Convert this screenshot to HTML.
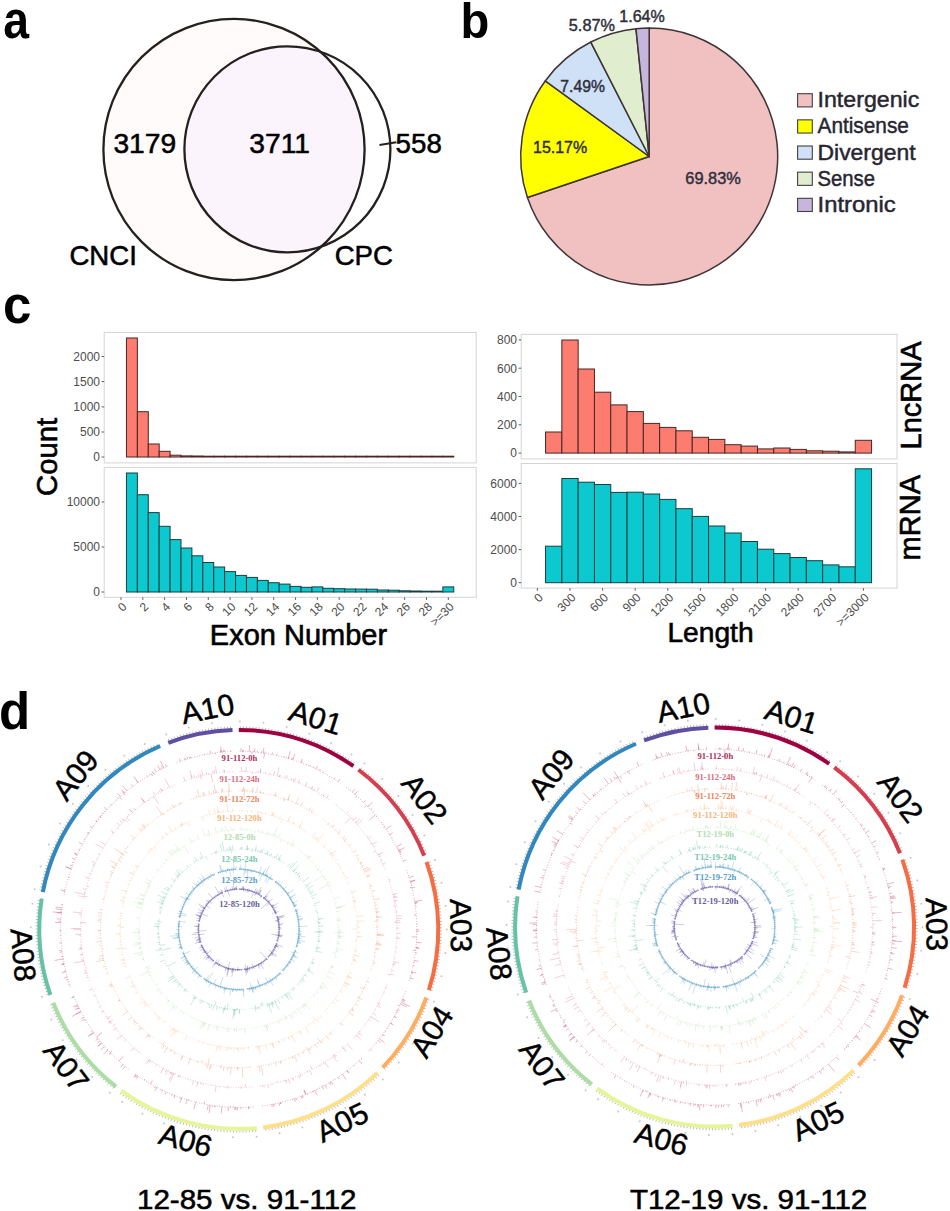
<!DOCTYPE html>
<html><head><meta charset="utf-8"><title>Figure</title>
<style>html,body{margin:0;padding:0;background:#fff;}body{width:950px;height:1211px;overflow:hidden;font-family:"Liberation Sans",sans-serif;}svg{display:block;}</style>
</head><body>
<svg width="950" height="1211" viewBox="0 0 950 1211"><text x="3.3" y="37.8" font-size="51" fill="#000" text-anchor="start" font-weight="bold" font-family='"Liberation Sans", sans-serif' textLength="25.8" lengthAdjust="spacingAndGlyphs" >a</text>
<text x="460.6" y="37.5" font-size="49.8" fill="#000" text-anchor="start" font-weight="bold" font-family='"Liberation Sans", sans-serif' textLength="28.8" lengthAdjust="spacingAndGlyphs" >b</text>
<text x="3" y="322.8" font-size="51" fill="#000" text-anchor="start" font-weight="bold" font-family='"Liberation Sans", sans-serif' >c</text>
<text x="-1" y="729.3" font-size="51" fill="#000" text-anchor="start" font-weight="bold" font-family='"Liberation Sans", sans-serif' >d</text>
<defs><clipPath id="bigc"><circle cx="234.0" cy="149.5" r="130.6"/></clipPath></defs>
<circle cx="234.0" cy="149.5" r="130.6" fill="#fffbfa"/>
<circle cx="287.4" cy="149.3" r="103.0" fill="#fcf4fd" clip-path="url(#bigc)"/>
<circle cx="234.0" cy="149.5" r="130.6" fill="none" stroke="#24201e" stroke-width="2.3"/>
<circle cx="287.4" cy="149.3" r="103.0" fill="none" stroke="#24201e" stroke-width="2.3"/>
<line x1="379.5" y1="145" x2="396.3" y2="142.3" stroke="#24201e" stroke-width="1.9"/>
<text x="113.4" y="152.8" font-size="28.2" fill="#000" text-anchor="start" font-weight="normal" font-family='"Liberation Sans", sans-serif' stroke="#000" stroke-width="0.55">3179</text>
<text x="249.3" y="152.8" font-size="28.2" fill="#000" text-anchor="start" font-weight="normal" font-family='"Liberation Sans", sans-serif' stroke="#000" stroke-width="0.55">3711</text>
<text x="395.6" y="152.8" font-size="28.2" fill="#000" text-anchor="start" font-weight="normal" font-family='"Liberation Sans", sans-serif' textLength="46.2" lengthAdjust="spacingAndGlyphs" stroke="#000" stroke-width="0.55">558</text>
<text x="69.4" y="264.6" font-size="27.6" fill="#000" text-anchor="start" font-weight="normal" font-family='"Liberation Sans", sans-serif' stroke="#000" stroke-width="0.55">CNCI</text>
<text x="334.7" y="264.7" font-size="27.6" fill="#000" text-anchor="start" font-weight="normal" font-family='"Liberation Sans", sans-serif' stroke="#000" stroke-width="0.55">CPC</text>
<path d="M649.2 156.5 L649.2 28 A128.5 128.5 0 1 1 527.42 197.51 Z" fill="#f1c1c1" stroke="#3e3434" stroke-width="1.5" stroke-linejoin="round"/>
<path d="M649.2 156.5 L527.42 197.51 A128.5 128.5 0 0 1 545.24 80.97 Z" fill="#ffff00" stroke="#3e3434" stroke-width="1.5" stroke-linejoin="round"/>
<path d="M649.2 156.5 L545.24 80.97 A128.5 128.5 0 0 1 590.79 42.04 Z" fill="#cfe1f6" stroke="#3e3434" stroke-width="1.5" stroke-linejoin="round"/>
<path d="M649.2 156.5 L590.79 42.04 A128.5 128.5 0 0 1 635.98 28.68 Z" fill="#e1edcf" stroke="#3e3434" stroke-width="1.5" stroke-linejoin="round"/>
<path d="M649.2 156.5 L635.98 28.68 A128.5 128.5 0 0 1 649.2 28 Z" fill="#c6b6dd" stroke="#3e3434" stroke-width="1.5" stroke-linejoin="round"/>
<text x="619.3" y="22.1" font-size="16.5" fill="#2e2e3c" text-anchor="start" font-weight="normal" font-family='"Liberation Sans", sans-serif' textLength="45.5" lengthAdjust="spacingAndGlyphs" stroke="#2e2e3c" stroke-width="0.45">1.64%</text>
<text x="568.8" y="30.5" font-size="16.5" fill="#2e2e3c" text-anchor="start" font-weight="normal" font-family='"Liberation Sans", sans-serif' textLength="46.2" lengthAdjust="spacingAndGlyphs" stroke="#2e2e3c" stroke-width="0.45">5.87%</text>
<text x="560.3" y="91.6" font-size="16.5" fill="#2e2e3c" text-anchor="start" font-weight="normal" font-family='"Liberation Sans", sans-serif' textLength="44.6" lengthAdjust="spacingAndGlyphs" stroke="#2e2e3c" stroke-width="0.45">7.49%</text>
<text x="533" y="152.9" font-size="16.5" fill="#2e2e3c" text-anchor="start" font-weight="normal" font-family='"Liberation Sans", sans-serif' textLength="54.2" lengthAdjust="spacingAndGlyphs" stroke="#2e2e3c" stroke-width="0.45">15.17%</text>
<text x="685.3" y="184.4" font-size="16.5" fill="#2e2e3c" text-anchor="start" font-weight="normal" font-family='"Liberation Sans", sans-serif' textLength="55.5" lengthAdjust="spacingAndGlyphs" stroke="#2e2e3c" stroke-width="0.45">69.83%</text>
<rect x="797.6" y="93.7" width="14.7" height="13.2" fill="#f1c1c1" stroke="#404040" stroke-width="1.1"/>
<rect x="797.6" y="119.85" width="14.7" height="13.2" fill="#ffff00" stroke="#404040" stroke-width="1.1"/>
<rect x="797.6" y="146" width="14.7" height="13.2" fill="#cfe1f6" stroke="#404040" stroke-width="1.1"/>
<rect x="797.6" y="172.15" width="14.7" height="13.2" fill="#e1edcf" stroke="#404040" stroke-width="1.1"/>
<rect x="797.6" y="198.3" width="14.7" height="13.2" fill="#c6b6dd" stroke="#404040" stroke-width="1.1"/>
<text x="817.5" y="107.3" font-size="21.6" fill="#262630" text-anchor="start" font-weight="normal" font-family='"Liberation Sans", sans-serif' textLength="101.8" lengthAdjust="spacingAndGlyphs" stroke="#262630" stroke-width="0.45">Intergenic</text>
<text x="817.5" y="133.45" font-size="21.6" fill="#262630" text-anchor="start" font-weight="normal" font-family='"Liberation Sans", sans-serif' textLength="91.4" lengthAdjust="spacingAndGlyphs" stroke="#262630" stroke-width="0.45">Antisense</text>
<text x="817.5" y="159.6" font-size="21.6" fill="#262630" text-anchor="start" font-weight="normal" font-family='"Liberation Sans", sans-serif' textLength="98.1" lengthAdjust="spacingAndGlyphs" stroke="#262630" stroke-width="0.45">Divergent</text>
<text x="817.5" y="185.75" font-size="21.6" fill="#262630" text-anchor="start" font-weight="normal" font-family='"Liberation Sans", sans-serif' textLength="57.5" lengthAdjust="spacingAndGlyphs" stroke="#262630" stroke-width="0.45">Sense</text>
<text x="817.5" y="211.9" font-size="21.6" fill="#262630" text-anchor="start" font-weight="normal" font-family='"Liberation Sans", sans-serif' textLength="78.2" lengthAdjust="spacingAndGlyphs" stroke="#262630" stroke-width="0.45">Intronic</text>
<rect x="104.2" y="332.4" width="372" height="130.5" fill="#fff" stroke="#d4d4d4" stroke-width="1"/>
<rect x="104.2" y="467.4" width="372" height="129.9" fill="#fff" stroke="#d4d4d4" stroke-width="1"/>
<rect x="126.45" y="338" width="10.91" height="119" fill="#fc7c70" stroke="#4a2623" stroke-width="1"/>
<rect x="137.36" y="411.7" width="10.91" height="45.3" fill="#fc7c70" stroke="#4a2623" stroke-width="1"/>
<rect x="148.28" y="444" width="10.91" height="13" fill="#fc7c70" stroke="#4a2623" stroke-width="1"/>
<rect x="159.18" y="451.3" width="10.91" height="5.7" fill="#fc7c70" stroke="#4a2623" stroke-width="1"/>
<rect x="170.09" y="455.2" width="10.91" height="1.8" fill="#fc7c70" stroke="#4a2623" stroke-width="1"/>
<rect x="181" y="455.9" width="10.91" height="1.1" fill="#fc7c70" stroke="#4a2623" stroke-width="1"/>
<rect x="191.91" y="456" width="10.91" height="1" fill="#fc7c70" stroke="#4a2623" stroke-width="1"/>
<rect x="202.82" y="456.2" width="10.91" height="0.8" fill="#fc7c70" stroke="#4a2623" stroke-width="1"/>
<rect x="213.73" y="456.2" width="10.91" height="0.8" fill="#fc7c70" stroke="#4a2623" stroke-width="1"/>
<rect x="224.64" y="456.2" width="10.91" height="0.8" fill="#fc7c70" stroke="#4a2623" stroke-width="1"/>
<rect x="235.55" y="456.2" width="10.91" height="0.8" fill="#fc7c70" stroke="#4a2623" stroke-width="1"/>
<rect x="246.47" y="456.2" width="10.91" height="0.8" fill="#fc7c70" stroke="#4a2623" stroke-width="1"/>
<rect x="257.38" y="456.2" width="10.91" height="0.8" fill="#fc7c70" stroke="#4a2623" stroke-width="1"/>
<rect x="268.29" y="456.2" width="10.91" height="0.8" fill="#fc7c70" stroke="#4a2623" stroke-width="1"/>
<rect x="279.19" y="456.2" width="10.91" height="0.8" fill="#fc7c70" stroke="#4a2623" stroke-width="1"/>
<rect x="290.11" y="456.2" width="10.91" height="0.8" fill="#fc7c70" stroke="#4a2623" stroke-width="1"/>
<rect x="301.02" y="456.2" width="10.91" height="0.8" fill="#fc7c70" stroke="#4a2623" stroke-width="1"/>
<rect x="311.93" y="456.2" width="10.91" height="0.8" fill="#fc7c70" stroke="#4a2623" stroke-width="1"/>
<rect x="322.83" y="456.2" width="10.91" height="0.8" fill="#fc7c70" stroke="#4a2623" stroke-width="1"/>
<rect x="333.75" y="456.2" width="10.91" height="0.8" fill="#fc7c70" stroke="#4a2623" stroke-width="1"/>
<rect x="344.66" y="456.2" width="10.91" height="0.8" fill="#fc7c70" stroke="#4a2623" stroke-width="1"/>
<rect x="355.56" y="456.2" width="10.91" height="0.8" fill="#fc7c70" stroke="#4a2623" stroke-width="1"/>
<rect x="366.48" y="456.2" width="10.91" height="0.8" fill="#fc7c70" stroke="#4a2623" stroke-width="1"/>
<rect x="377.39" y="456.2" width="10.91" height="0.8" fill="#fc7c70" stroke="#4a2623" stroke-width="1"/>
<rect x="388.3" y="456.2" width="10.91" height="0.8" fill="#fc7c70" stroke="#4a2623" stroke-width="1"/>
<rect x="399.21" y="456.2" width="10.91" height="0.8" fill="#fc7c70" stroke="#4a2623" stroke-width="1"/>
<rect x="410.12" y="456.2" width="10.91" height="0.8" fill="#fc7c70" stroke="#4a2623" stroke-width="1"/>
<rect x="421.03" y="456.2" width="10.91" height="0.8" fill="#fc7c70" stroke="#4a2623" stroke-width="1"/>
<rect x="431.94" y="456.2" width="10.91" height="0.8" fill="#fc7c70" stroke="#4a2623" stroke-width="1"/>
<rect x="442.85" y="456.2" width="10.91" height="0.8" fill="#fc7c70" stroke="#4a2623" stroke-width="1"/>
<line x1="101.6" y1="457" x2="104.2" y2="457" stroke="#4d4d4d" stroke-width="0.9"/>
<text x="100" y="461.3" font-size="12" fill="#4d4d4d" text-anchor="end" font-weight="normal" font-family='"Liberation Sans", sans-serif' >0</text>
<line x1="101.6" y1="432" x2="104.2" y2="432" stroke="#4d4d4d" stroke-width="0.9"/>
<text x="100" y="436.3" font-size="12" fill="#4d4d4d" text-anchor="end" font-weight="normal" font-family='"Liberation Sans", sans-serif' >500</text>
<line x1="101.6" y1="406.9" x2="104.2" y2="406.9" stroke="#4d4d4d" stroke-width="0.9"/>
<text x="100" y="411.2" font-size="12" fill="#4d4d4d" text-anchor="end" font-weight="normal" font-family='"Liberation Sans", sans-serif' >1000</text>
<line x1="101.6" y1="381.6" x2="104.2" y2="381.6" stroke="#4d4d4d" stroke-width="0.9"/>
<text x="100" y="385.9" font-size="12" fill="#4d4d4d" text-anchor="end" font-weight="normal" font-family='"Liberation Sans", sans-serif' >1500</text>
<line x1="101.6" y1="356.5" x2="104.2" y2="356.5" stroke="#4d4d4d" stroke-width="0.9"/>
<text x="100" y="360.8" font-size="12" fill="#4d4d4d" text-anchor="end" font-weight="normal" font-family='"Liberation Sans", sans-serif' >2000</text>
<rect x="126.45" y="473" width="10.91" height="119" fill="#0bc9cf" stroke="#173f40" stroke-width="1"/>
<rect x="137.36" y="494.7" width="10.91" height="97.3" fill="#0bc9cf" stroke="#173f40" stroke-width="1"/>
<rect x="148.28" y="512.6" width="10.91" height="79.4" fill="#0bc9cf" stroke="#173f40" stroke-width="1"/>
<rect x="159.18" y="526.3" width="10.91" height="65.7" fill="#0bc9cf" stroke="#173f40" stroke-width="1"/>
<rect x="170.09" y="539.6" width="10.91" height="52.4" fill="#0bc9cf" stroke="#173f40" stroke-width="1"/>
<rect x="181" y="548" width="10.91" height="44" fill="#0bc9cf" stroke="#173f40" stroke-width="1"/>
<rect x="191.91" y="555.8" width="10.91" height="36.2" fill="#0bc9cf" stroke="#173f40" stroke-width="1"/>
<rect x="202.82" y="562.5" width="10.91" height="29.5" fill="#0bc9cf" stroke="#173f40" stroke-width="1"/>
<rect x="213.73" y="567" width="10.91" height="25" fill="#0bc9cf" stroke="#173f40" stroke-width="1"/>
<rect x="224.64" y="571.6" width="10.91" height="20.4" fill="#0bc9cf" stroke="#173f40" stroke-width="1"/>
<rect x="235.55" y="575.4" width="10.91" height="16.6" fill="#0bc9cf" stroke="#173f40" stroke-width="1"/>
<rect x="246.47" y="577.4" width="10.91" height="14.6" fill="#0bc9cf" stroke="#173f40" stroke-width="1"/>
<rect x="257.38" y="580.4" width="10.91" height="11.6" fill="#0bc9cf" stroke="#173f40" stroke-width="1"/>
<rect x="268.29" y="582.7" width="10.91" height="9.3" fill="#0bc9cf" stroke="#173f40" stroke-width="1"/>
<rect x="279.19" y="584.1" width="10.91" height="7.9" fill="#0bc9cf" stroke="#173f40" stroke-width="1"/>
<rect x="290.11" y="586.4" width="10.91" height="5.6" fill="#0bc9cf" stroke="#173f40" stroke-width="1"/>
<rect x="301.02" y="587.3" width="10.91" height="4.7" fill="#0bc9cf" stroke="#173f40" stroke-width="1"/>
<rect x="311.93" y="586.9" width="10.91" height="5.1" fill="#0bc9cf" stroke="#173f40" stroke-width="1"/>
<rect x="322.83" y="588.3" width="10.91" height="3.7" fill="#0bc9cf" stroke="#173f40" stroke-width="1"/>
<rect x="333.75" y="588.7" width="10.91" height="3.3" fill="#0bc9cf" stroke="#173f40" stroke-width="1"/>
<rect x="344.66" y="589" width="10.91" height="3" fill="#0bc9cf" stroke="#173f40" stroke-width="1"/>
<rect x="355.56" y="589.1" width="10.91" height="2.9" fill="#0bc9cf" stroke="#173f40" stroke-width="1"/>
<rect x="366.48" y="589.2" width="10.91" height="2.8" fill="#0bc9cf" stroke="#173f40" stroke-width="1"/>
<rect x="377.39" y="590" width="10.91" height="2" fill="#0bc9cf" stroke="#173f40" stroke-width="1"/>
<rect x="388.3" y="590.2" width="10.91" height="1.8" fill="#0bc9cf" stroke="#173f40" stroke-width="1"/>
<rect x="399.21" y="590.8" width="10.91" height="1.2" fill="#0bc9cf" stroke="#173f40" stroke-width="1"/>
<rect x="410.12" y="591" width="10.91" height="1" fill="#0bc9cf" stroke="#173f40" stroke-width="1"/>
<rect x="421.03" y="591.2" width="10.91" height="0.8" fill="#0bc9cf" stroke="#173f40" stroke-width="1"/>
<rect x="431.94" y="591.2" width="10.91" height="0.8" fill="#0bc9cf" stroke="#173f40" stroke-width="1"/>
<rect x="442.85" y="586.9" width="10.91" height="5.1" fill="#0bc9cf" stroke="#173f40" stroke-width="1"/>
<line x1="101.6" y1="592" x2="104.2" y2="592" stroke="#4d4d4d" stroke-width="0.9"/>
<text x="100" y="596.3" font-size="12" fill="#4d4d4d" text-anchor="end" font-weight="normal" font-family='"Liberation Sans", sans-serif' >0</text>
<line x1="101.6" y1="547" x2="104.2" y2="547" stroke="#4d4d4d" stroke-width="0.9"/>
<text x="100" y="551.3" font-size="12" fill="#4d4d4d" text-anchor="end" font-weight="normal" font-family='"Liberation Sans", sans-serif' >5000</text>
<line x1="101.6" y1="502" x2="104.2" y2="502" stroke="#4d4d4d" stroke-width="0.9"/>
<text x="100" y="506.3" font-size="12" fill="#4d4d4d" text-anchor="end" font-weight="normal" font-family='"Liberation Sans", sans-serif' >10000</text>
<line x1="121" y1="597.3" x2="121" y2="599.9" stroke="#4d4d4d" stroke-width="0.9"/>
<text transform="translate(127.4 607.5) rotate(-45)" font-size="12" fill="#4d4d4d" text-anchor="end" font-family='"Liberation Sans", sans-serif'>0</text>
<line x1="142.82" y1="597.3" x2="142.82" y2="599.9" stroke="#4d4d4d" stroke-width="0.9"/>
<text transform="translate(149.22 607.5) rotate(-45)" font-size="12" fill="#4d4d4d" text-anchor="end" font-family='"Liberation Sans", sans-serif'>2</text>
<line x1="164.64" y1="597.3" x2="164.64" y2="599.9" stroke="#4d4d4d" stroke-width="0.9"/>
<text transform="translate(171.04 607.5) rotate(-45)" font-size="12" fill="#4d4d4d" text-anchor="end" font-family='"Liberation Sans", sans-serif'>4</text>
<line x1="186.46" y1="597.3" x2="186.46" y2="599.9" stroke="#4d4d4d" stroke-width="0.9"/>
<text transform="translate(192.86 607.5) rotate(-45)" font-size="12" fill="#4d4d4d" text-anchor="end" font-family='"Liberation Sans", sans-serif'>6</text>
<line x1="208.28" y1="597.3" x2="208.28" y2="599.9" stroke="#4d4d4d" stroke-width="0.9"/>
<text transform="translate(214.68 607.5) rotate(-45)" font-size="12" fill="#4d4d4d" text-anchor="end" font-family='"Liberation Sans", sans-serif'>8</text>
<line x1="230.1" y1="597.3" x2="230.1" y2="599.9" stroke="#4d4d4d" stroke-width="0.9"/>
<text transform="translate(236.5 607.5) rotate(-45)" font-size="12" fill="#4d4d4d" text-anchor="end" font-family='"Liberation Sans", sans-serif'>10</text>
<line x1="251.92" y1="597.3" x2="251.92" y2="599.9" stroke="#4d4d4d" stroke-width="0.9"/>
<text transform="translate(258.32 607.5) rotate(-45)" font-size="12" fill="#4d4d4d" text-anchor="end" font-family='"Liberation Sans", sans-serif'>12</text>
<line x1="273.74" y1="597.3" x2="273.74" y2="599.9" stroke="#4d4d4d" stroke-width="0.9"/>
<text transform="translate(280.14 607.5) rotate(-45)" font-size="12" fill="#4d4d4d" text-anchor="end" font-family='"Liberation Sans", sans-serif'>14</text>
<line x1="295.56" y1="597.3" x2="295.56" y2="599.9" stroke="#4d4d4d" stroke-width="0.9"/>
<text transform="translate(301.96 607.5) rotate(-45)" font-size="12" fill="#4d4d4d" text-anchor="end" font-family='"Liberation Sans", sans-serif'>16</text>
<line x1="317.38" y1="597.3" x2="317.38" y2="599.9" stroke="#4d4d4d" stroke-width="0.9"/>
<text transform="translate(323.78 607.5) rotate(-45)" font-size="12" fill="#4d4d4d" text-anchor="end" font-family='"Liberation Sans", sans-serif'>18</text>
<line x1="339.2" y1="597.3" x2="339.2" y2="599.9" stroke="#4d4d4d" stroke-width="0.9"/>
<text transform="translate(345.6 607.5) rotate(-45)" font-size="12" fill="#4d4d4d" text-anchor="end" font-family='"Liberation Sans", sans-serif'>20</text>
<line x1="361.02" y1="597.3" x2="361.02" y2="599.9" stroke="#4d4d4d" stroke-width="0.9"/>
<text transform="translate(367.42 607.5) rotate(-45)" font-size="12" fill="#4d4d4d" text-anchor="end" font-family='"Liberation Sans", sans-serif'>22</text>
<line x1="382.84" y1="597.3" x2="382.84" y2="599.9" stroke="#4d4d4d" stroke-width="0.9"/>
<text transform="translate(389.24 607.5) rotate(-45)" font-size="12" fill="#4d4d4d" text-anchor="end" font-family='"Liberation Sans", sans-serif'>24</text>
<line x1="404.66" y1="597.3" x2="404.66" y2="599.9" stroke="#4d4d4d" stroke-width="0.9"/>
<text transform="translate(411.06 607.5) rotate(-45)" font-size="12" fill="#4d4d4d" text-anchor="end" font-family='"Liberation Sans", sans-serif'>26</text>
<line x1="426.48" y1="597.3" x2="426.48" y2="599.9" stroke="#4d4d4d" stroke-width="0.9"/>
<text transform="translate(432.88 607.5) rotate(-45)" font-size="12" fill="#4d4d4d" text-anchor="end" font-family='"Liberation Sans", sans-serif'>28</text>
<line x1="448.3" y1="597.3" x2="448.3" y2="599.9" stroke="#4d4d4d" stroke-width="0.9"/>
<text transform="translate(454.7 607.5) rotate(-45)" font-size="12" fill="#4d4d4d" text-anchor="end" font-family='"Liberation Sans", sans-serif'>&gt;=30</text>
<rect x="521.2" y="334.3" width="375.8" height="124.6" fill="#fff" stroke="#d4d4d4" stroke-width="1"/>
<rect x="521.2" y="463.5" width="375.8" height="124.6" fill="#fff" stroke="#d4d4d4" stroke-width="1"/>
<rect x="545.55" y="432" width="16.3" height="21.1" fill="#fc7c70" stroke="#4a2623" stroke-width="1"/>
<rect x="561.85" y="340" width="16.3" height="113.1" fill="#fc7c70" stroke="#4a2623" stroke-width="1"/>
<rect x="578.15" y="369" width="16.3" height="84.1" fill="#fc7c70" stroke="#4a2623" stroke-width="1"/>
<rect x="594.45" y="392.2" width="16.3" height="60.9" fill="#fc7c70" stroke="#4a2623" stroke-width="1"/>
<rect x="610.75" y="404.9" width="16.3" height="48.2" fill="#fc7c70" stroke="#4a2623" stroke-width="1"/>
<rect x="627.05" y="411.6" width="16.3" height="41.5" fill="#fc7c70" stroke="#4a2623" stroke-width="1"/>
<rect x="643.35" y="423.4" width="16.3" height="29.7" fill="#fc7c70" stroke="#4a2623" stroke-width="1"/>
<rect x="659.65" y="427.4" width="16.3" height="25.7" fill="#fc7c70" stroke="#4a2623" stroke-width="1"/>
<rect x="675.95" y="430.8" width="16.3" height="22.3" fill="#fc7c70" stroke="#4a2623" stroke-width="1"/>
<rect x="692.25" y="437.3" width="16.3" height="15.8" fill="#fc7c70" stroke="#4a2623" stroke-width="1"/>
<rect x="708.56" y="439.4" width="16.3" height="13.7" fill="#fc7c70" stroke="#4a2623" stroke-width="1"/>
<rect x="724.86" y="444.7" width="16.3" height="8.4" fill="#fc7c70" stroke="#4a2623" stroke-width="1"/>
<rect x="741.16" y="446.1" width="16.3" height="7" fill="#fc7c70" stroke="#4a2623" stroke-width="1"/>
<rect x="757.46" y="448.9" width="16.3" height="4.2" fill="#fc7c70" stroke="#4a2623" stroke-width="1"/>
<rect x="773.76" y="448" width="16.3" height="5.1" fill="#fc7c70" stroke="#4a2623" stroke-width="1"/>
<rect x="790.06" y="449.4" width="16.3" height="3.7" fill="#fc7c70" stroke="#4a2623" stroke-width="1"/>
<rect x="806.36" y="450.8" width="16.3" height="2.3" fill="#fc7c70" stroke="#4a2623" stroke-width="1"/>
<rect x="822.66" y="451.2" width="16.3" height="1.9" fill="#fc7c70" stroke="#4a2623" stroke-width="1"/>
<rect x="838.96" y="451.9" width="16.3" height="1.2" fill="#fc7c70" stroke="#4a2623" stroke-width="1"/>
<rect x="855.26" y="440.3" width="16.3" height="12.8" fill="#fc7c70" stroke="#4a2623" stroke-width="1"/>
<line x1="518.6" y1="453.1" x2="521.2" y2="453.1" stroke="#4d4d4d" stroke-width="0.9"/>
<text x="517" y="457.4" font-size="12" fill="#4d4d4d" text-anchor="end" font-weight="normal" font-family='"Liberation Sans", sans-serif' >0</text>
<line x1="518.6" y1="424.8" x2="521.2" y2="424.8" stroke="#4d4d4d" stroke-width="0.9"/>
<text x="517" y="429.1" font-size="12" fill="#4d4d4d" text-anchor="end" font-weight="normal" font-family='"Liberation Sans", sans-serif' >200</text>
<line x1="518.6" y1="396.5" x2="521.2" y2="396.5" stroke="#4d4d4d" stroke-width="0.9"/>
<text x="517" y="400.8" font-size="12" fill="#4d4d4d" text-anchor="end" font-weight="normal" font-family='"Liberation Sans", sans-serif' >400</text>
<line x1="518.6" y1="368.2" x2="521.2" y2="368.2" stroke="#4d4d4d" stroke-width="0.9"/>
<text x="517" y="372.5" font-size="12" fill="#4d4d4d" text-anchor="end" font-weight="normal" font-family='"Liberation Sans", sans-serif' >600</text>
<line x1="518.6" y1="339.9" x2="521.2" y2="339.9" stroke="#4d4d4d" stroke-width="0.9"/>
<text x="517" y="344.2" font-size="12" fill="#4d4d4d" text-anchor="end" font-weight="normal" font-family='"Liberation Sans", sans-serif' >800</text>
<rect x="545.55" y="546.2" width="16.3" height="36.5" fill="#0bc9cf" stroke="#173f40" stroke-width="1"/>
<rect x="561.85" y="478.5" width="16.3" height="104.2" fill="#0bc9cf" stroke="#173f40" stroke-width="1"/>
<rect x="578.15" y="482.2" width="16.3" height="100.5" fill="#0bc9cf" stroke="#173f40" stroke-width="1"/>
<rect x="594.45" y="484.5" width="16.3" height="98.2" fill="#0bc9cf" stroke="#173f40" stroke-width="1"/>
<rect x="610.75" y="492.4" width="16.3" height="90.3" fill="#0bc9cf" stroke="#173f40" stroke-width="1"/>
<rect x="627.05" y="492.2" width="16.3" height="90.5" fill="#0bc9cf" stroke="#173f40" stroke-width="1"/>
<rect x="643.35" y="494" width="16.3" height="88.7" fill="#0bc9cf" stroke="#173f40" stroke-width="1"/>
<rect x="659.65" y="499.4" width="16.3" height="83.3" fill="#0bc9cf" stroke="#173f40" stroke-width="1"/>
<rect x="675.95" y="508.7" width="16.3" height="74" fill="#0bc9cf" stroke="#173f40" stroke-width="1"/>
<rect x="692.25" y="516.4" width="16.3" height="66.3" fill="#0bc9cf" stroke="#173f40" stroke-width="1"/>
<rect x="708.56" y="526" width="16.3" height="56.7" fill="#0bc9cf" stroke="#173f40" stroke-width="1"/>
<rect x="724.86" y="533" width="16.3" height="49.7" fill="#0bc9cf" stroke="#173f40" stroke-width="1"/>
<rect x="741.16" y="541.5" width="16.3" height="41.2" fill="#0bc9cf" stroke="#173f40" stroke-width="1"/>
<rect x="757.46" y="549.2" width="16.3" height="33.5" fill="#0bc9cf" stroke="#173f40" stroke-width="1"/>
<rect x="773.76" y="553.6" width="16.3" height="29.1" fill="#0bc9cf" stroke="#173f40" stroke-width="1"/>
<rect x="790.06" y="557.5" width="16.3" height="25.2" fill="#0bc9cf" stroke="#173f40" stroke-width="1"/>
<rect x="806.36" y="560.7" width="16.3" height="22" fill="#0bc9cf" stroke="#173f40" stroke-width="1"/>
<rect x="822.66" y="564.9" width="16.3" height="17.8" fill="#0bc9cf" stroke="#173f40" stroke-width="1"/>
<rect x="838.96" y="566.8" width="16.3" height="15.9" fill="#0bc9cf" stroke="#173f40" stroke-width="1"/>
<rect x="855.26" y="468.8" width="16.3" height="113.9" fill="#0bc9cf" stroke="#173f40" stroke-width="1"/>
<line x1="518.6" y1="582.7" x2="521.2" y2="582.7" stroke="#4d4d4d" stroke-width="0.9"/>
<text x="517" y="587" font-size="12" fill="#4d4d4d" text-anchor="end" font-weight="normal" font-family='"Liberation Sans", sans-serif' >0</text>
<line x1="518.6" y1="549.6" x2="521.2" y2="549.6" stroke="#4d4d4d" stroke-width="0.9"/>
<text x="517" y="553.9" font-size="12" fill="#4d4d4d" text-anchor="end" font-weight="normal" font-family='"Liberation Sans", sans-serif' >2000</text>
<line x1="518.6" y1="516.5" x2="521.2" y2="516.5" stroke="#4d4d4d" stroke-width="0.9"/>
<text x="517" y="520.8" font-size="12" fill="#4d4d4d" text-anchor="end" font-weight="normal" font-family='"Liberation Sans", sans-serif' >4000</text>
<line x1="518.6" y1="483.4" x2="521.2" y2="483.4" stroke="#4d4d4d" stroke-width="0.9"/>
<text x="517" y="487.7" font-size="12" fill="#4d4d4d" text-anchor="end" font-weight="normal" font-family='"Liberation Sans", sans-serif' >6000</text>
<line x1="537.4" y1="588.1" x2="537.4" y2="590.7" stroke="#4d4d4d" stroke-width="0.9"/>
<text transform="translate(543.8 598.3) rotate(-45)" font-size="12" fill="#4d4d4d" text-anchor="end" font-family='"Liberation Sans", sans-serif'>0</text>
<line x1="570" y1="588.1" x2="570" y2="590.7" stroke="#4d4d4d" stroke-width="0.9"/>
<text transform="translate(576.4 598.3) rotate(-45)" font-size="12" fill="#4d4d4d" text-anchor="end" font-family='"Liberation Sans", sans-serif'>300</text>
<line x1="602.6" y1="588.1" x2="602.6" y2="590.7" stroke="#4d4d4d" stroke-width="0.9"/>
<text transform="translate(609 598.3) rotate(-45)" font-size="12" fill="#4d4d4d" text-anchor="end" font-family='"Liberation Sans", sans-serif'>600</text>
<line x1="635.2" y1="588.1" x2="635.2" y2="590.7" stroke="#4d4d4d" stroke-width="0.9"/>
<text transform="translate(641.6 598.3) rotate(-45)" font-size="12" fill="#4d4d4d" text-anchor="end" font-family='"Liberation Sans", sans-serif'>900</text>
<line x1="667.8" y1="588.1" x2="667.8" y2="590.7" stroke="#4d4d4d" stroke-width="0.9"/>
<text transform="translate(674.2 598.3) rotate(-45)" font-size="12" fill="#4d4d4d" text-anchor="end" font-family='"Liberation Sans", sans-serif'>1200</text>
<line x1="700.4" y1="588.1" x2="700.4" y2="590.7" stroke="#4d4d4d" stroke-width="0.9"/>
<text transform="translate(706.8 598.3) rotate(-45)" font-size="12" fill="#4d4d4d" text-anchor="end" font-family='"Liberation Sans", sans-serif'>1500</text>
<line x1="733.01" y1="588.1" x2="733.01" y2="590.7" stroke="#4d4d4d" stroke-width="0.9"/>
<text transform="translate(739.41 598.3) rotate(-45)" font-size="12" fill="#4d4d4d" text-anchor="end" font-family='"Liberation Sans", sans-serif'>1800</text>
<line x1="765.61" y1="588.1" x2="765.61" y2="590.7" stroke="#4d4d4d" stroke-width="0.9"/>
<text transform="translate(772.01 598.3) rotate(-45)" font-size="12" fill="#4d4d4d" text-anchor="end" font-family='"Liberation Sans", sans-serif'>2100</text>
<line x1="798.21" y1="588.1" x2="798.21" y2="590.7" stroke="#4d4d4d" stroke-width="0.9"/>
<text transform="translate(804.61 598.3) rotate(-45)" font-size="12" fill="#4d4d4d" text-anchor="end" font-family='"Liberation Sans", sans-serif'>2400</text>
<line x1="830.81" y1="588.1" x2="830.81" y2="590.7" stroke="#4d4d4d" stroke-width="0.9"/>
<text transform="translate(837.21 598.3) rotate(-45)" font-size="12" fill="#4d4d4d" text-anchor="end" font-family='"Liberation Sans", sans-serif'>2700</text>
<line x1="863.41" y1="588.1" x2="863.41" y2="590.7" stroke="#4d4d4d" stroke-width="0.9"/>
<text transform="translate(869.81 598.3) rotate(-45)" font-size="12" fill="#4d4d4d" text-anchor="end" font-family='"Liberation Sans", sans-serif'>&gt;=3000</text>
<text transform="translate(56.6 456.9) rotate(-90)" font-size="29.3" text-anchor="middle" stroke="#000" stroke-width="0.6" font-family='"Liberation Sans", sans-serif'>Count</text>
<text x="209.8" y="644.7" font-size="28.7" fill="#000" text-anchor="start" font-weight="normal" font-family='"Liberation Sans", sans-serif' textLength="177.3" lengthAdjust="spacingAndGlyphs" stroke="#000" stroke-width="0.6">Exon Number</text>
<text x="667.4" y="641.6" font-size="28.2" fill="#000" text-anchor="start" font-weight="normal" font-family='"Liberation Sans", sans-serif' stroke="#000" stroke-width="0.6">Length</text>
<text transform="translate(920.8 395.5) rotate(-90)" font-size="29" text-anchor="middle" stroke="#000" stroke-width="0.6" font-family='"Liberation Sans", sans-serif'>LncRNA</text>
<text transform="translate(920.2 517.7) rotate(-90)" font-size="29" text-anchor="middle" stroke="#000" stroke-width="0.6" font-family='"Liberation Sans", sans-serif'>mRNA</text>
<g><path d="M240.2 728.3L240.22 726.3M243.36 728.35L243.41 726.35M246.52 728.45L246.6 726.45M249.68 728.59L249.78 726.6M252.83 728.79L252.97 726.79M255.98 729.03L256.15 727.04M259.12 729.33L259.32 727.34M262.26 729.67L262.5 727.69M265.4 730.07L265.66 728.08M268.52 730.51L268.82 728.53M271.64 731L271.97 729.03M274.76 731.54L275.11 729.57M277.86 732.13L278.25 730.17M280.95 732.77L281.37 730.81M284.04 733.45L284.49 731.51M287.11 734.19L287.59 732.25M290.17 734.97L290.68 733.04M293.22 735.8L293.76 733.88M296.25 736.68L296.82 734.76M299.27 737.61L299.87 735.7M302.28 738.58L302.91 736.68M305.27 739.6L305.93 737.71M308.24 740.67L308.93 738.79M311.2 741.78L311.92 739.92M314.13 742.94L314.88 741.09M317.05 744.15L317.83 742.31M319.95 745.4L320.76 743.57M322.83 746.7L323.67 744.88M325.69 748.04L326.56 746.24M328.53 749.43L329.42 747.64M331.35 750.86L332.27 749.08M334.14 752.34L335.09 750.58M336.91 753.86L337.88 752.11M339.65 755.42L340.66 753.69M342.37 757.02L343.4 755.31M345.07 758.67L346.13 756.97M347.74 760.36L348.82 758.68M350.38 762.09L351.49 760.43M352.99 763.87L354.13 762.22M360.52 769.32L361.74 767.73M363.02 771.26L364.26 769.68M365.49 773.23L366.75 771.67M367.93 775.24L369.21 773.7M370.34 777.28L371.64 775.77M372.71 779.37L374.04 777.88M375.05 781.49L376.4 780.02M377.36 783.65L378.73 782.2M379.63 785.84L381.03 784.41M381.87 788.07L383.29 786.67M384.07 790.34L385.51 788.95M386.23 792.64L387.7 791.28M388.36 794.97L389.85 793.63M390.46 797.33L391.97 796.02M392.51 799.73L394.04 798.44M394.53 802.16L396.08 800.9M396.51 804.62L398.08 803.38M398.45 807.12L400.04 805.9M400.35 809.64L401.96 808.45M402.21 812.19L403.84 811.03M404.03 814.77L405.68 813.63M405.81 817.38L407.47 816.27M407.55 820.02L409.23 818.93M409.25 822.68L410.94 821.62M410.9 825.37L412.62 824.34M412.52 828.09L414.24 827.08M414.09 830.83L415.83 829.85M415.61 833.6L417.37 832.64M417.1 836.39L418.87 835.46M418.54 839.2L420.32 838.3M419.93 842.03L421.73 841.16M421.28 844.89L423.1 844.05M422.59 847.77L424.41 846.95M423.84 850.66L425.69 849.88M425.06 853.58L426.91 852.82M428.53 862.73L430.42 862.07M429.55 865.72L431.45 865.09M430.53 868.73L432.44 868.12M431.46 871.75L433.37 871.17M432.34 874.78L434.27 874.24M433.17 877.83L435.11 877.31M433.96 880.89L435.9 880.4M434.7 883.96L436.65 883.51M435.39 887.04L437.34 886.62M436.03 890.13L437.99 889.74M436.62 893.24L438.59 892.88M437.17 896.35L439.14 896.02M437.66 899.47L439.64 899.17M438.11 902.59L440.09 902.33M438.5 905.73L440.49 905.49M438.85 908.87L440.84 908.66M439.15 912.01L441.14 911.84M439.4 915.16L441.39 915.02M439.59 918.31L441.59 918.2M439.74 921.47L441.74 921.39M439.84 924.63L441.84 924.58M439.89 927.79L441.89 927.77M439.89 930.94L441.89 930.96M439.85 934.1L441.84 934.15M439.75 937.26L441.74 937.34M439.6 940.42L441.6 940.52M439.4 943.57L441.4 943.71M439.15 946.72L441.15 946.89M438.86 949.86L440.85 950.07M438.51 953L440.5 953.24M438.11 956.14L440.1 956.4M437.67 959.26L439.65 959.56M437.18 962.38L439.15 962.71M436.63 965.5L438.6 965.85M436.04 968.6L438 968.99M435.4 971.69L437.36 972.11M434.71 974.77L436.66 975.23M433.98 977.85L435.92 978.33M433.19 980.91L435.13 981.42M432.36 983.95L434.28 984.5M431.48 986.99L433.39 987.56M430.55 990.01L432.46 990.61M427.35 999.33L429.22 1000.03M426.23 1002.29L428.09 1003.01M425.06 1005.22L426.91 1005.98M423.84 1008.14L425.69 1008.92M422.59 1011.03L424.41 1011.85M421.28 1013.91L423.1 1014.75M419.93 1016.77L421.73 1017.64M418.54 1019.6L420.32 1020.5M417.1 1022.41L418.87 1023.34M415.61 1025.2L417.37 1026.16M414.09 1027.97L415.83 1028.95M412.52 1030.71L414.24 1031.72M410.9 1033.43L412.62 1034.46M409.25 1036.12L410.94 1037.18M407.55 1038.78L409.23 1039.87M405.81 1041.42L407.47 1042.53M404.03 1044.03L405.68 1045.17M402.21 1046.61L403.84 1047.77M400.35 1049.16L401.96 1050.35M398.45 1051.68L400.04 1052.9M396.51 1054.18L398.08 1055.42M394.53 1056.64L396.08 1057.9M392.51 1059.07L394.04 1060.36M390.46 1061.47L391.97 1062.78M388.36 1063.83L389.85 1065.17M386.23 1066.16L387.7 1067.52M384.07 1068.46L385.51 1069.85M377.74 1074.79L379.12 1076.23M375.44 1076.95L376.79 1078.42M373.1 1079.08L374.44 1080.57M370.73 1081.17L372.05 1082.68M368.33 1083.23L369.62 1084.76M365.9 1085.24L367.17 1086.79M363.44 1087.22L364.68 1088.79M360.94 1089.16L362.16 1090.75M358.42 1091.06L359.61 1092.66M355.86 1092.91L357.03 1094.54M353.28 1094.73L354.42 1096.38M350.67 1096.51L351.78 1098.17M348.03 1098.25L349.12 1099.93M345.37 1099.94L346.43 1101.64M342.67 1101.6L343.71 1103.31M339.96 1103.21L340.96 1104.93M337.21 1104.77L338.19 1106.52M334.45 1106.3L335.4 1108.06M331.66 1107.78L332.58 1109.55M328.84 1109.21L329.74 1111M326.01 1110.61L326.88 1112.41M323.15 1111.95L323.99 1113.77M320.27 1113.26L321.08 1115.08M317.38 1114.51L318.16 1116.35M314.46 1115.72L315.21 1117.58M311.52 1116.89L312.25 1118.75M308.57 1118.01L309.26 1119.89M305.6 1119.08L306.26 1120.97M302.61 1120.11L303.24 1122M299.61 1121.09L300.21 1122.99M296.59 1122.02L297.16 1123.93M293.56 1122.9L294.1 1124.83M290.51 1123.74L291.02 1125.67M287.45 1124.53L287.93 1126.47M284.38 1125.27L284.83 1127.21M281.3 1125.96L281.72 1127.91M278.2 1126.6L278.6 1128.56M275.1 1127.2L275.46 1129.16M271.99 1127.74L272.32 1129.71M268.87 1128.24L269.17 1130.22M265.74 1128.69L266.01 1130.67M255.63 1129.79L255.79 1131.79M252.48 1130.03L252.61 1132.03M249.32 1130.22L249.43 1132.22M246.17 1130.36L246.24 1132.36M243.01 1130.46L243.05 1132.46M239.85 1130.5L239.86 1132.5M236.69 1130.49L236.67 1132.49M233.54 1130.43L233.48 1132.43M230.38 1130.32L230.3 1132.32M227.22 1130.17L227.11 1132.16M224.07 1129.96L223.93 1131.95M220.92 1129.7L220.75 1131.7M217.78 1129.4L217.57 1131.39M214.64 1129.04L214.4 1131.03M211.51 1128.64L211.24 1130.62M208.38 1128.19L208.08 1130.16M205.26 1127.68L204.93 1129.66M202.15 1127.13L201.79 1129.1M199.05 1126.53L198.66 1128.49M195.96 1125.88L195.53 1127.84M192.88 1125.19L192.42 1127.13M189.81 1124.44L189.32 1126.38M186.75 1123.65L186.23 1125.58M183.71 1122.81L183.16 1124.73M180.68 1121.92L180.1 1123.83M177.66 1120.98L177.05 1122.89M174.66 1120L174.02 1121.89M171.67 1118.97L171 1120.85M168.7 1117.89L168.01 1119.76M165.75 1116.76L165.02 1118.63M162.82 1115.59L162.06 1117.44M159.9 1114.38L159.12 1116.22M157.01 1113.11L156.19 1114.94M154.13 1111.81L153.29 1113.62M151.28 1110.45L150.4 1112.25M148.44 1109.06L147.54 1110.84M145.63 1107.62L144.7 1109.39M142.84 1106.13L141.89 1107.89M140.08 1104.6L139.1 1106.34M137.34 1103.03L136.33 1104.76M134.62 1101.41L133.59 1103.12M131.94 1099.76L130.87 1101.45M129.27 1098.06L128.18 1099.73M126.64 1096.32L125.52 1097.98M124.03 1094.53L122.89 1096.18M121.45 1092.71L120.28 1094.33M113.89 1087L112.64 1088.57M111.43 1085.02L110.16 1086.57M109 1083L107.71 1084.53M106.6 1080.94L105.29 1082.45M104.24 1078.85L102.9 1080.33M101.91 1076.71L100.55 1078.18M99.61 1074.55L98.23 1075.99M97.35 1072.34L95.94 1073.76M95.12 1070.1L93.69 1071.5M92.93 1067.83L91.48 1069.2M90.77 1065.52L89.3 1066.87M88.65 1063.18L87.16 1064.51M86.57 1060.8L85.05 1062.11M84.52 1058.4L82.99 1059.68M82.52 1055.96L80.96 1057.21M80.55 1053.49L78.97 1054.72M78.62 1050.98L77.02 1052.19M76.73 1048.45L75.12 1049.64M74.88 1045.89L73.25 1047.05M73.07 1043.3L71.42 1044.44M71.3 1040.69L69.63 1041.79M69.57 1038.04L67.89 1039.12M67.89 1035.37L66.19 1036.42M66.24 1032.67L64.53 1033.7M64.64 1029.95L62.91 1030.95M63.08 1027.2L61.34 1028.17M61.57 1024.43L59.81 1025.38M60.1 1021.63L58.32 1022.55M58.67 1018.82L56.88 1019.71M57.29 1015.98L55.48 1016.84M55.95 1013.11L54.13 1013.95M54.66 1010.23L52.83 1011.04M53.41 1007.33L51.57 1008.1M52.21 1004.41L50.36 1005.15M48.43 994.21L46.54 994.85M47.43 991.21L45.53 991.82M46.49 988.2L44.57 988.78M45.59 985.17L43.67 985.72M44.74 982.13L42.81 982.65M43.93 979.07L41.99 979.57M43.17 976L41.23 976.47M42.47 972.93L40.51 973.36M41.81 969.84L39.85 970.24M41.2 966.74L39.23 967.11M40.63 963.63L38.66 963.97M40.12 960.51L38.15 960.82M39.66 957.39L37.68 957.67M39.24 954.26L37.26 954.5M38.88 951.12L36.89 951.33M38.56 947.98L36.57 948.16M38.29 944.83L36.3 944.98M38.08 941.68L36.08 941.8M37.91 938.52L35.91 938.61M37.79 935.37L35.79 935.43M37.72 932.21L35.72 932.24M37.7 929.05L35.7 929.05M37.73 925.89L35.73 925.86M37.81 922.73L35.81 922.67M37.94 919.58L35.94 919.48M38.12 916.42L36.12 916.29M38.35 913.27L36.35 913.11M38.63 910.13L36.64 909.93M38.95 906.98L36.97 906.76M39.33 903.85L37.35 903.59M39.76 900.72L37.78 900.43M41.53 890.34L39.57 889.95M42.17 887.25L40.21 886.83M42.85 884.16L40.91 883.71M43.59 881.09L41.65 880.61M44.37 878.03L42.44 877.52M45.2 874.98L43.28 874.44M46.08 871.95L44.16 871.38M47.01 868.93L45.1 868.33M47.98 865.92L46.08 865.29M49 862.93L47.11 862.27M50.07 859.96L48.19 859.27M51.18 857L49.32 856.28M52.34 854.07L50.49 853.32M53.55 851.15L51.71 850.37M54.8 848.25L52.97 847.44M56.1 845.37L54.28 844.53M57.44 842.51L55.64 841.64M58.83 839.67L57.04 838.78M60.26 836.85L58.48 835.93M61.74 834.06L59.98 833.11M63.26 831.29L61.51 830.32M64.82 828.55L63.09 827.54M66.42 825.83L64.71 824.8M68.07 823.13L66.37 822.07M69.76 820.46L68.08 819.38M71.49 817.82L69.83 816.71M73.27 815.21L71.62 814.07M75.08 812.62L73.45 811.46M76.94 810.06L75.33 808.88M78.83 807.54L77.24 806.32M80.76 805.04L79.19 803.8M82.74 802.57L81.18 801.31M84.75 800.14L83.22 798.85M86.8 797.73L85.29 796.42M88.88 795.36L87.39 794.03M91.01 793.02L89.54 791.67M93.17 790.72L91.72 789.34M95.37 788.45L93.94 787.05M97.6 786.21L96.19 784.79M99.86 784.01L98.48 782.57M102.16 781.85L100.81 780.38M104.5 779.72L103.16 778.23M106.87 777.63L105.55 776.12M109.27 775.57L107.98 774.04M111.7 773.56L110.43 772.01M114.16 771.58L112.92 770.01M116.66 769.64L115.44 768.05M119.18 767.74L117.99 766.14M121.74 765.89L120.57 764.26M124.32 764.07L123.18 762.42M126.93 762.29L125.82 760.63M129.57 760.55L128.48 758.87M132.23 758.86L131.17 757.16M134.93 757.2L133.89 755.49M137.64 755.59L136.64 753.87M140.39 754.03L139.41 752.28M143.15 752.5L142.2 750.74M145.94 751.02L145.02 749.25M148.76 749.59L147.86 747.8M151.59 748.19L150.72 746.39M154.45 746.85L153.61 745.03M157.33 745.54L156.52 743.72M169.03 740.79L168.34 738.91M172 739.72L171.34 737.83M174.99 738.69L174.36 736.8M177.99 737.71L177.39 735.81M181.01 736.78L180.44 734.87M184.04 735.9L183.5 733.97M187.09 735.06L186.58 733.13M190.15 734.27L189.67 732.33M193.22 733.53L192.77 731.59M196.3 732.84L195.88 730.89M199.4 732.2L199 730.24M202.5 731.6L202.14 729.64M205.61 731.06L205.28 729.09M208.73 730.56L208.43 728.58M211.86 730.11L211.59 728.13M214.99 729.71L214.75 727.73M218.13 729.37L217.92 727.38M221.27 729.07L221.1 727.07M224.42 728.81L224.28 726.82M227.57 728.61L227.46 726.62M230.73 728.46L230.65 726.46" stroke="#888" stroke-width="0.6" fill="none"/><path d="M239.89 721.4h0M263.43 722.86h0M286.65 726.98h0M309.26 733.7h0M330.96 742.93h0M351.48 754.56h0M364.41 763.61h0M382.37 778.9h0M398.49 796.12h0M412.55 815.05h0M424.38 835.46h0M434.92 860.11h0M441.5 882.75h0M445.48 906h0M446.8 929.55h0M445.45 953.09h0M441.44 976.33h0M433.94 1001.39h0M424.54 1023.02h0M412.75 1043.44h0M398.72 1062.4h0M382.77 1079.53h0M364.85 1094.86h0M345.3 1108.06h0M324.39 1118.97h0M302.38 1127.44h0M279.56 1133.37h0M256.57 1136.64h0M232.99 1137.32h0M209.49 1135.32h0M186.37 1130.68h0M163.92 1123.45h0M142.43 1113.73h0M122.19 1101.64h0M109.89 1092.63h0M92.24 1076.99h0M76.47 1059.45h0M62.79 1040.24h0M51.38 1019.6h0M42.01 996.77h0M35.65 974.06h0M31.9 950.78h0M30.81 927.22h0M32.39 903.69h0M34.69 889.36h0M40.54 866.51h0M48.93 844.47h0M59.77 823.52h0M72.9 803.93h0M88.17 785.96h0M105.38 769.83h0M124.3 755.75h0M144.69 743.91h0M166.3 734.45h0M188.83 727.49h0M212.01 723.13h0" stroke="#999" stroke-width="2.0" stroke-linecap="round" opacity="0.55" fill="none"/><path d="M238.8 729.9 A199.5 199.5 0 0 1 353.37 766.08" fill="none" stroke="#9e0142" stroke-width="4.0"/><path d="M358.44 769.76 A199.5 199.5 0 0 1 424.16 855.64" fill="none" stroke="#d53e4f" stroke-width="4.0"/><path d="M426.55 861.95 A199.5 199.5 0 0 1 428.86 990.05" fill="none" stroke="#f46d43" stroke-width="4.0"/><path d="M426.33 997.47 A199.5 199.5 0 0 1 382.67 1067.61" fill="none" stroke="#fdae61" stroke-width="4.0"/><path d="M377.63 1072.67 A199.5 199.5 0 0 1 263.11 1127.41" fill="none" stroke="#fee08b" stroke-width="4.0"/><path d="M256.88 1128.08 A199.5 199.5 0 0 1 121.26 1090.59" fill="none" stroke="#e6f598" stroke-width="4.0"/><path d="M115.98 1086.61 A199.5 199.5 0 0 1 53.31 1002.84" fill="none" stroke="#abdda4" stroke-width="4.0"/><path d="M50.4 995.01 A199.5 199.5 0 0 1 41.7 898.54" fill="none" stroke="#66c2a5" stroke-width="4.0"/><path d="M42.83 892.02 A199.5 199.5 0 0 1 160.21 746.03" fill="none" stroke="#3288bd" stroke-width="4.0"/><path d="M168.28 742.78 A199.5 199.5 0 0 1 232.53 730" fill="none" stroke="#5e4fa2" stroke-width="4.0"/><path d="M239.73 751.4 A178 178 0 0 1 340.26 783.15M346.29 787.52 A178 178 0 0 1 403.84 862.72M406.63 870.1 A178 178 0 0 1 408.65 982.63M405.8 991.01 A178 178 0 0 1 367.81 1052.04M362 1057.87 A178 178 0 0 1 261.42 1105.96M254 1106.75 A178 178 0 0 1 134.68 1073.77M128.48 1069.09 A178 178 0 0 1 73.65 995.79M70.4 987.06 A178 178 0 0 1 62.8 902.78M64.13 895.13 A178 178 0 0 1 167.82 766.16M176.75 762.56 A178 178 0 0 1 232.28 751.52" fill="none" stroke="#c0306a" stroke-width="1.0" stroke-dasharray="0.8 1.8" opacity="0.48"/><path d="M254.5 752.1L254.9 748.3M291.9 759.5L292.4 758.0M250.3 751.8L250.3 751.1M318.1 770.0L318.4 769.5M264.5 753.3L263.7 758.7M243.0 751.5L243.1 749.5M263.2 753.1L263.9 747.7M292.0 759.5L292.3 758.5M288.3 758.4L290.4 751.2M306.5 764.8L306.9 763.9M253.1 752.0L253.2 750.7M334.1 779.1L335.0 777.8M272.2 754.6L272.6 752.5M292.9 759.8L294.8 754.0M283.7 757.2L283.9 756.3M309.7 766.1L310.2 764.8M319.6 770.8L320.5 769.2M243.5 751.5L243.5 750.8M301.7 762.9L302.2 761.5M338.2 781.7L339.9 779.2M264.8 753.3L265.1 751.5M288.3 758.4L288.6 757.3M241.0 751.4L241.0 748.2M316.0 769.0L317.5 766.0M284.9 757.5L285.1 756.8M261.4 752.8L261.7 751.1M276.7 755.5L277.1 753.6M288.2 758.4L288.3 757.8M300.8 762.6L302.2 758.9M323.2 772.7L323.7 771.7M249.2 751.7L249.5 745.1M251.9 751.9L251.8 754.1M257.2 752.4L257.4 750.5M313.3 767.7L313.9 766.2M242.9 751.4L242.9 750.0M354.8 794.4L357.7 791.0M386.0 829.3L391.4 825.6M391.8 838.4L392.5 837.9M382.7 824.6L383.5 824.0M381.1 822.5L381.9 821.9M384.4 827.0L383.4 827.7M367.8 806.7L372.5 802.3M398.1 850.0L399.2 849.4M375.2 815.0L369.4 819.9M396.4 846.7L401.9 843.8M398.5 850.7L404.6 847.7M372.9 812.3L373.8 811.4M376.2 816.3L377.0 815.6M367.6 806.6L368.9 805.3M399.8 853.5L400.4 853.2M403.1 861.0L406.1 859.8M389.6 834.8L392.7 832.8M399.1 852.0L401.4 850.9M363.6 802.4L365.5 800.4M400.2 854.4L401.2 854.0M397.3 848.5L398.6 847.9M398.5 850.7L400.4 849.7M356.7 796.0L355.4 797.5M352.2 792.2L354.8 789.1M370.5 809.7L372.2 808.2M384.1 826.6L385.0 826.0M399.4 852.7L401.2 851.8M366.4 805.3L364.1 807.5M389.4 834.5L390.0 834.0M349.8 790.2L350.4 789.4M355.3 794.8L355.9 794.1M410.3 881.8L414.9 880.5M411.6 972.1L412.8 972.4M410.2 881.5L415.5 880.0M414.9 903.1L417.0 902.8M409.1 877.5L413.6 876.1M410.6 882.7L411.5 882.5M416.8 931.1L419.4 931.1M416.8 930.9L415.6 930.9M414.6 901.5L422.1 900.3M416.3 942.4L421.7 942.8M415.3 906.7L416.6 906.5M415.0 904.0L416.3 903.8M416.6 937.1L411.6 936.8M416.8 932.0L417.5 932.0M414.8 902.6L418.0 902.1M411.8 887.4L410.0 887.8M410.5 976.5L411.3 976.8M413.7 962.4L414.9 962.7M411.3 973.2L412.5 973.5M411.6 972.3L412.2 972.4M414.1 960.5L418.6 961.3M415.9 947.6L416.8 947.7M415.5 950.5L413.1 950.2M410.0 978.1L413.3 979.0M413.1 965.7L414.6 966.1M414.2 898.9L414.8 898.8M416.7 934.2L417.4 934.2M411.0 884.2L412.0 884.0M416.2 915.0L414.0 915.2M416.8 929.5L418.6 929.5M415.9 947.3L418.7 947.6M416.7 923.8L417.7 923.8M411.7 971.9L416.4 973.0M408.6 875.9L409.3 875.6M411.9 888.0L414.9 887.3M415.8 948.0L419.6 948.4M415.2 952.9L417.4 953.2M370.2 1049.5L371.7 1050.9M399.5 1005.8L397.7 1005.0M382.7 1034.2L384.9 1035.8M401.1 1002.4L410.0 1006.4M384.9 1031.1L385.8 1031.7M401.9 1000.8L404.7 1002.0M381.9 1035.3L383.2 1036.2M394.2 1016.3L397.1 1017.9M396.1 1012.7L396.8 1013.1M402.4 999.5L404.4 1000.3M397.1 1010.8L396.1 1010.3M400.4 1004.1L406.8 1007.0M376.0 1042.8L376.8 1043.4M397.8 1009.4L399.7 1010.3M378.0 1040.4L380.6 1042.5M390.3 1022.9L393.6 1025.0M394.1 1016.3L395.2 1016.9M402.5 999.4L405.2 1000.5M379.3 1038.7L384.6 1042.8M387.1 1027.8L388.2 1028.5M388.8 1025.2L389.3 1025.5M396.8 1011.4L398.1 1012.1M390.2 1023.0L392.2 1024.2M361.2 1058.6L362.0 1059.4M280.8 1102.4L281.3 1104.1M280.3 1102.5L280.6 1104.0M334.6 1079.4L335.1 1080.2M329.5 1082.6L329.8 1083.1M325.0 1085.1L326.9 1088.6M273.3 1104.0L273.9 1106.9M301.1 1096.1L301.9 1098.4M302.3 1095.7L303.1 1097.9M279.0 1102.8L279.7 1105.8M330.4 1082.0L331.0 1083.0M311.1 1092.1L311.4 1092.9M318.9 1088.4L319.2 1089.0M323.3 1086.1L322.7 1084.9M314.8 1090.3L317.2 1095.4M296.0 1098.0L296.7 1100.0M274.6 1103.8L274.9 1104.9M313.2 1091.1L313.8 1092.4M347.2 1070.6L348.7 1072.5M338.0 1077.2L339.2 1079.0M346.9 1070.8L348.8 1073.4M342.4 1074.2L346.0 1079.3M359.0 1060.6L362.1 1064.0M322.4 1086.5L323.8 1089.2M302.6 1095.6L302.9 1096.4M271.7 1104.3L272.2 1107.1M312.9 1091.3L313.2 1092.0M329.3 1082.7L330.8 1085.2M292.8 1099.0L293.2 1100.2M316.3 1089.6L316.0 1088.9M305.6 1094.4L303.9 1090.4M294.4 1098.5L295.4 1101.8M331.1 1081.6L333.0 1084.8M353.6 1065.4L354.5 1066.6M347.2 1070.6L347.8 1071.4M307.4 1093.7L307.8 1094.6M306.0 1094.2L304.2 1089.9M156.8 1087.4L155.0 1090.9M181.8 1098.0L180.2 1102.6M161.1 1089.6L161.5 1088.8M235.2 1107.4L235.2 1109.8M237.1 1107.4L237.1 1109.0M249.0 1107.1L248.9 1106.4M219.2 1106.3L219.3 1105.5M175.0 1095.6L174.0 1098.3M172.1 1094.4L171.5 1095.8M174.6 1095.4L174.2 1096.4M180.6 1097.6L180.1 1098.9M188.7 1100.2L188.5 1100.9M228.4 1107.1L228.2 1111.3M166.2 1091.9L165.1 1094.6M221.9 1106.6L221.3 1113.5M150.5 1084.0L152.4 1080.6M155.1 1086.5L154.3 1087.9M248.4 1107.1L248.5 1109.0M204.1 1104.0L204.7 1101.4M188.4 1100.1L188.6 1099.4M249.1 1107.1L249.2 1108.5M237.1 1107.4L237.1 1110.7M215.4 1105.9L215.2 1107.4M212.2 1105.4L212.0 1106.7M181.3 1097.9L181.1 1098.6M136.4 1075.0L134.8 1077.3M187.1 1099.7L185.8 1104.0M233.7 1107.3L233.8 1105.9M210.3 1105.1L209.0 1113.3M214.2 1105.7L214.0 1106.9M162.3 1090.1L161.5 1091.7M144.1 1080.1L144.8 1079.0M137.3 1075.6L136.3 1077.0M138.3 1076.3L136.3 1079.2M156.3 1087.2L156.0 1087.9M135.9 1074.7L134.1 1077.3M208.3 1104.8L207.3 1110.1M195.7 1102.1L193.9 1109.1M234.8 1107.4L234.8 1109.9M230.3 1107.2L230.4 1105.7M241.0 1107.4L241.0 1109.3M110.3 1052.6L112.0 1051.0M122.9 1064.5L120.4 1067.4M79.0 1007.9L78.5 1008.2M85.6 1020.1L84.6 1020.7M78.9 1007.6L74.9 1009.5M93.9 1032.7L89.4 1036.0M81.0 1011.8L72.1 1016.4M83.9 1017.2L81.2 1018.7M101.7 1042.9L98.4 1045.6M125.1 1066.4L122.7 1069.3M108.0 1050.1L103.5 1054.2M78.0 1005.8L75.4 1007.1M92.4 1030.7L90.8 1031.8M80.8 1011.4L75.7 1014.1M107.5 1049.5L106.6 1050.4M93.6 1032.3L87.9 1036.4M74.1 996.8L71.4 997.9M101.8 1043.0L97.7 1046.4M77.6 1004.8L73.0 1007.0M98.2 1038.6L95.6 1040.6M97.3 1037.4L96.3 1038.2M104.6 1046.4L100.7 1049.8M79.2 1008.2L77.3 1009.1M110.6 1052.9L109.3 1054.1M100.0 1040.8L97.5 1042.8M96.7 1036.7L102.0 1032.6M119.0 1061.0L123.3 1056.3M110.9 1053.2L109.6 1054.4M85.0 1019.0L81.8 1020.9M74.0 996.7L72.2 997.5M62.1 907.9L55.6 907.1M62.3 952.1L59.8 952.4M64.2 963.8L62.5 964.1M61.0 921.3L58.5 921.2M60.8 931.2L59.6 931.2M67.3 977.1L63.6 978.2M61.7 911.3L60.7 911.2M61.6 912.8L52.8 911.9M61.6 912.2L59.7 912.0M63.3 959.0L54.7 960.4M61.9 909.6L55.5 908.9M62.0 950.4L59.0 950.7M64.2 964.2L61.6 964.7M65.7 970.7L63.7 971.1M61.3 942.6L59.1 942.8M64.1 963.7L61.6 964.2M62.9 956.4L61.2 956.7M65.9 971.8L61.8 972.8M68.7 981.8L67.5 982.2M61.1 919.1L56.7 918.9M63.4 959.6L62.6 959.7M68.0 979.4L66.1 979.9M60.8 929.8L59.8 929.8M61.6 913.1L57.0 912.6M60.9 935.7L60.2 935.7M62.5 904.6L61.2 904.5M69.6 984.6L68.4 985.0M60.9 922.7L55.1 922.4M68.6 877.4L69.8 877.8M65.4 889.3L64.5 889.1M116.1 800.5L115.3 799.7M101.7 815.8L100.8 815.0M138.0 782.7L136.6 780.8M147.6 776.6L146.8 775.3M103.1 814.2L101.6 812.9M151.7 774.2L152.8 776.2M101.0 816.7L100.3 816.1M105.1 811.9L104.3 811.1M97.3 821.5L96.1 820.6M118.1 798.6L116.8 797.2M127.0 790.9L122.7 785.6M71.4 868.9L66.9 867.3M75.2 859.3L71.8 857.8M150.3 775.0L149.8 774.2M93.9 826.1L93.2 825.6M119.6 797.2L121.9 799.6M159.9 769.9L157.7 765.5M106.9 809.8L103.8 807.0M111.2 805.3L110.1 804.2M112.1 804.4L112.6 804.9M124.4 793.0L121.8 789.9M100.9 816.8L99.9 815.9M153.3 773.3L152.1 771.2M77.2 854.8L74.1 853.4M86.2 837.8L85.4 837.3M82.4 844.3L78.8 842.3M166.6 766.7L165.3 763.9M87.8 835.1L86.8 834.5M123.8 793.5L125.3 795.3M120.4 796.5L117.5 793.2M98.7 819.5L97.7 818.7M65.0 890.9L60.7 889.9M72.5 865.9L70.0 864.9M162.6 768.5L161.5 766.4M97.0 821.7L95.6 820.7M73.7 862.8L72.2 862.2M156.0 771.8L154.3 768.6M68.8 876.5L68.2 876.3M132.8 786.4L131.3 784.5M71.4 868.9L65.1 866.7M64.9 891.4L63.5 891.1M153.9 773.0L154.8 774.7M138.0 782.7L133.8 776.5M84.9 840.0L83.9 839.5M161.1 769.3L160.7 768.4M92.7 827.8L89.9 825.9M123.9 793.4L122.3 791.4M77.4 854.4L74.5 853.0M88.8 833.5L87.1 832.5M163.8 768.0L160.5 760.8M79.6 849.7L78.3 849.0M124.9 792.6L124.1 791.7M100.2 817.7L99.1 816.7M89.0 833.2L88.2 832.7M185.3 759.6L184.7 757.7M210.8 753.6L210.3 750.8M190.8 758.0L190.5 756.7M185.2 759.7L184.9 758.9M220.7 752.3L220.5 750.4M224.5 752.0L224.4 749.9M187.7 758.9L187.0 756.7M180.3 761.3L179.4 758.5M209.1 753.9L209.2 754.7M190.1 758.2L189.7 756.8M230.9 751.6L230.9 750.2M215.6 752.9L215.7 754.2M222.1 752.2L222.0 751.2M221.1 752.3L220.9 750.2M190.8 758.0L190.6 757.3M221.2 752.3L220.7 746.4M223.6 752.1L223.4 749.8M204.5 754.7L204.3 753.9" fill="none" stroke="#c0306a" stroke-width="0.7" opacity="0.51"/><path d="M239.63 771.4 A158 158 0 0 1 328.86 799.58M334.22 803.46 A158 158 0 0 1 385.3 870.21M387.77 876.76 A158 158 0 0 1 389.57 976.65M387.03 984.09 A158 158 0 0 1 353.31 1038.26M348.16 1043.44 A158 158 0 0 1 258.88 1086.12M252.3 1086.82 A158 158 0 0 1 146.38 1057.55M140.87 1053.39 A158 158 0 0 1 92.2 988.33M89.32 980.58 A158 158 0 0 1 82.58 905.77M83.76 898.98 A158 158 0 0 1 175.8 784.5M183.73 781.31 A158 158 0 0 1 233.01 771.51" fill="none" stroke="#dd5a80" stroke-width="1.0" stroke-dasharray="0.8 1.8" opacity="0.4"/><path d="M313.9 790.4L314.6 789.2M305.3 786.1L307.2 781.9M309.3 788.0L309.9 786.7M265.2 773.6L265.6 771.3M286.6 778.8L287.8 775.1M279.3 776.7L279.6 775.6M252.3 772.0L252.2 774.0M260.2 772.9L260.7 769.4M321.2 794.6L320.8 795.2M279.4 776.7L279.8 775.2M258.0 772.6L258.2 770.8M273.7 775.3L274.6 771.2M246.2 771.6L246.4 767.0M256.7 772.4L256.8 771.6M244.2 771.5L244.3 769.7M277.0 776.1L279.2 767.3M299.3 783.4L299.8 782.1M323.3 795.9L324.3 794.2M279.8 776.8L280.3 774.8M294.3 781.5L295.7 777.9M311.3 789.0L312.7 786.2M311.6 789.2L312.5 787.3M241.5 771.4L241.6 766.9M290.9 780.2L291.7 778.0M298.2 783.0L299.7 779.5M313.2 790.0L313.5 789.5M260.2 772.9L260.8 768.4M269.8 774.5L270.1 772.7M316.6 791.9L319.3 787.1M314.0 790.4L314.5 789.4M292.9 781.0L293.7 778.9M323.4 796.0L324.0 795.0M306.1 786.5L306.6 785.5M284.6 778.2L285.5 775.4M326.5 798.0L328.5 795.1M382.6 864.0L386.2 862.4M357.0 824.6L362.4 819.8M381.2 861.0L381.8 860.7M380.7 860.0L382.1 859.3M342.1 809.9L342.7 809.2M351.4 818.6L352.1 817.9M355.4 822.8L360.0 818.5M382.9 864.5L382.3 864.7M350.6 817.8L345.0 823.5M378.6 855.8L379.2 855.5M352.7 819.9L354.0 818.7M371.7 843.9L372.5 843.4M353.2 820.4L357.0 816.8M336.2 805.0L336.6 804.5M372.2 844.7L377.1 841.6M355.9 823.3L356.4 822.8M378.1 854.8L383.2 852.1M366.8 836.8L368.2 835.7M368.0 838.5L371.2 836.3M379.2 856.9L381.4 855.7M378.2 854.9L380.1 853.9M369.4 840.5L370.0 840.1M349.4 816.5L350.5 815.4M373.6 847.0L375.5 845.8M371.2 843.1L370.0 843.8M375.9 851.0L373.4 852.4M355.6 823.0L357.1 821.5M348.0 815.2L348.5 814.6M371.3 843.4L372.0 842.9M369.6 840.7L370.4 840.1M346.4 813.7L348.5 811.5M396.0 913.1L397.1 913.0M396.7 922.7L400.7 922.5M391.5 970.1L393.6 970.6M394.2 900.9L395.6 900.7M390.0 975.1L387.3 974.3M395.8 947.1L397.0 947.2M389.0 880.3L390.3 879.8M396.8 927.9L398.0 927.9M395.0 905.8L393.1 906.1M395.3 907.6L396.0 907.5M393.1 963.5L395.9 964.1M394.6 903.0L396.0 902.8M396.8 928.1L398.6 928.1M390.4 974.1L394.2 975.2M393.4 961.8L399.2 963.0M388.6 879.1L389.2 878.9M395.1 906.1L397.0 905.8M393.6 897.7L397.8 896.8M396.6 921.8L395.3 921.9M393.0 895.2L395.3 894.7M392.9 894.3L397.4 893.3M392.9 964.3L393.7 964.5M389.3 881.4L390.4 881.0M396.6 920.8L399.8 920.6M393.4 896.9L396.3 896.3M394.2 957.7L395.2 957.9M396.4 918.8L401.5 918.5M395.8 911.5L397.4 911.3M396.6 938.2L400.5 938.4M394.2 901.0L397.8 900.4M396.6 937.1L397.4 937.1M392.7 965.0L394.6 965.4M395.2 952.1L396.5 952.3M396.2 916.1L401.4 915.7M396.8 933.3L400.8 933.4M396.6 922.3L394.4 922.4M396.6 937.8L397.6 937.9M359.7 1031.1L360.7 1031.9M358.5 1032.5L362.2 1035.7M385.3 988.7L386.1 989.0M364.9 1024.7L365.6 1025.2M372.7 1013.3L376.1 1015.5M368.5 1019.6L370.5 1021.0M355.9 1035.5L356.4 1035.9M355.2 1036.2L355.9 1036.9M378.4 1003.4L377.1 1002.7M356.2 1035.2L360.7 1039.2M377.1 1005.8L380.9 1007.9M378.8 1002.6L380.5 1003.4M357.8 1033.4L359.2 1034.6M370.2 1017.2L371.6 1018.1M375.1 1009.3L375.8 1009.6M383.7 992.4L384.6 992.8M385.7 987.5L387.0 988.0M359.3 1031.6L359.9 1032.1M377.9 1004.3L379.7 1005.3M354.3 1037.2L354.8 1037.6M386.0 986.7L386.7 987.0M383.6 992.5L384.3 992.8M370.6 1016.5L379.0 1022.0M300.3 1074.9L299.7 1073.3M343.1 1048.0L341.5 1046.2M334.1 1055.4L334.9 1056.4M328.3 1059.6L329.0 1060.6M324.8 1062.0L328.6 1067.9M331.1 1057.6L331.9 1058.7M300.0 1075.0L300.9 1077.1M319.9 1065.0L320.7 1066.2M271.8 1083.9L272.1 1085.3M262.3 1085.6L262.4 1086.7M284.6 1080.6L284.8 1081.3M288.5 1079.4L290.0 1084.0M307.2 1071.8L307.5 1072.4M284.5 1080.6L284.2 1079.8M286.0 1080.2L287.1 1083.5M292.0 1078.2L292.4 1079.3M319.5 1065.2L319.9 1066.0M263.9 1085.4L264.3 1087.4M307.8 1071.5L308.1 1072.1M343.4 1047.8L345.0 1049.6M260.1 1086.0L260.2 1086.8M321.8 1063.8L322.3 1064.6M323.6 1062.7L324.7 1064.4M302.2 1074.1L302.6 1074.9M298.6 1075.7L299.8 1078.7M347.3 1044.3L352.4 1049.6M292.7 1077.9L293.7 1080.6M277.5 1082.6L277.1 1081.0M286.4 1080.1L286.6 1080.8M334.0 1055.5L333.0 1054.2M333.0 1056.2L337.1 1061.8M268.0 1084.7L268.6 1087.8M334.1 1055.4L336.0 1057.9M343.0 1048.2L346.3 1052.0M312.1 1069.3L310.1 1065.5M309.8 1070.6L312.1 1075.1M335.4 1054.5L336.5 1056.0M171.6 1072.4L170.9 1074.0M149.4 1059.7L148.2 1061.5M227.8 1087.0L227.6 1088.6M240.3 1087.4L240.3 1088.1M216.1 1085.8L215.2 1091.8M171.6 1072.4L171.1 1073.5M170.4 1071.8L170.0 1072.7M201.1 1082.8L200.7 1084.7M163.4 1068.2L160.6 1073.3M173.4 1073.2L172.9 1074.4M198.4 1082.1L198.0 1083.5M225.0 1086.8L224.9 1087.8M167.7 1070.5L165.6 1074.6M152.1 1061.5L151.4 1062.6M179.8 1076.0L179.2 1077.4M219.7 1086.2L219.6 1087.3M178.9 1075.6L178.5 1076.4M150.5 1060.4L149.3 1062.2M227.1 1087.0L227.0 1087.7M174.7 1073.8L174.2 1074.9M241.4 1087.4L241.4 1088.9M172.4 1072.8L169.1 1080.1M203.5 1083.4L203.1 1085.3M149.3 1059.6L146.2 1064.1M149.6 1059.8L149.0 1060.5M187.7 1078.9L187.4 1079.7M166.4 1069.8L165.1 1072.2M212.0 1085.1L211.9 1086.0M197.9 1082.0L196.6 1086.8M189.8 1079.6L189.5 1080.4M156.7 1064.4L156.0 1065.5M193.6 1080.8L192.4 1084.9M155.3 1063.5L155.6 1063.0M163.8 1068.5L163.4 1069.3M168.6 1070.9L168.2 1071.6M173.9 1073.4L170.1 1081.9M179.1 1075.7L178.8 1076.5M170.7 1071.9L170.0 1073.3M228.9 1087.1L228.9 1086.4M178.9 1075.6L178.3 1077.1M245.7 1087.2L245.6 1083.8M115.8 1028.5L113.2 1030.5M103.5 1010.9L101.4 1012.2M108.3 1018.4L107.7 1018.8M111.2 1022.5L109.5 1023.8M125.7 1039.7L124.0 1041.3M139.2 1052.1L138.7 1052.7M138.8 1051.7L138.3 1052.2M115.7 1028.5L117.0 1027.4M110.4 1021.5L108.4 1023.0M110.1 1021.1L108.9 1022.0M113.4 1025.5L115.6 1023.8M108.0 1018.0L111.3 1015.7M133.9 1047.5L130.8 1051.0M135.0 1048.5L133.8 1049.9M122.2 1036.1L120.6 1037.6M117.7 1030.9L117.2 1031.3M106.7 1016.1L105.4 1016.9M121.5 1035.2L116.5 1039.6M124.4 1038.3L123.7 1039.0M108.3 1018.4L107.5 1019.0M100.8 1006.4L98.7 1007.6M107.7 1017.6L106.3 1018.6M136.5 1049.8L135.9 1050.5M98.3 1001.6L97.3 1002.1M110.3 1021.3L109.3 1022.1M92.4 988.9L88.9 990.4M95.3 995.5L93.5 996.3M110.5 1021.6L113.0 1019.8M114.2 1026.5L113.7 1026.9M103.6 1011.2L101.9 1012.2M80.9 935.7L78.6 935.8M81.8 947.5L79.6 947.7M80.8 930.2L79.8 930.2M88.1 977.0L86.3 977.6M85.7 968.5L86.6 968.2M82.8 954.5L80.2 954.9M86.2 970.4L84.2 971.0M84.0 961.0L74.2 963.0M81.6 945.5L80.1 945.6M80.9 923.6L80.2 923.6M82.0 948.8L78.2 949.3M81.7 912.9L73.2 912.0M81.9 910.6L80.6 910.4M84.7 964.4L83.6 964.7M81.3 942.0L80.5 942.1M80.9 922.6L80.3 922.5M80.8 928.6L70.8 928.5M80.8 929.4L73.3 929.4M81.3 916.3L80.5 916.3M81.5 914.8L78.8 914.5M86.9 973.0L85.9 973.3M82.7 954.1L80.4 954.4M82.0 948.5L80.0 948.8M80.9 934.2L75.3 934.4M83.6 958.9L81.4 959.4M83.9 960.5L81.8 960.9M86.8 972.5L83.7 973.3M80.9 922.5L86.4 922.8M132.4 812.6L129.2 809.1M142.8 803.9L142.0 803.0M171.3 786.6L171.0 786.0M144.7 802.5L140.8 797.2M94.6 864.8L94.0 864.6M86.9 886.1L89.3 886.7M126.9 817.9L130.1 821.1M99.5 854.8L98.4 854.2M155.2 795.3L153.2 792.0M158.6 793.2L158.1 792.3M129.4 815.4L127.6 813.5M152.8 796.8L153.5 797.9M113.9 832.6L110.6 830.1M95.1 863.6L94.3 863.3M90.7 874.4L88.8 873.7M128.0 816.8L127.1 815.9M85.1 892.7L84.1 892.5M99.8 854.3L98.9 853.8M148.1 800.0L149.0 801.3M94.5 865.1L92.8 864.4M84.2 897.0L78.5 895.8M92.2 870.5L91.2 870.1M162.9 790.8L162.3 789.9M84.8 894.1L84.2 894.0M85.3 892.2L84.5 892.0M95.4 863.0L91.8 861.3M162.5 791.0L161.4 789.1M84.7 894.6L74.9 892.4M153.6 796.3L158.6 804.1M89.3 878.4L84.8 876.8M92.3 870.2L91.8 869.9M119.8 825.4L116.7 822.7M97.6 858.6L96.7 858.1M161.9 791.4L159.9 787.7M93.7 866.8L92.4 866.2M125.0 819.8L127.6 822.3M135.6 809.8L135.0 809.2M97.1 859.5L96.5 859.2M169.4 787.4L165.0 778.5M117.7 827.9L119.1 829.2M113.8 832.7L113.3 832.3M84.3 896.2L87.6 896.9M124.4 820.5L123.1 819.3M122.2 822.8L119.7 820.4M132.6 812.5L129.8 809.4M113.3 833.4L111.9 832.3M123.9 821.0L121.1 818.4M103.2 848.3L95.4 843.7M127.9 816.8L127.4 816.3M149.5 799.1L149.1 798.4M85.9 889.5L83.0 888.7M144.4 802.7L141.1 798.2M160.2 792.4L158.9 790.2M144.8 802.4L142.6 799.4M135.4 810.0L133.6 807.9M105.4 844.7L100.3 841.5M185.4 780.7L185.1 780.0M194.5 777.7L193.7 775.0M214.6 773.3L214.1 770.1M206.6 774.7L206.1 772.3M211.0 773.9L212.5 782.0M198.9 776.5L198.4 774.7M185.0 780.8L183.6 777.0M200.6 776.1L201.5 779.8M208.6 774.3L208.3 772.9M202.9 775.5L201.5 769.6M191.8 778.5L190.7 775.0M216.4 773.0L215.5 766.4M213.1 773.5L212.6 770.8M197.0 777.0L197.4 778.3M224.2 772.1L223.9 769.1M224.3 772.1L224.2 770.3M192.3 778.4L189.8 770.2M200.6 776.1L200.0 773.5" fill="none" stroke="#dd5a80" stroke-width="0.7" opacity="0.42"/><path d="M239.52 791.2 A138.2 138.2 0 0 1 317.57 815.85M322.26 819.25 A138.2 138.2 0 0 1 366.94 877.63M369.11 883.36 A138.2 138.2 0 0 1 370.68 970.73M368.46 977.23 A138.2 138.2 0 0 1 338.96 1024.62M334.45 1029.15 A138.2 138.2 0 0 1 256.36 1066.48M250.6 1067.09 A138.2 138.2 0 0 1 157.96 1041.49M153.15 1037.86 A138.2 138.2 0 0 1 110.57 980.95M108.05 974.17 A138.2 138.2 0 0 1 102.15 908.73M103.19 902.79 A138.2 138.2 0 0 1 183.69 802.66M190.63 799.87 A138.2 138.2 0 0 1 233.74 791.29" fill="none" stroke="#f07a50" stroke-width="1.0" stroke-dasharray="0.8 1.8" opacity="0.4"/><path d="M263.4 793.4L263.6 792.1M296.0 803.6L298.8 797.5M308.6 810.1L309.1 809.4M260.6 792.9L260.7 792.3M252.5 791.9L252.3 793.3M284.3 798.9L283.5 801.2M244.2 791.3L244.3 789.6M287.8 800.2L288.1 799.4M312.8 812.7L313.6 811.5M275.8 796.2L276.2 795.0M297.8 804.4L298.5 803.0M244.3 791.3L244.1 797.5M287.6 800.1L290.0 793.8M251.9 791.8L252.2 789.1M256.7 792.4L257.5 786.8M311.1 811.6L312.5 809.3M306.7 809.0L307.1 808.3M296.0 803.6L296.3 803.0M252.8 791.9L253.2 787.2M274.6 795.9L275.6 792.1M246.7 791.4L246.8 789.2M284.8 799.1L284.2 800.7M242.0 791.2L242.0 790.1M283.7 798.7L284.1 797.6M261.6 793.1L261.8 791.7M259.8 792.8L260.2 790.0M242.2 791.2L242.3 788.6M301.0 806.0L302.8 802.4M275.6 796.2L276.2 794.2M309.1 810.4L310.7 807.6M244.2 791.3L244.3 787.9M292.0 801.9L292.6 800.4M316.8 815.3L317.2 814.8M287.8 800.2L288.9 797.3M243.3 791.3L243.5 786.2M353.4 852.1L356.3 850.1M357.7 859.0L359.5 857.9M356.0 856.2L358.7 854.6M344.5 840.4L345.2 839.8M366.4 876.3L370.8 874.5M348.7 845.6L350.6 844.2M343.6 839.3L344.7 838.4M358.3 860.0L359.1 859.6M337.7 832.9L341.0 829.7M360.4 863.6L361.0 863.3M359.9 862.8L360.5 862.4M328.2 824.0L327.7 824.5M344.6 840.5L347.3 838.3M364.1 871.1L370.4 868.2M331.6 827.0L333.0 825.5M332.3 827.6L334.7 825.0M360.4 863.7L362.6 862.5M364.7 872.5L370.6 869.8M328.3 824.1L327.8 824.7M338.1 833.2L338.9 832.4M360.0 862.9L361.4 862.1M335.1 830.2L336.7 828.6M363.3 869.5L368.2 867.2M328.0 823.9L329.1 822.7M342.6 838.2L344.9 836.2M330.6 826.1L331.3 825.3M361.9 866.5L363.1 865.9M345.2 841.2L343.5 842.7M338.8 834.0L340.1 832.7M361.7 866.3L362.7 865.8M366.7 877.0L369.6 875.9M371.7 891.4L374.9 890.5M376.7 920.4L377.6 920.4M376.5 941.5L379.8 941.8M374.3 956.4L375.6 956.7M373.0 896.4L374.0 896.2M376.9 935.4L384.2 935.7M376.2 944.3L375.1 944.2M376.3 943.4L378.9 943.7M373.8 899.8L379.8 898.5M375.9 912.0L379.2 911.6M376.3 943.7L381.8 944.3M376.1 914.0L376.9 914.0M374.4 902.7L376.1 902.4M370.1 886.3L372.1 885.6M375.6 949.2L378.7 949.6M376.7 920.2L378.9 920.0M376.9 934.6L380.6 934.7M377.0 926.4L378.5 926.3M373.1 961.9L375.5 962.4M377.0 932.0L377.6 932.0M374.9 905.2L377.2 904.7M375.9 912.3L377.2 912.2M372.8 963.4L374.7 963.9M375.4 908.5L378.7 908.0M376.4 917.0L378.9 916.8M377.0 926.5L376.1 926.5M376.9 934.2L383.6 934.4M375.6 909.9L377.1 909.7M376.2 944.6L380.9 945.1M376.8 921.2L374.0 921.3M369.8 885.4L371.3 884.9M375.7 948.5L379.0 949.0M375.1 952.5L373.9 952.3M376.5 917.3L382.3 916.8M376.4 916.4L378.0 916.2M375.9 912.3L378.0 912.1M377.0 927.9L377.8 927.9M351.4 1009.5L354.0 1011.4M339.8 1023.7L341.1 1024.9M350.6 1010.6L351.4 1011.2M362.6 990.9L363.3 991.2M350.1 1011.3L349.1 1010.6M364.6 986.6L363.6 986.2M359.0 997.6L358.4 997.3M359.4 996.8L360.1 997.2M366.8 981.4L369.8 982.6M355.2 1003.9L357.6 1005.4M367.9 978.6L368.5 978.8M340.6 1022.9L343.3 1025.4M359.1 997.5L357.8 996.7M357.5 1000.2L359.2 1001.2M364.2 987.5L366.2 988.4M361.8 992.5L362.8 993.0M352.1 1008.5L353.2 1009.3M363.6 988.8L360.0 987.1M363.6 988.8L364.4 989.2M351.7 1009.1L353.5 1010.4M352.0 1008.7L353.2 1009.5M349.3 1012.4L353.6 1015.7M358.8 998.0L362.2 999.9M315.0 1044.7L317.2 1047.9M292.0 1056.9L292.4 1057.7M276.0 1062.5L275.7 1061.5M310.9 1047.3L311.2 1047.8M275.2 1062.7L276.1 1066.1M308.7 1048.6L309.8 1050.5M303.6 1051.4L303.0 1050.2M280.0 1061.3L280.8 1063.9M281.8 1060.7L281.6 1060.0M289.8 1057.9L290.1 1058.6M307.4 1049.4L306.1 1047.2M310.1 1047.8L311.1 1049.3M307.8 1049.2L310.5 1053.9M298.1 1054.2L299.2 1056.5M259.2 1066.1L260.1 1072.1M330.6 1032.7L331.4 1033.6M280.8 1061.1L281.4 1063.1M329.4 1033.8L330.0 1034.5M319.6 1041.5L320.5 1042.7M330.0 1033.3L331.1 1034.6M317.6 1042.9L318.2 1043.7M294.6 1055.8L297.1 1061.7M292.5 1056.7L293.1 1058.0M322.2 1039.6L323.4 1041.2M292.4 1056.8L293.2 1058.6M326.4 1036.3L329.1 1039.6M302.8 1051.9L303.7 1053.7M257.0 1066.4L257.1 1067.1M268.6 1064.4L268.9 1066.0M308.2 1048.9L308.6 1049.7M314.9 1044.8L315.5 1045.6M271.2 1063.8L271.4 1064.5M319.8 1041.4L317.6 1038.4M320.5 1040.9L322.1 1043.0M320.0 1041.2L320.4 1041.7M317.7 1042.9L318.1 1043.5M261.4 1065.7L263.0 1075.6M197.4 1061.3L196.9 1062.7M208.0 1064.1L209.4 1058.1M190.2 1058.8L188.0 1064.7M171.6 1050.2L171.3 1050.8M171.4 1050.0L170.9 1050.9M201.6 1062.5L202.3 1060.0M162.6 1044.7L164.6 1041.6M210.5 1064.7L209.3 1070.8M231.0 1067.4L230.6 1074.4M164.1 1045.6L162.1 1048.7M174.2 1051.6L173.7 1052.5M238.2 1067.6L238.1 1070.7M190.6 1058.9L190.3 1059.6M198.2 1061.5L197.7 1062.9M175.6 1052.3L174.4 1054.8M163.8 1045.5L163.1 1046.6M211.4 1064.9L210.7 1068.5M249.2 1067.2L249.2 1068.2M190.4 1058.8L190.1 1059.6M220.4 1066.4L220.3 1067.3M228.8 1067.2L228.7 1068.5M245.2 1067.5L245.2 1068.1M161.1 1043.7L160.7 1044.2M167.3 1047.6L164.0 1053.0M165.6 1046.6L165.3 1047.1M223.9 1066.8L223.5 1071.0M220.5 1066.4L220.3 1067.9M208.0 1064.1L207.0 1068.7M182.9 1055.8L180.9 1060.3M167.5 1047.8L166.8 1048.9M171.0 1049.8L170.0 1051.6M237.2 1067.6L237.2 1068.4M231.3 1067.4L231.2 1068.2M237.8 1067.6L237.8 1068.3M249.4 1067.2L249.3 1066.3M206.1 1063.7L205.5 1066.3M237.1 1067.6L237.1 1069.1M221.8 1066.5L222.0 1064.9M227.8 1067.2L227.5 1071.0M242.4 1067.6L242.7 1077.5M182.6 1055.7L181.3 1058.8M141.0 1027.1L138.3 1029.8M141.2 1027.3L140.7 1027.8M135.0 1020.6L134.4 1021.2M141.9 1027.9L139.6 1030.3M120.0 1000.1L118.7 1000.9M143.1 1029.1L142.6 1029.7M112.8 986.2L110.8 987.1M149.3 1034.7L147.7 1036.6M134.0 1019.5L133.0 1020.3M148.9 1034.4L146.0 1037.7M135.0 1020.6L134.4 1021.2M137.0 1022.9L135.2 1024.5M120.0 1000.1L118.1 1001.2M149.6 1035.0L148.1 1036.9M112.5 985.5L110.0 986.5M139.7 1025.8L138.5 1026.9M111.6 983.5L110.0 984.2M125.4 1008.4L124.7 1008.9M131.3 1016.2L130.7 1016.7M126.8 1010.4L126.0 1010.9M135.0 1020.6L134.2 1021.3M125.7 1008.8L125.0 1009.4M127.7 1011.6L122.7 1015.3M147.9 1033.5L147.4 1033.9M135.7 1021.4L133.5 1023.3M132.0 1017.1L127.8 1020.5M150.7 1035.9L149.2 1037.7M112.0 984.3L108.3 985.9M137.5 1023.4L136.9 1023.9M119.7 999.5L118.4 1000.3M103.6 958.2L99.0 959.2M104.1 960.2L102.9 960.5M100.9 938.0L98.1 938.2M106.2 968.5L105.6 968.7M100.7 933.9L99.7 933.9M102.0 909.6L99.7 909.3M101.0 919.4L98.2 919.2M107.6 972.8L106.5 973.2M102.4 951.4L101.6 951.5M105.6 966.2L103.1 966.9M101.6 913.1L98.0 912.6M102.0 949.2L103.4 949.0M101.1 941.0L100.2 941.1M101.1 941.6L96.7 942.0M102.9 954.7L102.1 954.8M100.6 930.8L98.5 930.8M104.0 960.0L95.6 961.9M101.2 916.2L97.8 915.9M103.1 955.7L99.2 956.5M101.5 945.2L99.0 945.5M100.9 920.9L97.2 920.7M103.6 958.1L102.7 958.3M101.8 947.5L101.1 947.6M106.5 969.2L105.6 969.5M100.8 922.4L99.8 922.4M103.1 955.8L102.3 956.0M100.6 930.7L98.0 930.7M100.6 929.9L99.8 929.9M161.7 814.7L161.3 814.0M117.0 864.1L110.2 860.4M119.4 859.8L117.7 858.8M115.0 868.0L110.6 865.9M162.0 814.5L156.4 806.2M119.0 860.4L122.0 862.1M179.4 804.6L179.1 804.0M124.8 851.3L127.7 853.3M141.6 831.2L138.8 828.4M137.5 835.4L137.1 834.9M111.7 875.1L109.8 874.3M134.7 838.5L130.3 834.7M142.8 830.0L142.3 829.4M158.4 817.0L158.0 816.5M173.5 807.6L171.9 804.6M105.9 891.6L104.5 891.3M145.6 827.3L142.9 824.3M168.1 810.7L167.4 809.6M116.1 865.7L114.3 864.8M161.7 814.7L160.8 813.4M133.2 840.2L131.9 839.1M163.3 813.6L163.0 813.1M108.6 883.2L104.9 881.8M127.6 847.3L127.0 846.8M122.5 854.7L120.7 853.5M144.3 828.6L142.5 826.7M107.5 886.2L105.2 885.5M115.0 868.0L112.1 866.6M122.6 854.6L120.7 853.4M112.3 873.8L111.5 873.4M171.5 808.7L170.7 807.2M143.2 829.6L141.3 827.6M122.8 854.3L124.9 855.6M104.1 898.4L103.4 898.3M135.2 837.9L134.7 837.4M147.8 825.4L146.2 823.6M179.3 804.7L178.6 803.3M163.6 813.4L164.6 814.9M145.7 827.2L145.1 826.6M111.5 875.6L110.8 875.3M180.9 803.9L180.2 802.2M141.5 831.2L139.8 829.5M104.5 896.6L103.7 896.4M103.9 899.2L103.1 899.0M145.0 827.9L141.6 824.2M174.0 807.4L173.6 806.6M112.8 872.6L110.0 871.3M127.9 847.0L127.2 846.5M120.8 857.4L122.8 858.6M116.6 864.9L115.3 864.2M174.0 807.3L173.6 806.6M181.2 803.8L180.7 802.7M126.3 849.1L124.4 847.8M123.0 854.0L114.6 848.6M121.1 857.0L120.2 856.5M175.7 806.5L174.8 804.8M196.7 797.8L195.9 795.3M211.5 793.9L211.3 793.3M193.8 798.7L193.6 798.1M209.7 794.3L209.0 790.9M216.8 793.0L216.4 790.6M229.4 791.5L229.3 790.4M222.0 792.2L221.6 789.0M204.6 795.5L203.7 792.0M199.2 797.0L197.0 789.6M203.6 795.8L202.7 792.4M229.2 791.5L228.7 783.1M215.9 793.1L215.7 791.9M228.1 791.6L228.0 790.3M222.5 792.2L222.1 788.4M228.6 791.6L229.0 798.2M201.0 796.5L200.7 795.5M215.6 793.2L214.2 784.9M213.8 793.5L213.2 790.2" fill="none" stroke="#f07a50" stroke-width="0.7" opacity="0.42"/><path d="M239.42 811 A118.4 118.4 0 0 1 306.29 832.12M310.3 835.03 A118.4 118.4 0 0 1 348.58 885.05M350.44 889.96 A118.4 118.4 0 0 1 351.78 964.81M349.88 970.38 A118.4 118.4 0 0 1 324.61 1010.98M320.75 1014.86 A118.4 118.4 0 0 1 253.84 1046.84M248.91 1047.37 A118.4 118.4 0 0 1 169.54 1025.43M165.42 1022.32 A118.4 118.4 0 0 1 128.94 973.56M126.78 967.75 A118.4 118.4 0 0 1 121.73 911.7M122.61 906.61 A118.4 118.4 0 0 1 191.59 820.82M197.53 818.43 A118.4 118.4 0 0 1 234.46 811.08" fill="none" stroke="#fbb070" stroke-width="1.0" stroke-dasharray="0.8 1.8" opacity="0.4"/><path d="M287.8 821.6L289.0 818.9M298.9 827.4L299.3 826.9M303.5 830.2L303.8 829.6M259.2 812.8L259.5 811.0M271.5 815.6L272.6 811.5M275.2 816.7L275.7 815.3M247.7 811.3L247.8 810.4M289.2 822.3L289.5 821.6M279.2 818.1L278.8 819.0M261.2 813.1L261.3 812.3M301.0 828.7L301.9 827.2M243.0 811.1L243.0 810.3M272.0 815.7L272.7 813.4M241.7 811.0L241.7 809.9M305.1 831.3L305.5 830.8M290.2 822.7L290.6 821.9M303.8 830.4L304.2 829.8M275.9 816.9L276.3 815.5M292.8 824.0L293.4 822.7M304.4 830.8L304.8 830.2M299.0 827.5L302.7 821.3M265.2 814.0L265.6 812.2M287.7 821.6L290.2 816.2M293.9 824.6L295.1 822.3M261.5 813.2L261.8 811.8M299.2 827.5L300.5 825.3M273.0 816.0L273.6 813.8M279.6 818.3L280.4 816.2M263.9 813.7L264.1 812.9M272.7 816.0L273.8 812.4M292.7 824.0L293.8 821.7M251.8 811.7L251.9 810.2M282.2 819.2L280.8 822.9M258.2 812.6L257.8 815.3M257.6 812.5L257.9 810.6M328.1 851.7L328.7 851.1M331.6 855.9L333.1 854.8M318.1 841.5L316.9 842.8M340.1 868.1L341.2 867.4M312.5 836.7L316.2 832.0M324.3 847.5L325.2 846.7M345.7 878.4L348.9 876.9M327.7 851.2L330.4 848.9M315.9 839.6L318.2 837.0M347.6 882.6L348.3 882.3M323.8 847.0L324.4 846.3M330.7 854.7L336.7 849.8M337.5 864.1L338.2 863.6M318.9 842.2L319.7 841.4M338.9 866.1L339.7 865.6M342.9 872.9L345.0 871.7M330.0 853.9L330.5 853.4M313.4 837.4L313.9 836.8M332.8 857.4L331.8 858.2M323.3 846.4L326.3 843.5M314.6 838.4L315.9 836.8M316.2 839.8L317.5 838.2M315.2 838.9L315.8 838.3M329.8 853.7L332.0 851.9M335.1 860.5L336.9 859.2M338.1 864.9L338.8 864.5M329.6 853.4L330.7 852.4M344.5 876.1L345.9 875.3M330.5 854.5L332.3 853.1M332.0 856.4L335.1 853.9M317.5 840.9L324.1 833.5M356.8 939.2L356.2 939.2M356.9 921.4L364.4 920.9M354.4 955.1L359.7 956.3M357.2 926.2L358.6 926.2M353.6 900.4L355.5 899.9M353.7 900.9L354.7 900.6M351.3 892.5L356.7 890.8M355.6 948.9L353.9 948.6M356.9 921.3L358.0 921.2M357.0 936.2L362.4 936.5M353.0 898.2L354.8 897.7M355.2 951.2L356.7 951.5M357.2 932.4L360.2 932.4M354.3 955.4L357.2 956.1M352.6 896.9L353.9 896.5M356.7 940.5L355.1 940.4M351.7 893.8L353.4 893.2M351.1 891.7L351.7 891.5M355.1 907.1L353.5 907.5M357.0 936.9L360.0 937.1M354.4 903.9L355.1 903.7M353.8 957.6L351.7 957.1M357.1 925.0L356.1 925.1M353.0 960.5L354.4 960.9M355.3 950.4L356.5 950.6M353.3 959.7L355.7 960.3M356.5 916.6L364.1 915.7M354.0 902.2L356.2 901.7M352.1 963.8L350.9 963.4M353.7 900.7L352.6 901.0M353.4 959.3L355.7 959.9M357.2 929.0L352.4 929.1M353.8 901.1L352.8 901.4M353.9 901.7L355.5 901.3M357.2 927.4L359.9 927.4M353.1 960.4L357.4 961.6M357.1 923.7L358.8 923.6M334.8 998.7L339.1 1001.7M344.7 982.3L349.3 984.6M343.4 984.9L347.5 987.1M339.8 991.3L342.1 992.7M337.1 995.4L337.9 996.0M331.5 1003.0L332.2 1003.6M340.6 989.9L342.5 991.0M348.1 975.0L348.8 975.2M347.6 976.1L350.9 977.6M344.3 983.0L348.1 985.0M347.5 976.2L348.4 976.6M347.3 976.8L346.4 976.4M347.0 977.5L348.0 977.9M324.9 1010.6L326.4 1012.0M347.8 975.5L350.1 976.5M341.9 987.7L342.7 988.2M344.7 982.4L349.8 985.0M327.3 1008.1L328.4 1009.1M347.4 976.6L352.0 978.6M349.0 972.7L351.5 973.7M332.4 1001.9L335.1 1003.9M346.9 977.6L347.7 977.9M346.2 979.3L346.9 979.7M313.0 1021.7L315.2 1024.4M297.4 1032.3L298.1 1033.5M282.9 1039.3L283.9 1041.9M288.3 1037.0L289.5 1039.7M270.9 1043.4L271.3 1044.6M287.9 1037.1L288.7 1038.8M305.3 1027.3L309.2 1033.0M310.8 1023.4L311.5 1024.3M296.2 1032.9L296.6 1033.5M316.1 1019.1L319.0 1022.6M278.9 1040.8L280.2 1044.4M272.2 1043.0L273.6 1047.7M272.3 1043.0L273.0 1045.4M317.9 1017.5L318.5 1018.2M258.8 1046.1L260.3 1054.7M259.5 1046.0L259.7 1047.2M299.8 1030.9L301.2 1033.2M270.7 1043.4L270.9 1044.1M299.3 1031.2L302.3 1036.3M257.6 1046.3L257.8 1047.7M278.5 1040.9L278.9 1042.0M270.0 1043.6L270.5 1045.4M299.6 1031.0L300.5 1032.4M319.8 1015.7L322.1 1018.2M314.9 1020.1L315.7 1020.9M257.0 1046.4L256.8 1045.1M278.1 1041.1L278.6 1042.4M265.7 1044.7L266.8 1049.8M292.7 1034.8L293.0 1035.5M260.2 1045.9L260.4 1046.8M309.0 1024.7L309.7 1025.7M265.4 1044.8L265.7 1045.9M257.8 1046.3L258.4 1049.8M291.1 1035.6L291.9 1037.3M272.5 1042.9L274.2 1048.9M315.4 1019.7L312.7 1016.4M291.8 1035.3L295.5 1042.7M212.4 1044.8L212.2 1046.0M238.6 1047.8L238.6 1052.2M175.4 1029.4L170.6 1037.0M235.9 1047.8L235.9 1048.4M237.5 1047.8L237.5 1050.3M199.1 1041.0L198.6 1042.5M173.2 1028.0L172.8 1028.6M227.5 1047.3L227.2 1050.4M178.8 1031.5L178.2 1032.5M217.2 1045.8L215.9 1052.4M180.9 1032.7L180.6 1033.3M203.0 1042.3L202.6 1043.4M208.4 1043.8L208.1 1045.2M203.9 1042.5L203.7 1043.1M236.5 1047.8L236.5 1049.0M170.4 1026.1L169.2 1027.8M176.5 1030.1L173.6 1034.9M241.5 1047.8L241.6 1048.8M219.7 1046.2L219.9 1044.7M246.1 1047.6L246.1 1048.6M174.8 1029.0L173.8 1030.6M243.4 1047.7L243.5 1050.0M220.8 1046.4L220.1 1050.7M248.4 1047.4L248.5 1049.5M248.3 1047.4L248.4 1048.0M230.3 1047.5L230.2 1049.9M177.4 1030.6L176.3 1032.4M234.3 1047.7L234.1 1051.4M243.7 1047.7L243.8 1048.6M174.2 1028.6L172.6 1031.2M172.6 1027.5L169.2 1032.5M176.3 1030.0L175.8 1030.8M219.5 1046.2L219.3 1047.3M229.5 1047.4L229.4 1048.4M226.1 1047.1L225.8 1050.5M173.9 1028.5L172.4 1030.9M218.7 1046.1L218.1 1049.2M231.7 1047.6L231.6 1049.4M229.2 1047.4L229.0 1049.3M186.9 1035.8L184.7 1040.4M240.6 1047.8L240.6 1048.8M155.5 1013.6L154.2 1014.9M132.8 982.1L130.8 983.0M160.2 1017.9L158.7 1019.7M134.4 985.2L133.1 985.8M146.9 1004.1L144.4 1006.2M132.7 982.0L132.0 982.3M144.3 1000.7L139.7 1004.1M145.3 1002.1L144.5 1002.7M158.5 1016.4L157.6 1017.4M142.5 998.3L140.5 999.8M145.8 1002.7L143.8 1004.2M154.8 1012.9L155.8 1011.8M134.9 986.1L131.9 987.7M158.8 1016.7L157.9 1017.7M146.0 1002.9L144.8 1003.8M132.4 981.4L131.3 981.9M147.8 1005.1L146.4 1006.3M129.9 975.8L129.1 976.1M159.9 1017.7L157.8 1020.0M134.2 984.9L130.9 986.7M144.6 1001.2L144.0 1001.6M130.2 976.5L125.0 978.8M148.4 1005.9L151.3 1003.4M156.1 1014.2L155.3 1015.0M135.9 988.0L134.3 988.9M164.6 1021.7L163.8 1022.6M164.0 1021.1L163.2 1022.1M157.3 1015.3L156.4 1016.1M138.3 991.9L134.9 994.1M156.2 1014.3L155.8 1014.8M121.9 948.0L115.9 948.9M124.2 959.1L119.9 960.2M121.1 942.2L119.8 942.3M121.1 916.5L120.1 916.3M120.6 923.2L119.9 923.2M120.7 938.1L119.1 938.2M121.5 913.6L119.7 913.4M121.3 944.2L120.4 944.3M120.8 919.1L118.4 918.9M123.0 954.2L121.3 954.6M125.3 963.2L121.5 964.3M124.1 958.9L123.5 959.1M120.5 933.9L115.0 934.1M121.0 941.3L119.4 941.5M121.5 945.3L120.7 945.4M124.9 961.7L123.4 962.1M120.5 925.8L117.1 925.7M124.4 959.9L123.2 960.2M121.6 912.9L120.9 912.8M120.4 927.5L124.1 927.6M121.2 915.7L120.4 915.7M124.4 959.9L121.8 960.5M122.0 948.7L126.6 948.0M120.7 921.0L119.8 920.9M120.5 933.2L118.5 933.3M120.5 925.4L118.3 925.4M120.5 935.0L119.0 935.1M126.1 965.7L123.6 966.5M126.6 891.7L125.9 891.4M172.1 831.6L168.4 826.2M131.9 878.5L130.7 878.0M123.5 902.4L122.0 902.1M138.1 867.1L137.2 866.6M124.4 898.9L123.3 898.6M133.7 874.8L129.3 872.5M175.9 829.1L174.5 827.0M129.2 884.6L127.3 883.8M150.6 850.4L149.8 849.7M164.0 837.6L162.6 835.8M163.2 838.3L161.8 836.6M187.6 822.7L189.4 826.5M124.7 897.7L121.6 896.9M175.1 829.6L174.8 829.1M181.5 825.8L181.1 825.1M154.1 846.6L156.9 849.3M135.1 872.3L133.0 871.2M151.1 849.9L149.9 848.8M136.5 869.8L135.5 869.2M138.0 867.3L134.8 865.4M183.3 824.8L182.1 822.5M182.4 825.3L181.8 824.2M138.2 867.0L137.0 866.3M126.5 891.7L120.9 889.9M132.2 877.8L131.6 877.5M189.5 821.7L189.1 820.8M138.2 867.0L137.1 866.4M152.0 848.8L154.1 850.8M126.9 890.8L124.6 890.0M180.9 826.1L179.8 824.2M182.5 825.2L181.2 822.9M150.9 850.1L149.6 849.0M151.3 849.6L150.7 849.1M130.9 880.6L130.0 880.1M167.1 835.2L164.5 831.7M130.6 881.2L128.5 880.3M181.6 825.7L181.2 824.9M126.0 893.4L124.5 892.9M171.9 831.7L170.6 829.8M180.8 826.2L181.3 827.0M177.0 828.4L176.6 827.8M148.0 853.4L147.0 852.7M157.2 843.6L156.3 842.7M162.4 839.0L161.8 838.3M122.7 906.1L122.0 906.0M123.9 900.9L120.0 899.9M143.7 858.8L145.3 860.0M137.2 868.6L136.5 868.3M152.0 848.9L150.5 847.5M185.5 823.7L184.7 822.2M182.1 825.5L181.3 823.9M149.5 851.7L150.2 852.3M134.1 874.2L130.1 872.1M149.3 851.9L147.7 850.6M167.4 834.9L166.5 833.7M219.0 812.7L218.8 811.5M227.7 811.5L226.8 801.6M215.3 813.4L214.2 808.0M223.6 812.0L223.3 809.5M213.4 813.8L213.6 814.8M222.1 812.2L221.9 811.1M209.9 814.6L208.7 809.9M233.0 811.1L233.1 812.4M218.7 812.7L217.5 805.9M218.3 812.8L217.7 809.7M202.6 816.7L203.7 820.3M220.9 812.4L220.8 811.7M227.4 811.6L227.2 810.3M232.6 811.2L232.5 808.4M204.9 815.9L204.5 814.6M207.7 815.1L207.5 814.3M219.6 812.6L219.5 811.8M217.3 813.0L217.1 811.9" fill="none" stroke="#fbb070" stroke-width="0.7" opacity="0.42"/><path d="M239.32 830 A99.4 99.4 0 0 1 295.46 847.73M298.83 850.17 A99.4 99.4 0 0 1 330.96 892.16M332.52 896.29 A99.4 99.4 0 0 1 333.65 959.12M332.06 963.8 A99.4 99.4 0 0 1 310.84 997.89M307.6 1001.14 A99.4 99.4 0 0 1 251.43 1027.99M247.29 1028.44 A99.4 99.4 0 0 1 180.66 1010.02M177.19 1007.41 A99.4 99.4 0 0 1 146.57 966.47M144.76 961.6 A99.4 99.4 0 0 1 140.52 914.54M141.26 910.26 A99.4 99.4 0 0 1 199.16 838.24M204.15 836.23 A99.4 99.4 0 0 1 235.16 830.07" fill="none" stroke="#a8dca0" stroke-width="1.0" stroke-dasharray="0.8 1.8" opacity="0.4"/><path d="M271.3 835.4L271.5 834.7M280.5 839.2L280.0 840.5M265.9 833.8L266.2 833.0M254.5 831.2L254.2 833.0M274.6 836.7L275.5 834.3M268.8 834.6L269.3 833.1M281.8 839.8L280.4 842.7M246.9 830.3L247.0 828.9M287.8 842.9L288.1 842.2M278.4 838.2L280.5 833.4M276.6 837.5L277.1 836.1M262.2 832.8L262.4 832.2M244.0 830.1L244.1 828.7M290.8 844.7L293.9 839.7M263.4 833.1L263.6 832.5M268.0 834.4L268.4 832.9M250.8 830.7L251.0 829.3M292.9 846.0L293.9 844.4M294.3 847.0L295.0 846.0M241.5 830.0L241.6 828.2M292.1 845.5L293.6 843.0M262.1 832.8L262.7 830.2M284.1 840.9L284.8 839.6M260.0 832.3L260.3 831.0M287.0 842.4L287.3 841.8M273.9 836.4L277.4 827.0M271.2 835.4L271.5 834.4M291.1 844.8L291.9 843.6M240.2 830.0L240.2 826.1M258.2 831.9L258.9 828.7M275.9 837.2L276.3 836.2M272.5 835.9L273.5 833.3M267.2 834.1L268.1 831.2M288.2 843.2L287.1 845.2M288.0 843.0L288.6 841.9M307.9 857.9L310.1 855.7M301.5 852.2L302.3 851.2M311.0 861.1L311.5 860.7M325.0 879.8L325.8 879.4M323.2 876.8L324.7 875.9M305.5 855.7L307.2 853.9M326.8 883.3L329.5 881.9M330.4 890.8L331.6 890.2M324.1 878.3L325.2 877.6M323.3 877.1L323.9 876.7M318.3 869.8L317.2 870.6M299.2 850.5L299.8 849.7M318.1 869.5L319.3 868.6M318.2 869.6L319.1 869.0M322.5 875.9L315.0 880.7M329.5 888.8L330.3 888.4M327.6 884.8L318.7 889.3M323.6 877.5L324.1 877.2M306.8 856.9L307.8 855.9M321.4 874.1L322.0 873.6M312.3 862.5L313.4 861.4M317.8 869.0L316.4 870.1M307.7 857.8L309.2 856.2M308.6 858.7L311.4 855.9M320.0 872.0L323.6 869.5M327.8 885.1L330.9 883.6M301.4 852.2L302.0 851.5M315.5 866.2L317.0 864.9M328.7 886.9L331.6 885.5M308.5 858.6L309.9 857.2M324.8 879.5L326.1 878.8M335.3 953.3L332.2 952.5M338.1 926.2L339.1 926.1M338.0 935.9L343.1 936.3M337.2 943.7L338.8 944.0M337.2 943.7L339.5 944.1M335.8 951.2L336.4 951.4M337.8 920.4L341.2 920.1M338.2 931.8L341.3 931.9M337.8 920.1L336.3 920.2M337.6 918.4L340.4 918.1M333.4 898.9L339.9 896.8M335.2 953.5L336.4 953.8M336.6 911.8L339.2 911.3M338.1 933.2L340.7 933.3M334.7 903.1L337.1 902.4M336.5 947.5L337.5 947.7M338.0 935.3L339.7 935.4M335.9 950.6L338.8 951.3M338.2 932.3L343.6 932.4M338.2 930.1L341.6 930.1M337.8 920.4L340.0 920.2M334.5 956.4L337.5 957.3M335.8 907.6L345.5 905.4M336.3 948.7L342.7 950.0M338.1 932.6L340.3 932.7M337.9 937.5L338.8 937.6M337.5 941.3L339.6 941.6M335.9 908.2L341.7 906.9M338.1 932.8L333.4 932.7M338.0 936.3L340.7 936.5M338.2 930.1L339.7 930.1M335.7 951.5L337.8 952.0M337.8 920.3L338.5 920.2M335.9 908.0L341.2 906.8M337.3 942.9L338.5 943.1M337.8 938.4L341.5 938.7M337.9 936.7L341.5 936.9M322.5 983.1L326.4 985.6M319.5 987.4L322.3 989.3M331.2 966.1L334.0 967.2M318.6 988.6L318.1 988.2M311.3 997.4L311.8 997.8M329.4 970.3L330.2 970.7M320.0 986.7L320.6 987.1M320.4 986.2L323.8 988.5M320.4 986.1L322.0 987.2M328.2 972.9L328.9 973.3M313.6 994.8L315.0 996.0M313.3 995.2L314.3 996.0M318.2 989.3L318.9 989.8M326.6 976.0L331.6 978.7M315.6 992.5L317.3 993.9M331.1 966.3L333.1 967.2M321.4 984.7L327.7 988.9M330.9 966.9L333.4 967.9M316.5 991.4L318.5 993.0M330.4 967.9L331.8 968.5M328.8 971.5L335.2 974.5M320.0 986.8L321.7 988.0M323.1 982.1L323.8 982.6M277.9 1020.8L278.8 1023.0M285.3 1017.3L283.7 1014.4M285.2 1017.3L286.1 1019.0M267.7 1024.5L268.4 1026.9M298.2 1009.1L302.6 1015.1M291.7 1013.5L294.7 1018.3M305.0 1003.6L306.3 1005.0M302.4 1005.8L305.2 1009.2M285.2 1017.3L286.8 1020.4M279.9 1019.9L280.2 1020.6M303.6 1004.8L302.6 1003.6M289.6 1014.8L292.5 1019.6M281.7 1019.1L282.7 1021.2M266.2 1024.9L267.6 1029.8M297.3 1009.8L295.4 1007.2M293.8 1012.2L294.2 1012.7M272.0 1023.1L272.3 1024.0M303.4 1004.9L305.7 1007.6M299.2 1008.3L299.8 1009.0M295.1 1011.3L296.8 1013.9M255.7 1027.4L255.9 1028.6M265.6 1025.1L266.4 1028.0M304.7 1003.8L305.4 1004.6M307.1 1001.6L307.6 1002.1M263.9 1025.6L264.3 1027.1M300.4 1007.4L301.3 1008.5M278.1 1020.7L279.5 1024.1M293.7 1012.3L294.7 1013.8M280.2 1019.8L280.5 1020.4M302.0 1006.1L303.1 1007.5M304.8 1003.7L309.7 1009.3M266.0 1025.0L267.9 1031.7M304.2 1004.2L305.2 1005.4M286.5 1016.6L287.3 1018.0M303.5 1004.8L304.7 1006.2M274.8 1022.1L275.0 1022.7M289.8 1014.7L291.5 1017.6M193.1 1017.7L192.8 1018.4M181.3 1010.5L180.9 1011.0M228.4 1028.3L228.6 1027.0M196.3 1019.2L195.8 1020.3M181.0 1010.3L178.9 1013.2M204.4 1022.7L203.4 1025.5M234.7 1028.7L234.6 1031.2M189.8 1015.9L189.3 1016.7M218.2 1026.6L217.6 1029.4M214.6 1025.8L213.7 1029.3M184.1 1012.4L182.2 1015.2M233.8 1028.7L233.8 1029.4M224.7 1027.8L224.5 1029.2M227.5 1028.2L227.0 1032.4M183.9 1012.3L183.4 1013.0M205.8 1023.2L205.1 1025.2M240.6 1028.8L240.7 1030.4M209.6 1024.4L207.6 1031.1M211.2 1024.9L210.8 1026.1M201.7 1021.6L201.4 1022.4M217.6 1026.5L216.6 1031.0M204.0 1022.5L202.6 1026.3M216.2 1026.2L216.4 1025.5M184.3 1012.5L183.6 1013.5M239.1 1028.8L239.1 1030.2M236.4 1028.8L236.4 1032.3M192.4 1017.3L191.5 1018.8M222.4 1027.4L222.3 1028.1M200.0 1020.9L199.7 1021.6M241.9 1028.8L241.9 1029.4M204.7 1022.8L202.6 1028.5M208.7 1024.1L208.2 1025.5M236.0 1028.8L236.1 1026.3M244.9 1028.6L245.2 1033.6M244.5 1028.6L244.7 1031.3M202.6 1022.0L199.6 1029.6M204.8 1022.8L204.4 1023.9M234.0 1028.7L233.9 1030.8M229.2 1028.3L228.8 1032.4M200.6 1021.2L200.3 1021.9M216.4 1026.2L216.1 1027.5M176.5 1006.8L173.4 1010.7M150.0 974.2L149.5 974.4M148.8 971.7L147.8 972.2M147.0 967.4L145.2 968.2M159.1 988.8L155.9 991.1M159.2 989.0L157.9 990.0M154.1 981.4L153.4 981.8M169.0 1000.2L167.2 1002.1M174.6 1005.3L168.6 1012.3M146.9 967.3L149.9 966.1M174.9 1005.5L172.9 1007.9M152.2 978.3L151.2 978.8M153.6 980.6L152.9 981.0M160.2 990.3L158.0 992.0M148.8 971.7L139.8 975.9M149.5 973.1L151.7 972.0M156.3 984.9L158.8 983.2M169.6 1000.8L166.9 1003.5M166.8 997.9L165.7 999.0M160.7 990.9L161.3 990.4M162.0 992.5L159.1 994.8M169.6 1000.7L169.1 1001.3M148.3 970.4L146.0 971.5M176.6 1007.0L177.3 1006.0M146.9 967.2L145.4 967.8M150.5 975.1L149.1 975.9M172.6 1003.6L170.7 1005.7M168.9 1000.1L168.0 1001.0M151.6 977.1L151.0 977.5M147.7 969.2L150.8 967.8M141.0 947.3L139.5 947.6M139.7 936.8L138.7 936.8M139.5 933.8L137.4 933.8M139.4 931.0L138.0 931.0M141.2 948.5L139.9 948.7M139.7 936.5L140.9 936.4M139.9 938.9L138.5 939.0M139.4 930.8L138.7 930.8M143.8 958.6L142.9 958.8M142.2 953.0L141.5 953.2M140.4 943.4L139.1 943.5M140.3 942.7L135.1 943.4M140.5 944.2L132.2 945.4M141.2 948.2L138.2 948.8M142.0 952.0L133.1 954.0M139.4 930.2L138.7 930.2M139.9 938.9L137.6 939.2M140.2 942.3L139.6 942.4M144.0 959.3L142.3 959.8M139.4 932.3L140.3 932.3M139.4 932.3L131.8 932.5M140.8 946.1L139.9 946.2M139.4 932.2L138.2 932.2M142.5 954.0L137.8 955.2M140.0 918.2L136.1 917.8M140.3 942.5L136.7 942.9M144.0 959.3L141.2 960.2M139.4 928.9L135.9 928.9M191.1 842.2L188.8 838.0M191.4 842.0L191.9 843.0M158.2 871.2L157.7 870.8M174.2 853.8L170.6 849.5M171.9 855.9L167.3 850.8M147.8 889.4L146.1 888.7M167.1 860.5L164.5 858.0M175.4 852.8L174.3 851.5M147.3 890.6L146.3 890.1M145.6 894.8L144.5 894.4M193.3 841.1L192.9 840.4M149.1 886.6L147.8 886.0M148.3 888.3L147.6 888.0M142.6 904.3L134.0 902.1M166.7 861.0L165.5 859.8M144.0 899.5L141.4 898.7M178.1 850.7L176.2 848.4M177.6 851.0L176.9 850.1M161.9 866.4L160.5 865.3M142.7 903.9L138.3 902.7M170.5 857.2L169.5 856.2M198.8 838.4L197.1 834.7M178.0 850.8L176.9 849.4M148.9 887.0L147.5 886.4M144.0 899.5L141.4 898.7M179.0 850.0L174.5 844.0M151.5 881.8L145.9 878.8M158.3 871.0L155.7 869.1M165.3 862.5L166.2 863.4M148.5 887.9L149.5 888.3M185.3 845.6L184.9 845.1M151.1 882.6L149.1 881.6M145.0 896.5L140.3 894.8M142.9 903.4L137.8 902.0M179.6 849.5L178.0 847.4M149.3 886.2L148.5 885.8M146.3 893.0L145.3 892.6M192.3 841.5L191.3 839.6M173.0 854.9L169.7 851.2M150.1 884.6L146.7 882.9M150.1 884.6L145.1 882.0M176.0 852.4L173.5 849.3M198.4 838.6L199.0 839.8M149.2 886.3L148.1 885.7M145.3 895.6L140.0 893.7M183.0 847.1L182.1 845.8M143.3 901.8L143.9 902.0M180.1 849.1L181.0 850.3M142.4 905.3L137.8 904.2M146.6 892.3L144.7 891.5M176.7 851.8L175.4 850.2M164.1 863.8L162.4 862.3M141.8 907.8L135.9 906.5M153.6 878.1L152.3 877.4M143.9 899.9L136.3 897.5M184.2 846.3L189.3 854.0M205.1 835.9L202.4 828.5M228.3 830.6L228.5 831.8M208.9 834.6L209.0 835.2M207.9 834.9L207.4 833.6M221.9 831.4L221.2 827.2M234.3 830.1L234.2 827.8M233.5 830.1L233.5 829.1M226.2 830.8L225.5 825.5M223.2 831.2L222.8 828.9M216.3 832.6L215.0 827.2M208.9 834.6L209.7 837.1M220.4 831.7L220.3 831.0M227.1 830.7L227.0 829.8M231.3 830.3L231.1 827.2M209.5 834.4L208.0 829.4M206.7 835.3L207.1 836.4M232.9 830.2L232.8 829.2M217.9 832.2L217.6 831.0" fill="none" stroke="#a8dca0" stroke-width="0.7" opacity="0.42"/><path d="M239.22 849.4 A80 80 0 0 1 284.4 863.67M287.11 865.64 A80 80 0 0 1 312.97 899.43M314.23 902.75 A80 80 0 0 1 315.14 953.32M313.86 957.09 A80 80 0 0 1 296.78 984.52M294.17 987.14 A80 80 0 0 1 248.97 1008.75M245.63 1009.11 A80 80 0 0 1 192 994.29M189.22 992.18 A80 80 0 0 1 164.57 959.24M163.11 955.31 A80 80 0 0 1 159.7 917.44M160.3 914 A80 80 0 0 1 206.9 856.04M210.91 854.42 A80 80 0 0 1 235.87 849.45" fill="none" stroke="#66c2a5" stroke-width="1.0" stroke-dasharray="0.8 1.8" opacity="0.44"/><path d="M259.9 852.2L260.4 850.4M251.6 850.4L251.4 852.1M255.2 851.1L256.5 845.3M259.7 852.2L259.9 851.6M267.3 854.6L267.1 855.3M269.7 855.6L270.3 854.1M260.7 852.5L261.5 849.8M280.6 861.2L281.4 859.9M257.9 851.7L258.5 849.5M269.2 855.4L269.5 854.7M246.8 849.8L247.4 844.6M255.7 851.2L256.3 848.5M267.2 854.6L268.0 852.4M241.3 849.4L241.4 847.0M247.0 849.8L247.4 845.9M248.3 850.0L248.6 847.9M264.7 853.7L264.9 852.9M241.6 849.4L241.7 846.9M266.6 854.4L267.9 851.0M270.8 856.1L271.9 853.4M265.5 854.0L265.9 853.0M247.4 849.9L247.5 848.6M274.1 857.6L274.5 856.8M278.3 859.8L279.5 857.7M275.7 858.4L278.0 853.9M246.9 849.8L247.1 847.7M252.3 850.5L252.7 848.2M274.1 857.6L274.9 856.0M279.0 860.2L280.5 857.6M283.5 863.0L284.1 862.1M271.6 856.5L272.0 855.8M265.6 854.0L265.9 853.4M240.6 849.4L240.7 847.7M261.9 852.8L263.0 849.2M278.2 859.8L281.0 855.0M289.6 867.6L293.7 862.7M309.1 891.3L309.8 890.9M298.5 876.1L299.2 875.5M290.8 868.6L297.3 861.0M305.6 885.4L306.2 885.1M299.0 876.7L300.1 875.8M308.4 889.9L309.8 889.0M308.8 890.7L309.4 890.4M288.0 866.3L290.2 863.5M312.6 898.5L314.9 897.5M305.8 885.6L311.1 882.1M303.0 881.6L309.2 877.0M297.2 874.7L299.5 872.6M295.7 873.2L296.7 872.1M293.8 871.3L295.6 869.5M299.0 876.7L300.0 875.9M307.8 888.8L313.6 885.4M309.8 892.6L313.8 890.6M306.6 886.9L308.8 885.5M306.9 887.3L306.3 887.7M311.6 896.3L316.9 893.9M292.6 870.2L293.5 869.3M293.4 871.0L298.7 865.4M295.8 873.3L297.2 871.9M299.4 877.2L297.9 878.5M293.7 871.2L294.9 870.0M297.5 875.0L298.8 873.9M295.7 873.2L296.4 872.6M310.5 894.0L313.6 892.4M300.9 879.0L298.8 880.7M293.5 871.0L292.6 872.0M318.7 926.5L319.7 926.5M318.5 936.6L320.3 936.7M316.6 948.1L318.4 948.6M315.9 950.8L322.5 952.6M318.7 932.6L319.7 932.7M316.8 911.4L315.3 911.8M318.8 932.0L322.4 932.2M317.9 941.2L318.9 941.4M318.7 926.1L323.2 925.9M315.6 951.8L316.2 952.0M318.8 932.2L316.7 932.1M318.8 931.7L322.3 931.8M318.8 928.9L319.4 928.9M317.9 941.1L319.8 941.4M318.5 922.8L320.7 922.7M318.4 921.4L316.7 921.6M318.2 919.5L320.8 919.1M318.5 922.6L319.6 922.5M316.8 947.4L317.9 947.6M318.8 929.9L321.0 930.0M318.2 938.9L318.9 939.0M315.1 905.5L313.6 906.0M317.8 916.9L318.9 916.7M318.5 922.6L320.4 922.5M317.9 941.4L319.3 941.6M318.6 923.7L319.4 923.6M314.6 903.7L320.0 901.9M318.8 931.5L319.7 931.5M316.5 948.4L315.6 948.2M316.0 908.3L316.5 908.1M318.1 939.8L320.2 940.0M318.1 919.2L324.1 918.4M318.6 934.8L320.5 934.9M318.8 932.0L313.9 931.9M316.2 949.6L317.1 949.9M317.0 912.7L318.5 912.4M316.8 947.2L320.6 948.0M304.5 975.0L305.0 975.4M302.8 977.4L304.2 978.5M312.9 959.4L314.2 959.9M308.2 969.2L309.2 969.7M308.7 968.3L309.3 968.6M308.3 969.1L310.9 970.6M311.6 962.5L314.0 963.6M297.3 984.0L298.8 985.4M308.9 968.0L309.6 968.4M304.7 974.7L305.9 975.5M298.4 982.8L299.3 983.6M299.7 981.3L300.7 982.2M311.5 962.8L312.7 963.3M304.5 975.0L306.6 976.5M300.3 980.6L302.5 982.4M307.7 970.0L309.0 970.8M312.4 960.7L311.8 960.4M301.6 978.9L305.2 981.8M303.7 976.2L302.9 975.6M301.9 978.5L303.7 979.9M307.5 970.3L313.5 973.8M300.7 980.0L301.3 980.5M311.8 962.1L313.7 962.9M269.2 1003.4L270.0 1005.3M270.9 1002.7L273.3 1007.9M272.1 1002.1L273.0 1004.1M282.0 996.7L282.8 998.0M287.4 992.9L292.5 999.6M285.5 994.3L285.0 993.6M258.2 1007.0L258.9 1009.5M293.6 987.7L294.6 988.8M291.9 989.3L293.3 990.9M255.5 1007.6L255.7 1008.7M285.2 994.6L289.2 1000.1M275.1 1000.7L276.0 1002.5M272.7 1001.9L274.2 1004.9M271.8 1002.3L272.7 1004.2M287.3 993.0L287.7 993.5M268.1 1003.8L271.7 1012.9M267.1 1004.2L268.0 1006.7M259.0 1006.8L259.4 1008.5M285.9 994.1L287.0 995.6M263.1 1005.6L261.9 1001.9M292.6 988.6L293.8 989.9M256.3 1007.5L256.8 1009.6M285.8 994.2L288.5 998.0M255.8 1007.6L255.2 1004.8M285.7 994.2L286.3 994.9M293.5 987.8L294.5 988.8M254.9 1007.8L255.6 1011.4M261.6 1006.1L260.6 1002.8M277.6 999.4L280.2 1004.2M281.9 996.8L282.4 997.6M292.9 988.4L293.3 988.8M271.2 1002.5L272.7 1005.9M268.8 1003.6L269.9 1006.3M288.7 991.9L290.6 994.3M267.3 1004.1L266.9 1002.9M274.8 1000.9L279.2 1009.8M284.3 995.2L285.1 996.4M236.7 1009.4L236.7 1010.1M214.1 1005.5L212.5 1010.4M224.8 1008.2L225.2 1005.4M212.0 1004.8L210.7 1008.4M195.7 996.8L190.3 1005.2M208.9 1003.6L208.7 1004.3M210.4 1004.2L208.9 1008.0M234.7 1009.3L234.4 1015.5M224.4 1008.1L224.2 1009.0M214.6 1005.7L216.1 1001.1M234.6 1009.3L234.6 1010.9M227.1 1008.5L226.9 1010.1M216.9 1006.3L216.7 1007.0M227.3 1008.6L227.1 1010.0M237.1 1009.4L237.1 1010.5M224.7 1008.1L224.3 1010.3M217.2 1006.4L216.2 1010.1M237.0 1009.4L237.0 1007.6M223.5 1007.9L223.0 1010.5M239.3 1009.4L239.3 1013.2M221.3 1007.5L221.0 1008.8M207.5 1003.0L207.1 1004.0M202.5 1000.7L202.1 1001.6M225.4 1008.3L225.1 1010.4M194.9 996.3L193.0 999.1M201.9 1000.4L200.1 1003.9M234.0 1009.3L233.9 1010.8M227.3 1008.6L228.1 1003.2M235.1 1009.3L234.8 1015.4M200.6 999.7L199.6 1001.5M236.0 1009.3L235.9 1011.0M193.2 995.1L192.9 995.7M239.5 1009.4L239.6 1013.9M232.7 1009.2L232.7 1009.8M219.4 1007.0L219.0 1008.6M224.1 1008.0L223.0 1013.7M208.9 1003.6L208.3 1004.9M203.5 1001.2L202.9 1002.4M195.4 996.6L194.1 998.6M233.7 1009.2L233.1 1019.1M196.2 997.1L195.3 998.6M186.2 989.7L185.5 990.4M173.6 975.7L170.8 977.7M186.0 989.5L183.9 991.9M167.3 965.3L165.5 966.1M182.0 985.8L181.2 986.6M185.0 988.6L183.7 990.0M167.7 966.1L175.9 961.9M169.9 970.1L169.4 970.4M187.6 990.9L186.6 992.2M174.6 977.2L173.1 978.3M181.3 985.0L180.8 985.5M179.5 983.1L177.8 984.8M179.4 983.0L178.6 983.6M180.5 984.1L180.0 984.5M180.0 983.6L178.9 984.6M168.7 967.9L168.1 968.2M176.6 979.7L174.0 981.8M176.3 979.4L171.9 982.9M173.5 975.6L168.5 979.1M178.0 981.4L178.5 980.9M171.7 973.0L171.1 973.4M186.1 989.6L185.6 990.3M174.5 977.0L168.0 981.8M185.4 988.9L183.7 990.8M166.1 962.8L164.5 963.5M182.8 986.6L180.9 988.6M164.8 959.9L159.7 962.0M180.5 984.2L177.3 987.2M177.7 981.0L175.3 983.0M178.3 981.7L176.8 983.0M161.3 949.3L155.5 950.8M159.0 934.3L158.3 934.4M159.2 937.6L158.5 937.7M158.8 927.3L156.7 927.2M160.2 944.2L158.2 944.6M159.2 921.9L161.9 922.2M158.9 926.5L156.5 926.4M158.9 926.3L153.5 926.1M162.8 954.4L159.6 955.5M159.0 924.1L159.8 924.1M159.3 920.6L157.3 920.4M160.4 945.5L165.1 944.5M161.0 948.2L160.1 948.4M159.8 941.9L157.4 942.2M158.9 932.9L157.9 933.0M159.4 939.5L160.5 939.4M159.2 937.8L157.5 938.0M159.2 921.9L157.5 921.8M158.9 933.3L156.7 933.4M159.0 924.1L154.4 923.8M159.2 937.4L158.6 937.4M159.9 942.8L159.3 942.9M161.1 948.3L158.6 948.9M161.6 950.4L171.3 947.8M158.9 933.9L157.7 934.0M158.8 928.9L157.6 928.9M159.1 936.5L157.7 936.7M159.9 942.5L158.7 942.7M166.7 894.7L164.8 893.8M202.8 857.9L199.9 852.1M178.9 876.3L177.4 875.0M202.1 858.3L201.3 856.8M194.5 862.8L193.5 861.3M200.8 859.0L200.2 857.8M164.0 901.1L159.9 899.5M180.8 874.3L176.1 869.8M174.6 881.7L173.5 881.0M164.2 900.5L163.2 900.2M176.9 878.7L177.5 879.3M174.9 881.3L171.5 878.8M160.6 912.8L159.1 912.4M169.7 889.0L165.9 886.8M175.9 879.9L174.6 878.9M180.1 875.1L179.5 874.5M186.2 869.2L187.1 870.2M163.1 903.6L157.3 901.6M197.2 861.1L194.6 856.8M169.7 889.0L168.1 888.1M182.4 872.7L178.7 869.0M161.7 907.9L159.8 907.3M182.3 872.8L181.6 872.1M177.9 877.5L176.7 876.4M160.6 912.3L159.8 912.1M168.7 890.8L163.8 888.1M163.1 903.4L160.9 902.7M165.1 898.3L163.9 897.8M167.7 892.7L167.1 892.4M190.8 865.4L189.5 863.7M179.4 875.8L178.0 874.5M178.9 876.4L178.2 875.7M168.8 890.7L167.2 889.8M164.7 899.3L161.2 897.9M165.5 897.3L163.3 896.4M180.1 875.1L176.6 871.9M196.0 861.8L194.9 860.1M188.3 867.3L186.4 865.0M171.3 886.5L170.5 886.0M177.9 877.6L176.4 876.3M165.7 896.8L166.4 897.1M162.8 904.4L162.0 904.2M171.8 885.7L170.6 884.9M198.7 860.2L198.3 859.4M166.9 894.3L161.2 891.5M161.8 907.7L158.9 906.9M165.1 898.2L157.6 895.0M188.2 867.4L187.6 866.7M163.7 901.9L160.9 900.9M206.0 856.5L207.3 859.5M178.6 876.7L174.8 873.4M162.8 904.5L160.5 903.8M163.8 901.6L163.2 901.4M161.1 910.3L158.9 909.8M183.3 871.8L182.1 870.6M171.7 885.9L171.0 885.5M217.0 852.4L216.4 850.3M221.9 851.2L220.4 844.6M232.7 849.6L232.8 851.2M227.2 850.3L227.0 849.4M215.7 852.8L215.3 851.4M230.2 849.9L229.8 846.4M225.1 850.6L225.3 851.7M229.5 849.9L229.7 851.0M231.1 849.8L231.5 853.0M215.5 852.9L216.0 854.5M232.8 849.6L232.5 845.1M215.1 853.0L214.8 852.0M228.1 850.1L227.8 847.5M230.4 849.8L230.1 847.1M227.6 850.2L227.7 850.9M216.2 852.6L215.9 851.7M212.0 854.0L211.6 852.9M223.9 850.8L222.1 841.0" fill="none" stroke="#66c2a5" stroke-width="0.7" opacity="0.47"/><path d="M239.12 869.2 A60.2 60.2 0 0 1 273.11 879.94M275.16 881.42 A60.2 60.2 0 0 1 294.62 906.85M295.56 909.34 A60.2 60.2 0 0 1 296.25 947.4M295.28 950.24 A60.2 60.2 0 0 1 282.43 970.88M280.47 972.85 A60.2 60.2 0 0 1 246.45 989.11M243.94 989.38 A60.2 60.2 0 0 1 203.59 978.23M201.49 976.64 A60.2 60.2 0 0 1 182.94 951.85M181.85 948.9 A60.2 60.2 0 0 1 179.28 920.4M179.73 917.81 A60.2 60.2 0 0 1 214.8 874.19M217.82 872.98 A60.2 60.2 0 0 1 236.59 869.24" fill="none" stroke="#3288bd" stroke-width="1.5" stroke-dasharray="1.5 0.4" opacity="0.6"/><path d="M244.9 869.5L245.8 860.9M246.4 869.7L246.4 869.0M244.5 869.5L244.6 868.8M240.6 869.2L240.7 864.8M259.3 872.8L261.5 866.8M270.8 878.4L270.1 879.5M266.5 876.0L267.4 874.4M260.1 873.1L258.8 876.6M264.3 874.9L263.8 875.9M267.0 876.2L267.4 875.4M267.6 876.5L264.7 881.8M263.1 874.3L265.6 868.6M245.5 869.6L245.1 873.4M244.3 869.5L243.7 876.6M248.3 870.0L246.7 879.8M269.7 877.7L266.6 883.0M262.4 874.0L259.3 881.3M240.7 869.2L240.8 868.6M255.2 871.5L255.5 870.4M270.0 877.9L271.6 875.3M247.3 869.8L246.9 872.7M266.1 875.7L267.2 873.4M253.3 871.0L253.0 871.8M250.6 870.4L250.4 871.3M264.9 875.2L269.2 866.1M262.5 874.1L263.8 871.2M251.7 870.6L251.1 873.2M254.0 871.1L254.4 869.7M266.0 875.7L266.5 874.7M251.9 870.6L251.6 871.9M259.5 872.9L259.9 871.8M248.7 870.0L248.8 869.0M262.8 874.2L263.7 872.0M250.5 870.3L250.3 871.2M239.8 869.2L239.8 867.1M290.2 898.1L294.7 895.4M289.9 897.6L296.2 893.7M277.5 883.3L278.0 882.7M293.0 903.3L293.9 902.8M287.5 894.0L288.7 893.1M293.5 904.2L295.1 903.4M291.1 899.6L292.5 898.8M283.7 889.3L286.8 886.5M278.2 883.9L280.2 881.6M285.8 891.8L286.5 891.2M291.0 899.4L289.8 900.1M287.1 893.5L287.7 893.0M275.7 881.8L276.7 880.5M292.7 902.6L293.5 902.2M276.1 882.2L275.4 883.1M294.4 906.4L296.6 905.4M282.8 888.3L283.7 887.5M294.0 905.3L296.7 904.1M292.8 902.8L291.7 903.3M294.4 906.2L293.7 906.5M287.6 894.2L293.8 889.8M294.5 906.4L296.1 905.7M283.2 888.8L283.8 888.2M285.3 891.1L285.8 890.7M292.9 903.0L297.7 900.7M294.3 906.2L296.7 905.2M283.7 889.3L282.6 890.4M288.3 895.1L287.3 895.8M289.8 897.4L290.4 897.0M287.2 893.6L289.5 891.9M279.8 885.3L282.3 882.6M295.8 910.2L298.8 909.2M299.0 929.1L299.8 929.1M298.7 923.3L299.5 923.2M296.5 946.5L297.4 946.8M298.1 919.2L302.8 918.4M296.2 911.2L297.4 910.9M296.2 911.3L297.7 910.8M297.7 916.8L300.9 916.1M297.6 942.3L301.2 943.1M298.7 935.1L301.1 935.4M298.5 937.4L300.1 937.6M299.0 928.9L300.3 928.9M297.4 915.5L298.7 915.2M296.2 911.3L295.2 911.6M298.3 920.1L300.3 919.8M298.6 936.0L299.9 936.1M298.3 920.1L302.3 919.5M298.8 934.1L301.8 934.4M298.1 939.7L300.0 940.0M298.3 938.5L297.3 938.4M298.9 933.4L301.1 933.6M298.6 936.0L305.1 936.7M298.4 938.2L299.4 938.3M298.8 924.1L299.4 924.0M298.0 940.4L305.1 941.7M297.5 942.7L300.1 943.3M298.9 926.6L307.6 926.1M296.7 913.1L298.5 912.6M298.4 938.2L301.4 938.7M298.9 926.2L298.3 926.2M296.7 946.0L297.8 946.3M298.3 938.4L299.9 938.7M298.8 934.2L295.8 933.9M299.0 931.7L301.3 931.8M298.5 921.8L297.5 922.0M299.0 930.5L301.1 930.5M297.7 941.6L300.7 942.2M289.3 962.2L291.1 963.4M283.3 969.9L282.3 969.0M289.2 962.4L290.2 963.1M291.0 959.4L292.1 960.1M293.3 955.0L293.9 955.3M289.6 961.8L288.4 961.0M294.8 951.5L298.4 952.9M287.0 965.5L288.6 966.7M291.8 958.0L293.1 958.8M294.1 953.2L290.6 951.7M294.7 951.7L295.3 951.9M291.0 959.3L294.7 961.4M289.6 961.7L290.5 962.3M290.7 960.0L291.2 960.3M293.3 955.0L295.5 956.0M292.8 956.0L296.0 957.6M287.1 965.3L287.7 965.8M293.8 954.0L295.1 954.6M295.1 950.7L296.4 951.2M287.9 964.2L288.6 964.6M284.2 969.0L284.9 969.6M292.7 956.2L293.8 956.8M293.1 955.4L298.3 958.0M271.9 979.7L273.3 981.8M265.9 983.1L267.4 986.2M251.5 988.2L250.3 982.6M271.1 980.2L269.4 977.6M272.6 979.2L273.1 980.0M259.5 985.9L257.5 980.2M261.6 985.1L261.2 984.2M250.2 988.5L250.3 989.2M252.0 988.1L252.7 991.7M255.6 987.2L255.8 988.0M253.0 987.9L252.5 986.0M268.5 981.8L268.9 982.4M270.5 980.6L271.4 982.0M251.1 988.3L250.9 987.0M251.9 988.2L252.8 992.5M255.8 987.2L256.2 988.5M274.0 978.2L275.2 979.8M280.1 973.2L281.6 974.9M257.3 986.7L256.7 984.9M267.7 982.2L265.2 977.6M252.7 988.0L253.9 992.7M270.3 980.7L273.6 986.1M264.5 983.8L265.5 985.9M254.1 987.6L254.7 989.8M254.2 987.6L254.4 988.3M251.7 988.2L251.9 989.0M268.8 981.6L269.9 983.4M259.4 986.0L260.3 988.5M275.5 977.1L276.9 978.8M278.6 974.6L279.5 975.6M259.6 985.9L257.5 980.3M267.6 982.3L268.4 983.7M250.4 988.5L250.6 989.6M250.0 988.5L249.7 987.0M275.2 977.4L276.8 979.6M249.0 988.7L249.5 991.3M255.1 987.3L256.0 990.5M240.4 989.6L240.5 990.9M226.0 988.2L225.9 989.0M243.3 989.4L243.5 992.0M211.6 983.1L210.9 984.4M225.9 988.2L225.8 988.9M206.6 980.3L205.8 981.5M236.6 989.6L236.5 991.5M206.0 979.9L205.6 980.5M233.2 989.3L233.0 991.5M225.2 988.0L224.6 990.4M239.1 989.6L239.1 991.1M230.9 989.1L230.1 995.2M207.7 981.0L212.9 972.4M206.9 980.5L208.2 978.5M207.5 980.8L206.1 983.1M232.8 989.3L232.6 991.3M216.4 985.3L215.0 988.7M209.1 981.7L208.5 982.7M224.1 987.8L223.5 990.1M243.3 989.4L243.8 996.7M223.7 987.7L224.2 986.0M206.0 979.9L209.0 975.2M206.2 980.0L205.5 981.2M233.0 989.3L232.7 992.0M208.5 981.4L207.7 982.9M226.3 988.3L226.0 989.4M240.0 989.6L240.0 988.6M236.0 989.5L235.9 991.2M225.9 988.2L225.6 989.5M222.1 987.2L221.8 988.1M219.9 986.5L223.0 977.0M234.7 989.5L234.8 988.6M215.7 985.0L215.4 985.8M225.2 988.0L223.9 993.4M221.1 986.9L220.5 988.8M211.2 982.9L210.7 983.9M210.9 982.7L208.7 986.8M237.6 989.6L237.6 990.6M218.7 986.2L218.0 988.2M213.9 984.2L216.3 979.0M229.0 988.8L228.8 989.9M191.4 966.5L190.0 967.5M187.6 961.1L184.2 963.3M183.9 954.0L190.2 951.2M187.7 961.2L185.7 962.3M193.3 968.8L191.8 970.1M196.6 972.4L194.3 974.7M184.9 956.3L184.1 956.7M184.8 956.1L180.8 958.0M197.3 973.0L196.2 974.2M195.6 971.3L194.4 972.4M186.1 958.6L182.0 960.8M189.3 963.6L186.8 965.3M188.5 962.4L186.1 964.0M188.6 962.6L188.0 963.0M191.5 966.7L193.6 965.0M199.9 975.3L198.6 976.9M187.9 961.5L185.6 963.0M194.4 970.1L198.0 966.8M184.8 956.0L184.2 956.3M200.0 975.4L197.6 978.3M194.9 970.6L191.9 973.4M192.7 968.1L192.0 968.8M185.1 956.6L180.6 958.9M186.7 959.6L185.0 960.5M183.6 953.4L182.4 953.9M189.0 963.2L186.6 964.9M193.1 968.6L194.1 967.8M191.9 967.1L189.8 968.8M192.3 967.6L191.8 968.0M194.4 970.1L191.8 972.5M178.6 929.3L176.1 929.3M181.4 947.5L180.7 947.7M178.8 924.8L177.7 924.7M178.9 935.4L170.3 936.3M181.3 947.1L178.7 947.9M178.6 930.4L177.9 930.4M181.7 948.5L183.0 948.1M178.8 924.4L180.3 924.5M179.1 937.3L172.2 938.3M178.8 934.4L177.7 934.5M179.0 936.2L176.8 936.4M178.8 934.7L179.7 934.6M179.7 940.8L179.0 941.0M179.2 921.3L185.8 922.2M178.7 926.6L182.2 926.8M178.7 933.5L174.5 933.7M180.4 944.1L177.8 944.8M178.8 934.0L175.8 934.3M179.8 941.2L178.6 941.4M179.6 940.2L179.0 940.3M178.7 926.5L177.3 926.5M181.3 947.3L178.4 948.3M181.3 947.1L180.5 947.3M179.0 936.7L176.8 937.0M178.9 923.2L177.1 923.0M179.2 937.7L173.7 938.5M178.7 925.4L178.1 925.3M181.1 946.6L178.9 947.2M202.0 881.7L203.7 883.9M180.4 914.8L186.2 916.3M207.7 877.9L209.0 880.1M197.4 885.7L197.0 885.3M204.8 879.7L201.1 874.2M186.5 899.6L180.1 896.0M200.8 882.7L203.1 885.6M191.7 891.8L191.2 891.4M180.0 916.6L178.1 916.2M189.8 894.4L191.7 895.8M191.0 892.8L189.5 891.6M187.2 898.3L186.2 897.7M181.2 911.8L178.9 911.1M187.5 897.9L186.5 897.3M203.7 880.5L203.3 879.9M187.4 898.0L190.3 899.8M184.0 904.4L182.6 903.7M191.1 892.7L192.9 894.0M198.2 884.9L196.6 883.2M180.2 915.7L178.5 915.3M182.3 908.6L181.6 908.3M211.7 875.7L210.6 873.6M186.8 899.0L185.1 898.0M206.2 878.8L205.7 878.1M197.4 885.7L196.2 884.4M204.1 880.2L202.3 877.8M202.1 881.7L199.1 877.7M185.4 901.6L184.3 901.1M180.0 916.6L178.6 916.3M209.9 876.6L210.5 877.8M205.1 879.5L204.5 878.6M180.9 912.9L186.6 914.6M209.1 877.0L208.8 876.5M180.5 914.2L177.4 913.4M185.0 902.4L183.0 901.4M193.6 889.7L192.8 889.1M202.2 881.6L200.8 879.7M181.1 912.3L178.9 911.7M208.7 877.2L208.3 876.5M200.6 882.9L199.6 881.8M183.1 906.6L181.6 906.0M189.3 895.2L185.6 892.6M194.7 888.5L191.8 885.8M198.4 884.7L200.6 887.1M184.7 903.0L184.0 902.7M187.3 898.3L185.8 897.4M181.4 911.4L178.6 910.5M196.9 886.2L193.4 882.7M192.5 891.0L191.9 890.5M194.0 889.2L192.2 887.6M194.6 888.5L193.8 887.8M196.9 886.2L197.8 887.2M186.1 900.4L184.2 899.3M203.2 880.8L202.7 880.1M187.0 898.7L188.9 899.8M199.4 883.9L197.0 881.0M228.4 870.1L228.2 869.2M223.5 871.2L222.8 868.6M228.5 870.1L228.1 867.7M227.7 870.2L227.5 868.8M218.3 872.8L218.0 872.0M234.1 869.4L233.5 861.3M221.4 871.8L219.4 865.3M231.9 869.6L231.8 868.3M221.9 871.6L220.1 865.5M232.3 869.5L232.1 867.6M222.8 871.4L222.5 870.4M231.9 869.6L232.0 870.2M233.1 869.5L233.5 873.4M236.2 869.3L236.0 866.3M227.1 870.3L227.0 869.7M226.0 870.6L226.5 873.2M220.3 872.1L219.8 870.5M229.7 869.9L230.8 876.5" fill="none" stroke="#3288bd" stroke-width="0.7" opacity="0.36"/><path d="M239.01 889.1 A40.3 40.3 0 0 1 261.77 896.29M263.14 897.28 A40.3 40.3 0 0 1 276.17 914.3M276.8 915.97 A40.3 40.3 0 0 1 277.26 941.45M276.61 943.35 A40.3 40.3 0 0 1 268.01 957.17M266.69 958.49 A40.3 40.3 0 0 1 243.92 969.37M242.24 969.55 A40.3 40.3 0 0 1 215.23 962.09M213.82 961.03 A40.3 40.3 0 0 1 201.41 944.43M200.67 942.45 A40.3 40.3 0 0 1 198.95 923.37M199.25 921.64 A40.3 40.3 0 0 1 222.73 892.44M224.75 891.63 A40.3 40.3 0 0 1 237.32 889.13" fill="none" stroke="#5e4fa2" stroke-width="1.5" stroke-dasharray="1.5 0.4" opacity="0.7"/><path d="M261.5 896.1L260.7 897.4M240.5 889.1L240.5 890.2M242.4 889.3L242.7 886.0M243.9 889.4L244.1 887.8M253.7 892.0L251.5 897.6M248.5 890.3L249.0 888.3M254.5 892.3L256.3 888.1M243.6 889.4L243.7 888.5M243.2 889.3L243.5 886.4M261.3 896.0L260.1 897.9M248.7 890.3L248.3 892.1M247.5 890.1L246.9 892.8M259.0 894.5L261.8 889.5M252.7 891.6L252.9 891.0M253.3 891.8L253.0 892.6M256.0 892.9L255.1 894.8M240.5 889.1L240.5 888.3M245.2 889.6L244.9 891.5M259.7 894.9L260.3 893.8M250.8 890.9L251.3 889.3M255.9 892.9L254.6 895.7M243.2 889.3L243.4 886.9M257.7 893.8L261.2 887.1M249.9 890.7L250.1 890.1M252.0 891.3L251.7 892.2M243.7 889.4L243.5 891.3M258.7 894.4L259.6 892.9M255.9 892.9L257.6 889.4M258.5 894.2L260.8 890.1M247.0 889.9L247.2 889.1M242.8 889.3L242.8 889.9M252.2 891.4L252.5 890.5M257.1 893.5L258.4 890.9M247.4 890.0L247.6 889.3M241.4 889.2L241.4 890.3M273.1 908.2L274.1 907.6M269.5 903.3L266.2 906.1M271.2 905.5L272.5 904.6M275.5 912.7L274.9 912.9M268.4 902.0L270.1 900.4M274.8 911.3L275.6 910.9M275.6 913.1L276.5 912.7M275.5 912.8L278.9 911.2M264.2 898.1L265.6 896.5M274.7 911.1L275.8 910.5M264.0 897.9L266.1 895.3M264.9 898.7L263.6 900.2M264.1 898.1L270.4 890.3M275.3 912.3L271.9 913.9M268.7 902.4L272.8 898.8M268.4 902.0L261.0 908.8M271.7 906.1L273.6 904.8M263.8 897.8L264.4 897.1M274.2 910.1L274.9 909.7M266.6 900.3L268.2 898.6M274.9 911.6L276.6 910.7M272.7 907.6L273.4 907.1M267.8 901.5L268.9 900.5M264.9 898.7L267.1 896.2M271.9 906.5L274.0 905.1M268.1 901.7L269.3 900.6M265.2 898.9L268.2 895.4M274.9 911.6L275.7 911.2M273.5 908.9L276.8 906.9M272.3 906.9L277.9 903.2M272.1 906.7L274.4 905.2M278.7 934.9L280.4 935.1M278.7 923.7L279.3 923.6M279.1 927.6L277.8 927.7M278.6 935.8L280.1 936.0M278.8 924.2L283.4 923.6M277.6 918.6L284.5 916.7M279.1 929.5L280.6 929.5M278.2 920.9L275.5 921.5M279.0 927.0L278.1 927.0M279.1 927.6L280.6 927.5M277.3 917.4L284.0 915.3M278.9 925.3L281.9 924.9M277.5 918.1L278.5 917.8M277.9 919.7L279.6 919.3M278.3 921.5L279.1 921.3M278.0 920.1L274.7 920.8M278.7 934.9L282.8 935.5M277.4 941.0L276.1 940.6M278.3 921.3L279.5 921.1M279.0 932.1L280.2 932.1M279.1 928.3L281.6 928.2M279.1 927.7L280.1 927.7M278.6 923.3L280.0 923.1M278.6 935.6L282.1 936.2M277.3 917.6L283.1 915.9M279.0 932.9L277.0 932.7M277.2 917.2L277.9 917.0M278.5 936.4L277.8 936.3M277.9 919.7L279.4 919.3M278.3 921.4L279.2 921.2M278.7 935.3L271.2 934.2M278.5 936.2L281.9 936.8M277.9 919.7L280.1 919.1M278.9 925.5L280.1 925.3M277.5 918.1L278.1 917.9M279.0 932.0L279.6 932.0M278.6 935.6L275.7 935.1M276.6 943.5L277.6 943.9M275.6 945.9L276.8 946.4M275.6 945.7L277.4 946.5M272.1 952.2L269.2 950.2M276.3 944.2L282.8 946.8M274.6 948.0L276.2 948.8M271.7 952.6L273.2 953.7M270.5 954.3L272.8 956.1M273.7 949.6L276.7 951.4M271.4 953.1L273.1 954.3M275.6 945.7L279.2 947.3M272.9 950.9L274.3 951.8M270.9 953.7L271.4 954.1M275.0 947.1L273.5 946.4M274.8 947.5L275.6 947.9M275.7 945.5L276.5 945.8M275.9 945.1L278.3 946.1M270.2 954.6L271.4 955.6M271.3 953.2L272.6 954.2M275.3 946.6L274.1 946.0M272.0 952.3L276.9 955.7M275.5 946.0L278.2 947.2M271.3 953.3L275.6 956.5M245.3 969.2L246.3 975.3M258.0 964.8L258.7 966.1M247.7 968.7L247.9 969.6M252.0 967.5L252.6 969.3M258.7 964.4L259.1 965.1M246.0 969.0L246.4 971.1M245.9 969.1L245.0 964.4M260.9 963.1L262.2 965.0M255.5 966.1L255.9 967.0M248.8 968.4L249.4 970.7M246.5 969.0L246.7 969.7M260.2 963.6L263.5 968.9M254.5 966.5L254.2 965.8M247.8 968.7L247.2 965.9M258.8 964.4L260.0 966.5M262.4 962.1L263.7 963.9M245.8 969.1L246.1 970.5M266.1 959.1L266.9 960.0M253.2 967.0L252.0 963.8M266.6 958.6L268.2 960.3M266.5 958.7L260.0 951.7M253.5 966.9L254.3 969.0M259.5 964.0L259.1 963.5M249.9 968.1L249.4 966.2M266.4 958.7L267.3 959.6M264.2 960.7L265.0 961.8M246.3 969.0L246.5 970.1M261.0 963.0L261.5 963.9M257.8 965.0L259.8 968.7M247.0 968.9L247.9 973.1M249.2 968.3L249.4 969.3M247.9 968.7L247.2 965.9M246.3 969.0L247.0 972.9M265.9 959.2L266.6 959.9M244.5 969.3L244.2 967.6M247.0 968.9L247.1 969.5M247.4 968.8L247.9 970.9M219.1 964.6L218.4 965.7M216.7 963.1L216.1 964.0M215.4 962.2L213.7 964.5M238.8 969.7L238.8 968.9M215.8 962.5L212.4 967.3M227.9 968.2L227.5 969.7M225.7 967.5L225.2 968.8M237.9 969.7L237.8 971.1M219.0 964.5L218.1 966.3M231.4 969.0L231.3 969.6M233.9 969.4L233.6 972.1M232.5 969.2L232.7 968.1M228.0 968.2L227.8 969.2M227.6 968.1L227.1 970.0M224.1 966.9L223.7 967.9M233.0 969.3L231.8 976.9M232.5 969.2L232.1 971.8M228.1 968.3L229.8 961.9M238.0 969.7L238.0 967.0M228.5 968.4L226.8 974.5M233.2 969.3L233.4 967.6M232.1 969.1L231.5 972.6M218.0 963.9L217.6 964.6M215.8 962.5L215.3 963.1M228.6 968.4L228.1 970.5M215.4 962.2L217.4 959.5M232.3 969.2L232.1 970.3M237.4 969.7L237.4 968.6M237.7 969.7L237.6 970.5M216.2 962.8L214.6 965.1M220.4 965.3L219.8 966.5M235.7 969.6L235.6 971.0M217.2 963.4L219.7 959.6M225.8 967.6L225.6 968.3M228.9 968.5L226.9 976.6M226.3 967.7L225.2 971.0M229.0 968.5L228.9 969.2M217.5 963.6L217.0 964.4M233.5 969.4L233.4 970.0M228.5 968.4L228.3 969.1M229.2 968.5L228.9 970.0M208.8 956.3L206.8 958.0M208.7 956.1L205.8 958.7M204.1 949.8L202.7 950.6M206.7 953.8L211.4 950.2M204.3 950.2L203.7 950.5M213.1 960.4L211.2 962.6M207.7 955.0L206.7 955.7M205.3 951.9L207.0 950.8M204.9 951.2L203.5 952.2M210.4 958.0L209.9 958.6M213.1 960.5L213.6 959.9M209.0 956.5L208.5 957.0M202.3 946.4L200.8 947.2M205.4 951.9L203.9 952.9M202.8 947.6L201.8 948.1M202.5 946.8L199.0 948.5M202.8 947.5L204.1 946.8M203.5 948.8L200.1 950.7M202.8 947.6L201.9 948.1M201.6 944.8L200.2 945.4M201.9 945.6L200.5 946.3M209.1 956.7L205.7 959.8M205.6 952.2L206.2 951.8M211.3 958.9L209.0 961.3M204.1 949.8L203.3 950.3M207.7 955.1L203.6 958.4M204.9 951.2L202.4 952.8M209.2 956.7L208.0 957.8M209.7 957.3L207.6 959.3M206.3 953.2L207.8 952.0M200.4 941.5L199.0 941.9M198.6 927.1L197.8 927.1M198.9 935.2L200.2 935.0M198.8 933.9L191.6 934.7M198.6 926.5L193.7 926.2M198.6 926.3L195.7 926.1M198.7 925.1L199.9 925.3M199.8 939.5L195.8 940.5M200.0 940.4L196.1 941.5M200.5 942.0L198.5 942.7M199.2 937.0L194.8 937.8M199.6 938.9L197.0 939.6M198.9 923.8L197.5 923.6M198.5 929.6L197.8 929.6M198.9 924.0L198.2 924.0M199.7 939.1L201.5 938.6M198.6 926.4L196.1 926.2M199.4 938.0L198.3 938.3M199.7 939.2L198.2 939.5M199.5 938.3L201.3 937.9M198.6 932.1L197.8 932.2M200.5 941.9L198.7 942.4M198.5 929.7L197.4 929.7M200.4 941.7L194.7 943.6M198.5 931.0L206.4 930.7M198.5 929.6L196.8 929.6M198.9 934.7L204.5 934.0M198.6 932.5L193.6 932.9M212.9 898.5L212.4 897.9M199.4 920.8L198.4 920.5M200.1 918.2L198.7 917.8M218.2 894.7L217.7 893.8M206.8 904.9L205.4 903.9M210.0 901.2L208.6 899.8M219.2 894.2L215.0 886.6M204.8 907.8L198.6 903.8M216.2 896.0L215.9 895.5M222.5 892.5L221.5 890.1M204.3 908.6L199.6 905.8M203.9 909.3L202.6 908.6M208.9 902.4L208.2 901.7M199.4 921.0L195.7 920.2M208.7 902.6L206.0 900.2M200.5 916.7L198.7 916.1M200.6 916.5L199.2 916.1M205.8 906.3L205.3 905.9M203.5 909.9L202.8 909.5M212.9 898.5L208.1 892.8M222.3 892.7L220.9 889.7M215.1 896.8L214.6 896.1M214.2 897.5L214.7 898.1M200.6 916.7L195.9 915.1M210.7 900.5L210.2 900.0M202.8 911.3L204.1 912.0M202.7 911.5L198.2 909.2M201.6 913.8L208.2 916.5M220.5 893.5L220.2 892.9M221.7 892.9L221.0 891.4M200.7 916.2L195.4 914.4M213.9 897.7L213.4 897.1M209.8 901.4L212.5 904.1M206.3 905.6L210.4 908.6M199.3 921.2L198.5 921.0M200.7 916.4L197.2 915.2M220.4 893.5L219.0 890.8M203.1 910.7L201.9 910.1M222.1 892.7L221.8 892.2M204.4 908.4L206.2 909.5M208.4 903.0L207.9 902.6M207.6 903.8L206.5 902.9M202.0 913.0L199.6 911.9M200.4 917.2L199.0 916.7M209.3 901.9L207.3 900.0M204.5 908.3L202.7 907.1M201.2 914.8L200.4 914.4M201.6 913.9L197.6 912.2M218.2 894.7L218.6 895.4M221.8 892.9L223.7 896.9M211.4 899.8L210.7 899.1M201.9 913.2L200.5 912.6M204.8 907.7L203.2 906.7M199.9 919.0L197.2 918.3M201.1 915.3L202.1 915.6M208.9 902.3L208.0 901.5M233.3 889.5L233.2 888.6M227.5 890.7L227.7 891.4M226.9 890.9L226.8 890.3M236.7 889.2L236.7 888.5M227.3 890.8L226.2 886.9M230.8 889.9L230.5 888.5M225.5 891.4L225.1 890.4M227.9 890.6L229.6 896.6M225.5 891.3L224.3 887.7M235.9 889.2L235.8 887.5M235.3 889.3L235.1 887.0M233.9 889.4L233.9 888.7M230.3 890.0L230.2 889.4M236.6 889.2L236.4 885.5M234.4 889.3L234.3 888.0M232.6 889.6L232.0 885.9M231.2 889.8L231.1 889.1M234.2 889.4L233.3 882.3" fill="none" stroke="#5e4fa2" stroke-width="0.7" opacity="0.42"/></g>
<text x="239.5" y="761.2" font-size="8.6" fill="#9e0142" opacity="0.85" text-anchor="middle" font-weight="bold" font-family='"Liberation Serif", serif'>91-112-0h</text>
<text x="239.5" y="782.1" font-size="8.6" fill="#d5506a" opacity="0.85" text-anchor="middle" font-weight="bold" font-family='"Liberation Serif", serif'>91-112-24h</text>
<text x="239.5" y="801.6" font-size="8.6" fill="#e8703c" opacity="0.85" text-anchor="middle" font-weight="bold" font-family='"Liberation Serif", serif'>91-112-72h</text>
<text x="239.5" y="820.6" font-size="8.6" fill="#f5a860" opacity="0.85" text-anchor="middle" font-weight="bold" font-family='"Liberation Serif", serif'>91-112-120h</text>
<text x="239.5" y="839.6" font-size="8.6" fill="#a6d8a0" opacity="0.85" text-anchor="middle" font-weight="bold" font-family='"Liberation Serif", serif'>12-85-0h</text>
<text x="239.5" y="861.9" font-size="8.6" fill="#5fbf9f" opacity="0.85" text-anchor="middle" font-weight="bold" font-family='"Liberation Serif", serif'>12-85-24h</text>
<text x="239.5" y="882.6" font-size="8.6" fill="#3b8cc0" opacity="0.85" text-anchor="middle" font-weight="bold" font-family='"Liberation Serif", serif'>12-85-72h</text>
<text x="239.5" y="906.5" font-size="8.6" fill="#4a3f90" opacity="0.85" text-anchor="middle" font-weight="bold" font-family='"Liberation Serif", serif'>12-85-120h</text>
<text transform="translate(315.9 717.4) rotate(17.52)" font-size="30" text-anchor="middle" stroke="#000" stroke-width="0.45" font-family='"Liberation Sans", sans-serif' y="10.7">A01</text>
<text transform="translate(424.8 798.5) rotate(52.58)" font-size="30" text-anchor="middle" stroke="#000" stroke-width="0.45" font-family='"Liberation Sans", sans-serif' y="10.7">A02</text>
<text transform="translate(461.25 925.6) rotate(88.97)" font-size="30" text-anchor="middle" stroke="#000" stroke-width="0.45" font-family='"Liberation Sans", sans-serif' y="10.7">A03</text>
<text transform="translate(431.5 1031.5) rotate(-58.1)" font-size="30" text-anchor="middle" stroke="#000" stroke-width="0.45" font-family='"Liberation Sans", sans-serif' y="10.7">A04</text>
<text transform="translate(342 1122) rotate(-25.55)" font-size="30" text-anchor="middle" stroke="#000" stroke-width="0.45" font-family='"Liberation Sans", sans-serif' y="10.7">A05</text>
<text transform="translate(185.8 1140) rotate(15.45)" font-size="30" text-anchor="middle" stroke="#000" stroke-width="0.45" font-family='"Liberation Sans", sans-serif' y="10.7">A06</text>
<text transform="translate(66.6 1065.9) rotate(53.2)" font-size="30" text-anchor="middle" stroke="#000" stroke-width="0.45" font-family='"Liberation Sans", sans-serif' y="10.7">A07</text>
<text transform="translate(23.6 954.75) rotate(84.85)" font-size="30" text-anchor="middle" stroke="#000" stroke-width="0.45" font-family='"Liberation Sans", sans-serif' y="10.7">A08</text>
<text transform="translate(75.2 774.9) rotate(-51.2)" font-size="30" text-anchor="middle" stroke="#000" stroke-width="0.45" font-family='"Liberation Sans", sans-serif' y="10.7">A09</text>
<text transform="translate(207.5 708.5) rotate(-11.25)" font-size="30" text-anchor="middle" stroke="#000" stroke-width="0.45" font-family='"Liberation Sans", sans-serif' y="10.7">A10</text>
<g><path d="M716 726L716.02 724M719.16 726.05L719.21 724.05M722.32 726.15L722.4 724.15M725.48 726.29L725.58 724.3M728.63 726.49L728.77 724.49M731.78 726.73L731.95 724.74M734.92 727.03L735.12 725.04M738.06 727.37L738.3 725.39M741.2 727.77L741.46 725.78M744.32 728.21L744.62 726.23M747.44 728.7L747.77 726.73M750.56 729.24L750.91 727.27M753.66 729.83L754.05 727.87M756.75 730.47L757.17 728.51M759.84 731.15L760.29 729.21M762.91 731.89L763.39 729.95M765.97 732.67L766.48 730.74M769.02 733.5L769.56 731.58M772.05 734.38L772.62 732.46M775.07 735.31L775.67 733.4M778.08 736.28L778.71 734.38M781.07 737.3L781.73 735.41M784.04 738.37L784.73 736.49M787 739.48L787.72 737.62M789.93 740.64L790.68 738.79M792.85 741.85L793.63 740.01M795.75 743.1L796.56 741.27M798.63 744.4L799.47 742.58M801.49 745.74L802.36 743.94M804.33 747.13L805.22 745.34M807.15 748.56L808.07 746.78M809.94 750.04L810.89 748.28M812.71 751.56L813.68 749.81M815.45 753.12L816.46 751.39M818.17 754.72L819.2 753.01M820.87 756.37L821.93 754.67M823.54 758.06L824.62 756.38M826.18 759.79L827.29 758.13M828.79 761.57L829.93 759.92M836.32 767.02L837.54 765.43M838.82 768.96L840.06 767.38M841.29 770.93L842.55 769.37M843.73 772.94L845.01 771.4M846.14 774.98L847.44 773.47M848.51 777.07L849.84 775.58M850.85 779.19L852.2 777.72M853.16 781.35L854.53 779.9M855.43 783.54L856.83 782.11M857.67 785.77L859.09 784.37M859.87 788.04L861.31 786.65M862.03 790.34L863.5 788.98M864.16 792.67L865.65 791.33M866.26 795.03L867.77 793.72M868.31 797.43L869.84 796.14M870.33 799.86L871.88 798.6M872.31 802.32L873.88 801.08M874.25 804.82L875.84 803.6M876.15 807.34L877.76 806.15M878.01 809.89L879.64 808.73M879.83 812.47L881.48 811.33M881.61 815.08L883.27 813.97M883.35 817.72L885.03 816.63M885.05 820.38L886.74 819.32M886.7 823.07L888.42 822.04M888.32 825.79L890.04 824.78M889.89 828.53L891.63 827.55M891.41 831.3L893.17 830.34M892.9 834.09L894.67 833.16M894.34 836.9L896.12 836M895.73 839.73L897.53 838.86M897.08 842.59L898.9 841.75M898.39 845.47L900.21 844.65M899.64 848.36L901.49 847.58M900.86 851.28L902.71 850.52M904.33 860.43L906.22 859.77M905.35 863.42L907.25 862.79M906.33 866.43L908.24 865.82M907.26 869.45L909.17 868.87M908.14 872.48L910.07 871.94M908.97 875.53L910.91 875.01M909.76 878.59L911.7 878.1M910.5 881.66L912.45 881.21M911.19 884.74L913.14 884.32M911.83 887.83L913.79 887.44M912.42 890.94L914.39 890.58M912.97 894.05L914.94 893.72M913.46 897.17L915.44 896.87M913.91 900.29L915.89 900.03M914.3 903.43L916.29 903.19M914.65 906.57L916.64 906.36M914.95 909.71L916.94 909.54M915.2 912.86L917.19 912.72M915.39 916.01L917.39 915.9M915.54 919.17L917.54 919.09M915.64 922.33L917.64 922.28M915.69 925.49L917.69 925.47M915.69 928.64L917.69 928.66M915.65 931.8L917.64 931.85M915.55 934.96L917.54 935.04M915.4 938.12L917.4 938.22M915.2 941.27L917.2 941.41M914.95 944.42L916.95 944.59M914.66 947.56L916.65 947.77M914.31 950.7L916.3 950.94M913.91 953.84L915.9 954.1M913.47 956.96L915.45 957.26M912.98 960.08L914.95 960.41M912.43 963.2L914.4 963.55M911.84 966.3L913.8 966.69M911.2 969.39L913.16 969.81M910.51 972.47L912.46 972.93M909.78 975.55L911.72 976.03M908.99 978.61L910.93 979.12M908.16 981.65L910.08 982.2M907.28 984.69L909.19 985.26M906.35 987.71L908.26 988.31M903.15 997.03L905.02 997.73M902.03 999.99L903.89 1000.71M900.86 1002.92L902.71 1003.68M899.64 1005.84L901.49 1006.62M898.39 1008.73L900.21 1009.55M897.08 1011.61L898.9 1012.45M895.73 1014.47L897.53 1015.34M894.34 1017.3L896.12 1018.2M892.9 1020.11L894.67 1021.04M891.41 1022.9L893.17 1023.86M889.89 1025.67L891.63 1026.65M888.32 1028.41L890.04 1029.42M886.7 1031.13L888.42 1032.16M885.05 1033.82L886.74 1034.88M883.35 1036.48L885.03 1037.57M881.61 1039.12L883.27 1040.23M879.83 1041.73L881.48 1042.87M878.01 1044.31L879.64 1045.47M876.15 1046.86L877.76 1048.05M874.25 1049.38L875.84 1050.6M872.31 1051.88L873.88 1053.12M870.33 1054.34L871.88 1055.6M868.31 1056.77L869.84 1058.06M866.26 1059.17L867.77 1060.48M864.16 1061.53L865.65 1062.87M862.03 1063.86L863.5 1065.22M859.87 1066.16L861.31 1067.55M853.54 1072.49L854.92 1073.93M851.24 1074.65L852.59 1076.12M848.9 1076.78L850.24 1078.27M846.53 1078.87L847.85 1080.38M844.13 1080.93L845.42 1082.46M841.7 1082.94L842.97 1084.49M839.24 1084.92L840.48 1086.49M836.74 1086.86L837.96 1088.45M834.22 1088.76L835.41 1090.36M831.66 1090.61L832.83 1092.24M829.08 1092.43L830.22 1094.08M826.47 1094.21L827.58 1095.87M823.83 1095.95L824.92 1097.63M821.17 1097.64L822.23 1099.34M818.47 1099.3L819.51 1101.01M815.76 1100.91L816.76 1102.63M813.01 1102.47L813.99 1104.22M810.25 1104L811.2 1105.76M807.46 1105.48L808.38 1107.25M804.64 1106.91L805.54 1108.7M801.81 1108.31L802.68 1110.11M798.95 1109.65L799.79 1111.47M796.07 1110.96L796.88 1112.78M793.18 1112.21L793.96 1114.05M790.26 1113.42L791.01 1115.28M787.32 1114.59L788.05 1116.45M784.37 1115.71L785.06 1117.59M781.4 1116.78L782.06 1118.67M778.41 1117.81L779.04 1119.7M775.41 1118.79L776.01 1120.69M772.39 1119.72L772.96 1121.63M769.36 1120.6L769.9 1122.53M766.31 1121.44L766.82 1123.37M763.25 1122.23L763.73 1124.17M760.18 1122.97L760.63 1124.91M757.1 1123.66L757.52 1125.61M754 1124.3L754.4 1126.26M750.9 1124.9L751.26 1126.86M747.79 1125.44L748.12 1127.41M744.67 1125.94L744.97 1127.92M741.54 1126.39L741.81 1128.37M731.43 1127.49L731.59 1129.49M728.28 1127.73L728.41 1129.73M725.12 1127.92L725.23 1129.92M721.97 1128.06L722.04 1130.06M718.81 1128.16L718.85 1130.16M715.65 1128.2L715.66 1130.2M712.49 1128.19L712.47 1130.19M709.34 1128.13L709.28 1130.13M706.18 1128.02L706.1 1130.02M703.02 1127.87L702.91 1129.86M699.87 1127.66L699.73 1129.65M696.72 1127.4L696.55 1129.4M693.58 1127.1L693.37 1129.09M690.44 1126.74L690.2 1128.73M687.31 1126.34L687.04 1128.32M684.18 1125.89L683.88 1127.86M681.06 1125.38L680.73 1127.36M677.95 1124.83L677.59 1126.8M674.85 1124.23L674.46 1126.19M671.76 1123.58L671.33 1125.54M668.68 1122.89L668.22 1124.83M665.61 1122.14L665.12 1124.08M662.55 1121.35L662.03 1123.28M659.51 1120.51L658.96 1122.43M656.48 1119.62L655.9 1121.53M653.46 1118.68L652.85 1120.59M650.46 1117.7L649.82 1119.59M647.47 1116.67L646.8 1118.55M644.5 1115.59L643.81 1117.46M641.55 1114.46L640.82 1116.33M638.62 1113.29L637.86 1115.14M635.7 1112.08L634.92 1113.92M632.81 1110.81L631.99 1112.64M629.93 1109.51L629.09 1111.32M627.08 1108.15L626.2 1109.95M624.24 1106.76L623.34 1108.54M621.43 1105.32L620.5 1107.09M618.64 1103.83L617.69 1105.59M615.88 1102.3L614.9 1104.04M613.14 1100.73L612.13 1102.46M610.42 1099.11L609.39 1100.82M607.74 1097.46L606.67 1099.15M605.07 1095.76L603.98 1097.43M602.44 1094.02L601.32 1095.68M599.83 1092.23L598.69 1093.88M597.25 1090.41L596.08 1092.03M589.69 1084.7L588.44 1086.27M587.23 1082.72L585.96 1084.27M584.8 1080.7L583.51 1082.23M582.4 1078.64L581.09 1080.15M580.04 1076.55L578.7 1078.03M577.71 1074.41L576.35 1075.88M575.41 1072.25L574.03 1073.69M573.15 1070.04L571.74 1071.46M570.92 1067.8L569.49 1069.2M568.73 1065.53L567.28 1066.9M566.57 1063.22L565.1 1064.57M564.45 1060.88L562.96 1062.21M562.37 1058.5L560.85 1059.81M560.32 1056.1L558.79 1057.38M558.32 1053.66L556.76 1054.91M556.35 1051.19L554.77 1052.42M554.42 1048.68L552.82 1049.89M552.53 1046.15L550.92 1047.34M550.68 1043.59L549.05 1044.75M548.87 1041L547.22 1042.14M547.1 1038.39L545.43 1039.49M545.37 1035.74L543.69 1036.82M543.69 1033.07L541.99 1034.12M542.04 1030.37L540.33 1031.4M540.44 1027.65L538.71 1028.65M538.88 1024.9L537.14 1025.87M537.37 1022.13L535.61 1023.08M535.9 1019.33L534.12 1020.25M534.47 1016.52L532.68 1017.41M533.09 1013.68L531.28 1014.54M531.75 1010.81L529.93 1011.65M530.46 1007.93L528.63 1008.74M529.21 1005.03L527.37 1005.8M528.01 1002.11L526.16 1002.85M524.23 991.91L522.34 992.55M523.23 988.91L521.33 989.52M522.29 985.9L520.37 986.48M521.39 982.87L519.47 983.42M520.54 979.83L518.61 980.35M519.73 976.77L517.79 977.27M518.97 973.7L517.03 974.17M518.27 970.63L516.31 971.06M517.61 967.54L515.65 967.94M517 964.44L515.03 964.81M516.43 961.33L514.46 961.67M515.92 958.21L513.95 958.52M515.46 955.09L513.48 955.37M515.04 951.96L513.06 952.2M514.68 948.82L512.69 949.03M514.36 945.68L512.37 945.86M514.09 942.53L512.1 942.68M513.88 939.38L511.88 939.5M513.71 936.22L511.71 936.31M513.59 933.07L511.59 933.13M513.52 929.91L511.52 929.94M513.5 926.75L511.5 926.75M513.53 923.59L511.53 923.56M513.61 920.43L511.61 920.37M513.74 917.28L511.74 917.18M513.92 914.12L511.92 913.99M514.15 910.97L512.15 910.81M514.43 907.83L512.44 907.63M514.75 904.68L512.77 904.46M515.13 901.55L513.15 901.29M515.56 898.42L513.58 898.13M517.33 888.04L515.37 887.65M517.97 884.95L516.01 884.53M518.65 881.86L516.71 881.41M519.39 878.79L517.45 878.31M520.17 875.73L518.24 875.22M521 872.68L519.08 872.14M521.88 869.65L519.96 869.08M522.81 866.63L520.9 866.03M523.78 863.62L521.88 862.99M524.8 860.63L522.91 859.97M525.87 857.66L523.99 856.97M526.98 854.7L525.12 853.98M528.14 851.77L526.29 851.02M529.35 848.85L527.51 848.07M530.6 845.95L528.77 845.14M531.9 843.07L530.08 842.23M533.24 840.21L531.44 839.34M534.63 837.37L532.84 836.48M536.06 834.55L534.28 833.63M537.54 831.76L535.78 830.81M539.06 828.99L537.31 828.02M540.62 826.25L538.89 825.24M542.22 823.53L540.51 822.5M543.87 820.83L542.17 819.77M545.56 818.16L543.88 817.08M547.29 815.52L545.63 814.41M549.07 812.91L547.42 811.77M550.88 810.32L549.25 809.16M552.74 807.76L551.13 806.58M554.63 805.24L553.04 804.02M556.56 802.74L554.99 801.5M558.54 800.27L556.98 799.01M560.55 797.84L559.02 796.55M562.6 795.43L561.09 794.12M564.68 793.06L563.19 791.73M566.81 790.72L565.34 789.37M568.97 788.42L567.52 787.04M571.17 786.15L569.74 784.75M573.4 783.91L571.99 782.49M575.66 781.71L574.28 780.27M577.96 779.55L576.61 778.08M580.3 777.42L578.96 775.93M582.67 775.33L581.35 773.82M585.07 773.27L583.78 771.74M587.5 771.26L586.23 769.71M589.96 769.28L588.72 767.71M592.46 767.34L591.24 765.75M594.98 765.44L593.79 763.84M597.54 763.59L596.37 761.96M600.12 761.77L598.98 760.12M602.73 759.99L601.62 758.33M605.37 758.25L604.28 756.57M608.03 756.56L606.97 754.86M610.73 754.9L609.69 753.19M613.44 753.29L612.44 751.57M616.19 751.73L615.21 749.98M618.95 750.2L618 748.44M621.74 748.72L620.82 746.95M624.56 747.29L623.66 745.5M627.39 745.89L626.52 744.09M630.25 744.55L629.41 742.73M633.13 743.24L632.32 741.42M644.83 738.49L644.14 736.61M647.8 737.42L647.14 735.53M650.79 736.39L650.16 734.5M653.79 735.41L653.19 733.51M656.81 734.48L656.24 732.57M659.84 733.6L659.3 731.67M662.89 732.76L662.38 730.83M665.95 731.97L665.47 730.03M669.02 731.23L668.57 729.29M672.1 730.54L671.68 728.59M675.2 729.9L674.8 727.94M678.3 729.3L677.94 727.34M681.41 728.76L681.08 726.79M684.53 728.26L684.23 726.28M687.66 727.81L687.39 725.83M690.79 727.41L690.55 725.43M693.93 727.07L693.72 725.08M697.07 726.77L696.9 724.77M700.22 726.51L700.08 724.52M703.37 726.31L703.26 724.32M706.53 726.16L706.45 724.16" stroke="#888" stroke-width="0.6" fill="none"/><path d="M715.69 719.1h0M739.23 720.56h0M762.45 724.68h0M785.06 731.4h0M806.76 740.63h0M827.28 752.26h0M840.21 761.31h0M858.17 776.6h0M874.29 793.82h0M888.35 812.75h0M900.18 833.16h0M910.72 857.81h0M917.3 880.45h0M921.28 903.7h0M922.6 927.25h0M921.25 950.79h0M917.24 974.03h0M909.74 999.09h0M900.34 1020.72h0M888.55 1041.14h0M874.52 1060.1h0M858.57 1077.23h0M840.65 1092.56h0M821.1 1105.76h0M800.19 1116.67h0M778.18 1125.14h0M755.36 1131.07h0M732.37 1134.34h0M708.79 1135.02h0M685.29 1133.02h0M662.17 1128.38h0M639.72 1121.15h0M618.23 1111.43h0M597.99 1099.34h0M585.69 1090.33h0M568.04 1074.69h0M552.27 1057.15h0M538.59 1037.94h0M527.18 1017.3h0M517.81 994.47h0M511.45 971.76h0M507.7 948.48h0M506.61 924.92h0M508.19 901.39h0M510.49 887.06h0M516.34 864.21h0M524.73 842.17h0M535.57 821.22h0M548.7 801.63h0M563.97 783.66h0M581.18 767.53h0M600.1 753.45h0M620.49 741.61h0M642.1 732.15h0M664.63 725.19h0M687.81 720.83h0" stroke="#999" stroke-width="2.0" stroke-linecap="round" opacity="0.55" fill="none"/><path d="M714.6 727.6 A199.5 199.5 0 0 1 829.17 763.78" fill="none" stroke="#9e0142" stroke-width="4.0"/><path d="M834.24 767.46 A199.5 199.5 0 0 1 899.96 853.34" fill="none" stroke="#d53e4f" stroke-width="4.0"/><path d="M902.35 859.65 A199.5 199.5 0 0 1 904.66 987.75" fill="none" stroke="#f46d43" stroke-width="4.0"/><path d="M902.13 995.17 A199.5 199.5 0 0 1 858.47 1065.31" fill="none" stroke="#fdae61" stroke-width="4.0"/><path d="M853.43 1070.37 A199.5 199.5 0 0 1 738.91 1125.11" fill="none" stroke="#fee08b" stroke-width="4.0"/><path d="M732.68 1125.78 A199.5 199.5 0 0 1 597.06 1088.29" fill="none" stroke="#e6f598" stroke-width="4.0"/><path d="M591.78 1084.31 A199.5 199.5 0 0 1 529.11 1000.54" fill="none" stroke="#abdda4" stroke-width="4.0"/><path d="M526.2 992.71 A199.5 199.5 0 0 1 517.5 896.24" fill="none" stroke="#66c2a5" stroke-width="4.0"/><path d="M518.63 889.72 A199.5 199.5 0 0 1 636.01 743.73" fill="none" stroke="#3288bd" stroke-width="4.0"/><path d="M644.08 740.48 A199.5 199.5 0 0 1 708.33 727.7" fill="none" stroke="#5e4fa2" stroke-width="4.0"/><path d="M715.53 749.1 A178 178 0 0 1 816.06 780.85M822.09 785.22 A178 178 0 0 1 879.64 860.42M882.43 867.8 A178 178 0 0 1 884.45 980.33M881.6 988.71 A178 178 0 0 1 843.61 1049.74M837.8 1055.57 A178 178 0 0 1 737.22 1103.66M729.8 1104.45 A178 178 0 0 1 610.48 1071.47M604.28 1066.79 A178 178 0 0 1 549.45 993.49M546.2 984.76 A178 178 0 0 1 538.6 900.48M539.93 892.83 A178 178 0 0 1 643.62 763.86M652.55 760.26 A178 178 0 0 1 708.08 749.22" fill="none" stroke="#c0306a" stroke-width="1.0" stroke-dasharray="0.8 1.8" opacity="0.48"/><path d="M811.7 777.9L808.6 782.6M800.8 771.3L802.1 768.8M778.8 761.1L779.6 759.0M761.2 755.3L761.5 753.9M811.1 777.5L812.1 775.9M720.0 749.2L720.0 748.5M756.0 754.0L757.0 749.7M741.0 751.1L741.1 750.4M769.2 757.7L772.3 748.2M806.1 774.4L807.8 771.6M794.0 767.8L795.4 764.9M812.2 778.2L812.7 777.5M764.3 756.2L764.8 754.4M768.3 757.4L769.4 753.9M806.6 774.7L807.5 773.3M790.2 766.0L791.0 764.4M787.9 764.9L788.3 764.1M807.7 775.4L808.3 774.3M768.6 757.5L769.2 755.7M748.9 752.4L749.1 751.5M780.5 761.7L780.8 761.1M807.4 775.2L806.9 776.0M783.4 762.9L783.8 761.9M727.4 749.6L727.5 747.7M738.3 750.7L738.9 746.5M719.5 749.2L719.6 747.8M724.9 749.4L724.3 759.4M743.1 751.4L743.6 748.0M787.1 764.5L790.5 756.9M720.0 749.2L720.0 747.9M728.1 749.6L728.6 743.5M791.8 766.7L793.8 762.6M788.5 765.1L789.2 763.6M749.4 752.5L749.5 751.8M729.6 749.7L729.8 747.6M833.1 794.3L837.1 789.7M851.2 813.0L851.7 812.6M826.8 788.9L826.4 789.4M863.4 829.3L864.9 828.4M879.2 859.4L880.2 859.0M861.0 825.9L862.9 824.6M840.8 801.6L839.7 802.7M825.2 787.7L826.2 786.5M839.8 800.5L840.3 800.0M838.2 799.0L839.5 797.7M863.7 829.9L864.5 829.3M868.0 836.9L869.4 836.1M826.4 788.6L827.4 787.4M829.5 791.2L831.7 788.6M876.5 853.0L878.5 852.1M848.3 809.6L848.8 809.2M844.1 804.9L841.4 807.5M853.1 815.3L854.3 814.4M860.9 825.7L861.5 825.3M877.0 854.2L877.7 853.9M860.0 824.4L861.1 823.5M849.7 811.2L849.1 811.7M873.5 846.9L875.6 845.9M824.4 787.0L825.9 785.1M855.8 818.8L856.9 817.9M841.6 802.4L843.0 801.1M871.5 843.1L876.1 840.7M839.1 799.9L840.4 798.7M865.6 832.9L869.7 830.3M829.7 791.3L830.5 790.3M851.0 812.8L851.6 812.3M885.0 978.5L887.3 979.2M889.4 893.7L891.9 893.2M892.6 926.6L893.4 926.6M890.7 952.8L891.5 952.9M890.0 896.6L894.3 895.8M892.0 913.1L901.7 912.3M887.3 884.1L894.1 882.4M888.3 888.0L890.0 887.6M891.4 947.7L896.7 948.3M885.9 975.6L887.1 976.0M890.6 953.4L894.4 954.0M892.0 912.9L894.5 912.7M883.1 869.6L884.6 869.1M892.1 940.9L902.0 941.7M892.4 936.0L897.0 936.2M889.6 959.5L892.7 960.0M892.5 933.7L893.4 933.7M892.3 936.6L893.9 936.7M892.5 920.2L891.5 920.2M882.8 868.7L884.4 868.1M890.8 952.7L892.5 952.9M890.1 897.6L895.2 896.8M888.1 887.3L891.0 886.6M891.8 943.7L895.0 944.0M887.8 886.1L889.2 885.7M883.0 869.5L884.9 868.9M892.6 928.2L894.0 928.2M890.9 902.3L893.2 902.0M887.2 970.4L888.0 970.6M892.1 940.5L895.4 940.7M889.1 962.3L889.8 962.4M892.6 927.4L896.4 927.4M890.9 902.2L891.9 902.1M890.3 898.8L896.2 897.9M891.8 910.2L890.4 910.4M892.4 919.1L893.3 919.0M887.8 968.2L892.6 969.4M847.4 1045.6L848.4 1046.4M876.2 1001.7L878.5 1002.8M853.6 1038.3L854.4 1038.9M869.3 1015.1L872.4 1016.8M847.6 1045.4L848.9 1046.6M855.9 1035.3L858.3 1037.1M855.4 1036.0L861.1 1040.4M859.0 1031.2L860.1 1032.0M846.1 1047.1L847.1 1048.0M876.3 1001.5L870.7 999.0M871.1 1012.0L872.2 1012.6M855.1 1036.4L856.3 1037.4M851.9 1040.4L853.0 1041.3M877.3 999.2L876.2 998.7M877.6 998.7L878.5 999.1M874.3 1005.6L875.5 1006.2M861.4 1027.7L862.5 1028.5M879.8 993.4L880.6 993.7M854.3 1037.4L855.0 1037.9M871.5 1011.2L874.2 1012.6M844.2 1049.2L845.2 1050.1M872.2 1009.9L875.5 1011.6M864.2 1023.5L870.7 1027.7M795.9 1085.4L795.2 1084.1M828.3 1064.1L834.5 1071.5M772.7 1095.3L774.3 1099.9M760.1 1099.2L760.2 1099.8M822.6 1068.6L822.1 1067.9M741.0 1103.1L742.3 1112.0M793.2 1086.8L794.1 1088.6M832.4 1060.6L833.0 1061.3M789.0 1088.8L790.1 1091.1M792.2 1087.3L792.5 1088.1M819.1 1071.2L819.5 1071.7M778.7 1093.1L780.2 1096.8M790.7 1088.0L792.7 1092.4M757.9 1099.8L758.4 1102.0M811.2 1076.6L812.0 1077.9M760.1 1099.2L761.0 1102.5M812.4 1075.8L814.1 1078.4M770.3 1096.2L769.4 1093.7M786.1 1090.1L786.5 1091.0M776.4 1094.0L777.2 1096.2M793.9 1086.5L794.2 1087.1M756.0 1100.2L757.3 1106.0M777.4 1093.7L778.0 1095.5M740.3 1103.2L740.9 1107.7M819.4 1071.0L821.5 1073.9M748.6 1101.8L749.0 1103.8M768.4 1096.8L768.9 1098.3M770.3 1096.1L770.7 1097.2M807.8 1078.8L808.8 1080.4M746.3 1102.3L746.5 1103.2M761.3 1098.9L761.7 1100.4M794.1 1086.4L794.6 1087.4M820.9 1069.9L821.9 1071.2M822.8 1068.4L824.2 1070.1M779.5 1092.9L780.4 1095.1M810.2 1077.2L810.7 1078.1M836.3 1057.0L839.1 1059.9M689.4 1103.3L689.2 1104.4M674.4 1100.5L674.7 1099.0M657.6 1095.7L657.4 1096.5M682.3 1102.2L682.2 1102.9M649.9 1092.9L649.3 1094.6M710.3 1105.0L710.2 1106.3M703.8 1104.8L703.6 1107.4M643.3 1090.2L642.6 1091.9M721.5 1105.0L721.5 1107.4M680.4 1101.8L680.1 1103.3M670.2 1099.5L669.9 1100.9M663.3 1097.5L662.3 1100.9M646.5 1091.6L646.3 1092.2M665.4 1098.2L665.2 1098.9M634.3 1085.9L633.3 1087.8M701.5 1104.6L701.5 1105.3M711.5 1105.1L711.4 1106.3M649.8 1092.9L647.8 1098.0M718.4 1105.1L718.4 1107.5M690.4 1103.4L690.1 1105.9M684.9 1102.6L684.7 1103.9M715.8 1105.1L715.8 1108.3M651.0 1093.4L649.8 1096.5M614.3 1074.2L614.0 1074.7M728.2 1104.6L728.3 1107.1M625.5 1081.2L625.1 1081.8M675.0 1100.6L674.7 1102.1M723.6 1104.9L723.7 1107.0M646.7 1091.6L647.1 1090.5M698.3 1104.4L698.1 1107.6M620.4 1078.2L620.9 1077.5M700.0 1104.5L699.5 1110.1M694.1 1103.9L693.8 1106.3M663.8 1097.7L663.4 1099.1M676.1 1100.9L675.7 1102.5M658.6 1096.1L658.0 1097.8M616.0 1075.3L614.2 1078.1M655.9 1095.1L656.2 1094.4M643.0 1090.1L640.2 1096.5M697.9 1104.3L697.7 1105.9M695.5 1104.1L695.4 1105.1M556.5 1008.9L550.8 1011.9M550.6 996.4L548.8 997.1M587.1 1051.3L585.1 1053.2M574.2 1036.5L572.3 1038.0M574.2 1036.6L569.7 1040.1M571.8 1033.3L568.2 1036.0M551.1 997.5L550.4 997.9M574.6 1037.0L569.7 1040.9M566.0 1025.0L563.4 1026.7M557.5 1010.8L556.3 1011.4M564.3 1022.5L563.1 1023.3M557.1 1010.0L555.7 1010.7M577.4 1040.6L575.6 1042.1M563.3 1020.9L565.4 1019.6M574.6 1037.0L574.0 1037.5M566.5 1025.9L564.2 1027.5M582.2 1046.0L581.6 1046.5M552.6 1000.9L554.1 1000.2M601.6 1064.7L602.7 1063.3M581.9 1045.8L580.6 1046.9M554.3 1004.5L552.2 1005.5M566.2 1025.3L565.4 1025.8M568.4 1028.7L566.1 1030.3M571.9 1033.5L570.2 1034.7M550.3 995.7L549.5 996.0M560.9 1016.8L560.0 1017.4M554.8 1005.5L552.9 1006.4M577.4 1040.5L576.1 1041.6M590.2 1054.4L588.4 1056.3M566.0 1025.1L563.3 1026.9M536.6 925.9L536.0 925.9M541.4 968.2L540.5 968.5M545.7 983.3L541.8 984.7M537.5 945.4L536.7 945.5M536.9 917.4L532.7 917.2M544.4 979.1L545.2 978.9M536.9 917.2L535.0 917.1M545.3 982.0L541.1 983.3M542.9 974.1L540.9 974.6M545.0 981.0L543.7 981.4M540.8 965.7L538.6 966.1M536.6 930.9L532.8 931.0M545.2 981.9L544.5 982.1M537.3 942.7L532.4 943.1M536.7 933.5L535.4 933.5M541.4 968.3L536.5 969.5M536.6 924.6L532.7 924.6M536.6 923.1L529.3 922.9M539.7 960.2L539.0 960.3M543.1 974.9L539.8 975.9M537.1 914.0L536.2 913.9M537.3 911.2L535.4 911.0M536.9 937.1L533.7 937.2M543.7 976.9L542.8 977.2M536.6 929.9L533.0 930.0M536.6 930.2L535.3 930.2M536.6 929.9L535.9 929.9M538.0 949.7L535.0 950.1M580.3 810.3L576.8 807.3M602.4 788.9L601.8 788.2M601.0 790.1L599.8 788.6M552.5 853.6L551.0 853.0M552.1 854.5L550.9 854.0M605.9 786.1L605.2 785.2M551.7 855.4L550.9 855.0M617.6 777.8L617.1 777.1M557.2 844.0L551.7 841.1M618.1 777.5L614.2 771.5M558.3 842.0L557.5 841.6M553.8 850.7L552.9 850.2M557.9 842.7L556.5 842.0M608.6 784.1L604.0 777.8M556.7 844.9L554.9 843.9M558.9 840.8L552.4 837.2M571.7 821.0L571.1 820.5M572.8 819.6L570.9 818.2M615.3 779.3L613.8 777.0M638.7 766.1L636.8 762.2M547.6 865.5L546.9 865.3M577.5 813.5L575.3 811.7M611.4 782.0L611.1 781.5M581.0 809.5L580.1 808.7M612.1 781.6L609.5 778.0M616.7 778.4L615.7 776.9M554.2 849.9L553.6 849.6M629.3 770.9L629.0 770.3M559.1 840.5L558.1 839.9M572.5 820.0L568.1 816.7M570.1 823.1L572.2 824.6M558.8 840.9L557.5 840.2M597.3 793.2L596.8 792.6M594.2 796.0L593.6 795.3M617.9 777.7L621.4 783.1M562.7 834.3L556.8 830.6M573.4 818.8L569.1 815.5M586.0 804.0L582.7 800.9M620.0 776.3L621.7 778.9M541.1 887.4L534.8 886.0M627.6 771.8L627.2 771.1M594.2 796.0L593.2 794.8M628.3 771.4L629.6 773.8M555.3 847.6L554.4 847.2M595.6 794.7L593.9 792.8M540.1 892.1L534.3 891.0M555.7 846.9L553.4 845.7M545.8 870.5L542.8 869.4M575.0 816.6L574.3 816.1M543.5 878.2L540.1 877.2M556.5 845.3L553.7 843.9M541.6 885.1L540.4 884.8M594.3 795.9L592.8 794.3M590.1 799.9L583.1 792.8M544.2 875.8L542.3 875.2M590.1 799.9L589.5 799.2M678.8 752.7L678.6 751.9M688.2 751.1L688.0 749.5M669.5 754.9L669.3 754.1M670.4 754.7L670.6 755.3M659.2 757.9L658.8 756.8M694.1 750.3L694.2 751.3M659.0 758.0L658.8 757.2M686.8 751.3L685.9 745.7M662.2 757.0L660.9 752.5M657.4 758.6L656.5 756.0M667.3 755.5L666.5 752.5M669.1 755.0L668.4 752.2M654.7 759.5L654.5 758.9M706.6 749.3L706.5 747.6M698.7 749.8L698.1 743.3M656.9 758.7L655.5 754.5M700.0 749.7L699.9 748.8M698.8 749.8L698.5 746.0" fill="none" stroke="#c0306a" stroke-width="0.7" opacity="0.51"/><path d="M715.43 769.1 A158 158 0 0 1 804.66 797.28M810.02 801.16 A158 158 0 0 1 861.1 867.91M863.57 874.46 A158 158 0 0 1 865.37 974.35M862.83 981.79 A158 158 0 0 1 829.11 1035.96M823.96 1041.14 A158 158 0 0 1 734.68 1083.82M728.1 1084.52 A158 158 0 0 1 622.18 1055.25M616.67 1051.09 A158 158 0 0 1 568 986.03M565.12 978.28 A158 158 0 0 1 558.38 903.47M559.56 896.68 A158 158 0 0 1 651.6 782.2M659.53 779.01 A158 158 0 0 1 708.81 769.21" fill="none" stroke="#dd5a80" stroke-width="1.0" stroke-dasharray="0.8 1.8" opacity="0.4"/><path d="M773.0 780.3L774.6 776.5M737.0 770.7L737.5 766.8M775.9 781.5L776.4 780.3M755.8 774.6L756.6 771.9M794.3 790.7L796.0 787.7M793.4 790.1L793.7 789.5M753.4 773.9L753.6 773.2M795.1 791.1L799.1 784.3M790.3 788.4L790.7 787.6M784.1 785.2L784.6 784.2M756.1 774.6L756.9 771.9M774.6 780.9L774.9 780.3M797.4 792.5L797.9 791.6M762.0 776.4L762.4 775.1M766.8 778.0L768.1 774.4M716.4 769.1L716.4 768.1M799.4 793.8L799.9 792.9M761.4 776.2L759.6 781.9M753.9 774.1L754.3 772.2M789.8 788.2L790.2 787.5M732.0 770.1L732.1 769.1M766.2 777.8L766.5 777.0M786.7 786.5L787.7 784.6M752.8 773.8L754.5 767.1M722.3 769.3L722.3 768.2M780.0 783.3L780.3 782.6M770.6 779.4L771.0 778.5M760.9 776.0L761.5 774.0M754.6 774.3L755.0 773.0M740.5 771.2L741.1 767.9M777.9 782.4L778.6 780.8M716.3 769.1L716.4 765.3M797.9 792.9L798.7 791.6M794.1 790.5L794.7 789.5M739.7 771.1L739.8 770.5M824.2 813.3L828.1 809.3M832.3 821.6L835.9 818.4M848.5 843.2L849.5 842.5M826.6 815.7L827.9 814.4M827.1 816.1L828.5 814.7M842.9 834.8L844.1 833.9M860.7 867.0L862.4 866.3M852.4 849.7L854.6 848.5M837.6 827.9L840.5 825.5M854.3 853.2L854.8 852.9M846.5 840.0L850.1 837.7M811.1 802.0L808.8 804.8M854.2 853.2L860.1 850.1M834.6 824.4L835.5 823.7M827.3 816.4L828.3 815.4M856.3 857.2L860.2 855.2M843.6 835.8L846.0 834.1M844.4 837.0L844.9 836.6M818.2 807.8L819.0 806.8M859.7 864.7L862.0 863.7M815.1 805.2L816.1 803.9M854.4 853.4L855.7 852.7M858.0 860.8L859.4 860.2M840.0 831.0L840.9 830.3M860.4 866.1L861.6 865.6M829.1 818.2L829.8 817.5M813.8 804.1L814.3 803.5M831.6 820.9L834.1 818.6M859.0 862.9L859.7 862.6M831.3 820.6L833.5 818.6M829.3 818.4L830.5 817.2M870.7 951.7L872.0 951.9M864.7 877.7L866.1 877.2M868.7 962.1L870.8 962.6M867.6 887.8L868.7 887.5M871.8 942.7L872.5 942.7M871.8 942.5L873.7 942.7M872.5 932.6L874.1 932.7M871.9 942.0L875.0 942.3M869.9 897.9L876.9 896.6M867.9 965.2L869.6 965.6M864.1 876.1L866.0 875.5M872.4 934.2L875.4 934.3M872.5 932.5L874.8 932.6M872.5 920.8L882.0 920.4M868.8 892.6L871.2 892.0M866.2 882.5L865.5 882.7M871.7 944.0L872.7 944.1M871.6 944.8L875.1 945.2M867.7 888.2L869.7 887.7M869.5 895.9L872.0 895.4M868.8 892.4L871.7 891.8M869.7 957.5L870.3 957.6M870.0 898.7L873.6 898.0M872.3 917.6L871.5 917.7M872.6 924.3L874.9 924.3M871.4 907.4L877.5 906.6M872.6 927.3L870.0 927.3M872.1 915.0L873.9 914.9M871.1 948.7L871.9 948.9M870.4 953.1L872.9 953.5M872.0 913.6L875.7 913.3M872.5 933.7L875.4 933.8M870.5 953.0L872.0 953.3M872.6 927.3L873.5 927.3M869.4 895.4L870.1 895.3M869.9 956.1L870.8 956.3M864.5 877.2L866.0 876.8M855.0 999.6L855.8 1000.0M841.5 1021.2L837.7 1018.4M840.5 1022.6L842.9 1024.4M861.8 984.6L864.3 985.6M830.0 1035.0L830.8 1035.7M847.6 1012.4L848.8 1013.2M861.9 984.2L865.2 985.5M849.4 1009.5L851.2 1010.6M852.5 1004.2L854.5 1005.3M837.9 1025.8L842.8 1029.7M858.9 991.3L860.5 992.0M850.8 1007.2L852.2 1008.0M855.1 999.4L859.5 1001.7M861.1 986.2L861.7 986.5M859.8 989.3L860.5 989.6M832.9 1031.9L833.9 1032.8M843.3 1018.8L844.0 1019.3M861.2 986.0L859.3 985.3M834.6 1029.9L833.7 1029.1M853.5 1002.4L854.2 1002.8M858.6 992.1L862.5 993.8M856.7 996.3L859.2 997.5M858.1 993.1L853.0 990.8M742.9 1082.5L743.1 1083.7M818.2 1046.4L819.4 1047.8M769.8 1075.1L770.3 1076.4M812.7 1051.0L814.0 1052.6M811.6 1051.8L812.3 1052.7M821.8 1043.1L822.9 1044.2M814.4 1049.6L815.5 1051.0M739.6 1083.1L739.7 1084.2M801.7 1058.9L802.1 1059.6M751.2 1080.8L751.6 1082.4M741.7 1082.8L742.0 1084.7M749.6 1081.2L750.3 1084.6M821.2 1043.7L825.1 1047.9M822.3 1042.7L824.7 1045.3M738.6 1083.3L739.0 1086.3M780.5 1070.7L781.8 1073.5M754.3 1080.0L754.5 1080.9M806.8 1055.4L809.4 1058.9M812.2 1051.4L812.6 1051.9M745.8 1082.0L746.2 1084.0M782.7 1069.7L783.8 1072.1M766.8 1076.2L766.3 1075.0M791.2 1065.3L792.2 1067.2M757.6 1079.1L758.1 1080.7M740.2 1083.0L740.4 1084.3M800.5 1059.7L802.2 1062.5M778.6 1071.6L779.4 1073.4M735.5 1083.7L735.7 1085.5M778.2 1071.7L778.7 1072.8M766.0 1076.5L766.4 1077.6M818.8 1045.9L820.3 1047.6M785.8 1068.2L786.2 1068.9M764.5 1077.0L765.9 1081.0M738.3 1083.3L738.5 1085.2M744.9 1082.2L745.3 1084.3M739.9 1083.1L740.3 1086.0M807.8 1054.7L808.4 1055.5M652.7 1072.5L652.0 1074.0M726.6 1084.6L726.7 1086.5M647.3 1070.1L646.9 1070.9M627.0 1058.6L625.7 1060.4M633.7 1062.8L629.3 1070.1M709.7 1085.0L709.6 1089.2M644.7 1068.8L645.3 1067.5M715.8 1085.1L715.8 1087.1M726.1 1084.7L726.1 1085.4M631.3 1061.3L629.9 1063.5M651.5 1072.0L650.3 1074.8M663.9 1076.8L663.2 1079.0M637.3 1064.9L635.6 1067.8M668.3 1078.2L668.1 1078.8M679.6 1081.2L679.3 1082.7M668.8 1078.3L668.4 1079.8M706.0 1084.9L705.9 1088.0M707.1 1084.9L706.9 1087.1M639.5 1066.1L638.9 1067.3M684.5 1082.2L684.4 1082.8M675.3 1080.1L674.1 1084.9M683.7 1082.0L683.2 1084.3M705.0 1084.8L705.0 1086.0M681.5 1081.6L680.4 1086.9M713.3 1085.1L713.3 1087.0M626.6 1058.3L625.4 1060.1M624.5 1056.9L620.7 1062.3M709.9 1085.0L709.9 1086.2M662.8 1076.4L662.4 1077.5M698.1 1084.2L698.0 1085.2M707.0 1084.9L706.8 1088.7M699.3 1084.4L699.1 1086.2M628.7 1059.7L628.4 1060.3M681.7 1081.6L680.0 1089.3M656.0 1073.8L654.8 1076.7M659.1 1075.0L656.5 1082.1M686.8 1082.6L686.1 1086.4M686.1 1082.5L686.5 1080.2M640.0 1066.4L636.9 1072.3M661.2 1075.8L658.9 1082.1M726.3 1084.7L726.5 1086.7M578.7 1007.6L577.8 1008.1M599.8 1035.6L598.2 1037.2M602.0 1038.0L600.9 1039.1M605.0 1040.9L602.7 1043.3M599.6 1035.4L598.9 1036.0M603.7 1039.7L601.4 1042.1M609.1 1044.7L608.7 1045.2M581.0 1011.5L581.8 1011.1M573.5 998.1L572.9 998.4M604.2 1040.1L605.0 1039.3M589.3 1023.3L587.8 1024.5M605.6 1041.5L606.7 1040.3M593.7 1028.9L591.0 1031.2M573.5 998.3L565.2 1002.5M576.2 1003.3L575.4 1003.8M586.3 1019.3L583.8 1021.1M607.0 1042.8L606.1 1043.7M608.8 1044.5L608.1 1045.3M593.4 1028.5L592.7 1029.1M594.2 1029.4L587.0 1035.5M611.6 1046.9L609.8 1048.9M615.7 1050.3L615.0 1051.2M580.4 1010.4L578.1 1011.8M589.4 1023.5L585.4 1026.6M572.4 996.0L565.8 999.3M592.5 1027.3L591.5 1028.1M571.6 994.3L572.8 993.8M578.2 1006.9L573.8 1009.5M576.5 1003.9L573.2 1005.7M594.5 1029.7L593.0 1031.0M558.8 953.6L552.7 954.6M557.0 915.6L556.0 915.6M557.0 916.3L553.0 916.1M556.7 920.3L555.7 920.3M557.3 942.2L559.5 942.0M559.7 958.0L549.9 960.0M560.1 960.2L559.4 960.3M556.6 929.9L553.2 929.9M557.1 939.5L552.1 939.9M560.5 961.9L559.3 962.2M557.0 938.4L558.0 938.4M556.6 923.9L554.6 923.9M558.6 951.9L556.8 952.2M561.0 964.0L554.9 965.4M557.5 910.6L556.3 910.5M557.1 914.3L553.1 914.0M556.7 922.3L554.4 922.2M557.4 911.2L555.5 911.0M557.6 945.2L555.1 945.4M556.8 919.2L555.8 919.1M557.1 940.1L556.5 940.2M557.5 943.7L552.9 944.1M564.5 976.6L563.5 976.9M560.6 962.4L559.7 962.6M556.6 925.1L554.7 925.1M564.1 975.1L554.5 978.1M556.7 931.8L555.6 931.8M556.8 935.7L556.1 935.7M603.1 815.1L600.7 812.7M628.7 794.5L628.2 793.7M617.3 802.6L614.4 798.9M605.5 812.8L604.8 812.1M570.3 862.7L569.0 862.1M562.3 885.1L561.5 884.8M583.3 839.3L579.5 836.8M562.7 883.7L559.0 882.7M570.0 863.4L567.6 862.3M570.9 861.4L569.3 860.7M587.8 832.9L586.1 831.7M637.5 789.2L635.4 785.4M649.8 783.0L650.0 783.6M629.4 794.1L628.9 793.3M568.5 867.0L567.3 866.5M567.8 868.6L564.9 867.4M589.3 830.8L587.2 829.2M564.7 877.2L561.2 876.0M599.2 819.2L595.1 815.3M578.0 847.8L576.5 847.0M596.4 822.3L595.4 821.5M625.3 796.8L622.7 793.0M642.0 786.8L641.5 785.7M563.4 881.3L561.6 880.7M646.6 784.5L646.0 783.1M563.2 882.0L561.9 881.6M617.2 802.7L616.5 801.7M599.1 819.3L597.9 818.2M592.6 826.7L591.6 825.9M562.8 883.3L561.5 883.0M605.0 813.3L604.2 812.5M564.1 879.1L561.0 878.1M585.8 835.6L584.5 834.6M631.1 792.9L632.3 794.8M573.5 855.9L572.7 855.5M641.5 787.0L640.7 785.5M583.5 838.9L582.9 838.5M568.7 866.4L559.9 862.8M629.2 794.2L628.3 792.7M569.4 864.8L562.3 861.8M597.5 821.1L596.5 820.2M646.5 784.5L644.5 780.4M571.1 860.9L575.8 863.0M606.1 812.2L605.2 811.2M578.1 847.5L573.5 844.8M609.7 808.9L609.2 808.3M578.9 846.1L580.4 847.0M574.0 855.1L570.9 853.5M561.3 888.8L558.9 888.2M571.7 859.7L564.2 856.2M563.3 881.6L561.8 881.2M584.4 837.6L583.7 837.1M628.7 794.5L626.7 791.3M581.8 841.5L579.6 840.1M615.5 804.0L614.7 803.0M559.7 896.1L558.0 895.8M680.9 772.7L681.4 774.7M694.4 770.4L694.4 769.7M690.4 771.0L690.3 770.3M703.2 769.5L703.1 767.9M695.2 770.3L694.2 762.8M702.4 769.6L701.8 762.3M701.8 769.6L701.5 765.9M700.9 769.7L700.7 767.7M660.7 778.6L660.4 777.5M678.4 773.3L677.3 768.6M680.2 772.9L678.9 767.2M664.2 777.4L663.8 776.3M673.9 774.4L672.8 770.0M683.7 772.1L683.3 770.1M688.5 771.3L688.2 769.2M670.3 775.5L670.0 774.5M674.1 774.4L673.1 771.0M664.5 777.3L662.9 772.5" fill="none" stroke="#dd5a80" stroke-width="0.7" opacity="0.42"/><path d="M715.32 788.9 A138.2 138.2 0 0 1 793.37 813.55M798.06 816.95 A138.2 138.2 0 0 1 842.74 875.33M844.91 881.06 A138.2 138.2 0 0 1 846.48 968.43M844.26 974.93 A138.2 138.2 0 0 1 814.76 1022.32M810.25 1026.85 A138.2 138.2 0 0 1 732.16 1064.18M726.4 1064.79 A138.2 138.2 0 0 1 633.76 1039.19M628.95 1035.56 A138.2 138.2 0 0 1 586.37 978.65M583.85 971.87 A138.2 138.2 0 0 1 577.95 906.43M578.99 900.49 A138.2 138.2 0 0 1 659.49 800.36M666.43 797.57 A138.2 138.2 0 0 1 709.54 788.99" fill="none" stroke="#f07a50" stroke-width="1.0" stroke-dasharray="0.8 1.8" opacity="0.4"/><path d="M748.0 793.0L747.5 794.7M744.8 792.3L745.0 791.5M764.6 798.3L765.3 796.5M765.2 798.5L766.4 795.4M765.6 798.6L766.9 795.3M786.2 808.9L786.5 808.4M756.6 795.4L756.9 794.4M745.2 792.3L745.3 791.7M792.5 812.9L792.9 812.3M792.9 813.2L794.5 810.9M785.8 808.6L787.7 805.4M762.1 797.3L762.6 795.9M760.4 796.7L760.8 795.6M784.0 807.6L784.5 806.9M759.8 796.5L760.0 795.9M731.6 790.0L732.5 783.0M780.5 805.6L782.0 802.8M779.6 805.2L780.5 803.5M726.0 789.4L726.4 784.5M769.7 800.4L769.0 802.0M751.4 793.9L751.6 793.2M721.6 789.1L721.7 787.7M789.7 811.1L789.0 812.1M721.1 789.1L721.4 782.7M737.0 790.7L737.4 788.1M751.2 793.8L751.3 793.2M725.4 789.3L725.5 787.7M728.5 789.6L728.6 788.4M741.0 791.4L741.1 790.8M735.6 790.5L736.8 782.1M722.1 789.1L722.2 787.9M747.0 792.8L746.4 795.5M723.2 789.2L723.4 785.2M770.7 800.8L773.5 794.5M765.2 798.5L766.4 795.4M826.2 845.6L828.0 844.2M822.4 840.7L823.6 839.8M818.0 835.5L823.9 830.3M798.7 817.4L799.4 816.5M832.0 854.2L836.1 851.7M838.5 865.8L837.6 866.2M830.2 851.3L834.0 848.9M827.5 847.4L830.0 845.5M803.5 821.3L804.0 820.6M835.3 859.8L836.3 859.3M800.9 819.1L802.1 817.5M799.8 818.3L800.9 816.9M807.4 824.7L811.2 820.5M823.5 842.0L824.6 841.2M804.2 821.9L804.8 821.2M838.4 865.6L841.7 863.9M818.8 836.3L821.0 834.4M818.2 835.7L825.7 829.1M811.1 828.2L812.7 826.5M840.9 871.0L841.6 870.7M807.2 824.5L807.9 823.8M824.9 843.8L827.6 841.8M816.8 834.1L818.2 832.8M840.3 869.6L841.5 869.0M805.2 822.7L806.1 821.7M827.1 846.8L827.6 846.4M829.5 850.3L830.4 849.6M812.4 829.5L809.9 832.0M835.0 859.2L836.4 858.4M838.4 865.8L839.1 865.4M821.3 839.3L826.6 834.9M852.8 927.6L855.5 927.6M850.4 901.6L848.9 901.9M851.9 942.7L854.1 942.9M851.7 944.6L854.7 945.0M852.3 938.5L853.4 938.6M852.8 925.4L856.8 925.4M852.3 915.1L851.1 915.2M850.2 953.5L851.3 953.7M851.9 911.3L853.2 911.2M850.1 899.9L851.8 899.6M852.2 914.2L854.1 914.0M851.9 942.4L853.5 942.6M850.7 951.0L859.2 952.5M846.5 885.8L848.9 885.0M851.2 948.3L854.7 948.9M849.4 896.8L855.3 895.5M852.1 913.2L854.0 913.1M852.0 911.9L853.1 911.8M852.7 931.2L855.5 931.3M852.7 931.0L855.0 931.1M847.5 889.3L849.1 888.9M852.8 923.9L855.0 923.9M849.0 895.0L851.3 894.4M849.3 896.1L850.4 895.9M851.6 909.1L855.1 908.7M852.7 921.8L853.7 921.8M851.7 944.2L853.8 944.4M849.5 957.1L846.0 956.3M851.6 908.6L853.3 908.3M849.3 958.1L851.0 958.5M850.7 903.2L851.7 903.1M845.9 883.9L846.5 883.7M852.2 914.5L853.9 914.3M851.8 910.4L853.2 910.2M852.8 929.5L853.6 929.5M852.7 923.1L856.7 923.0M850.7 903.2L852.9 902.8M838.5 988.3L845.7 991.9M835.2 994.7L836.0 995.1M827.2 1007.2L827.8 1007.5M830.9 1001.7L831.5 1002.1M818.5 1018.3L819.1 1018.8M827.7 1006.5L832.3 1009.8M825.5 1009.6L831.9 1014.4M826.1 1008.8L827.4 1009.7M824.0 1011.6L825.2 1012.5M828.9 1004.8L830.9 1006.2M839.0 987.3L842.1 988.8M843.1 977.9L846.5 979.3M836.6 992.0L837.3 992.3M840.0 985.2L849.0 989.4M842.0 980.6L847.3 982.8M833.8 997.0L836.8 998.8M843.9 976.0L850.5 978.5M830.8 1001.9L829.7 1001.1M837.8 989.8L838.7 990.3M840.0 985.3L841.3 985.9M837.6 990.2L840.4 991.6M824.6 1010.8L823.5 1010.0M820.6 1015.8L822.7 1017.5M799.2 1036.4L800.9 1038.6M787.1 1044.7L789.2 1048.1M749.2 1060.9L749.4 1061.6M769.2 1054.1L769.5 1054.9M756.2 1058.9L756.4 1059.7M796.8 1038.2L797.5 1039.1M737.6 1063.4L737.8 1064.1M750.5 1060.6L751.0 1062.2M790.5 1042.6L795.5 1050.2M739.3 1063.1L739.5 1064.0M801.4 1034.6L803.6 1037.3M801.8 1034.3L799.4 1031.4M799.4 1036.2L801.3 1038.7M761.5 1057.1L762.0 1058.6M805.2 1031.4L805.8 1032.1M740.3 1062.9L740.5 1064.0M761.4 1057.1L761.6 1057.9M755.1 1059.2L755.8 1061.7M774.6 1051.6L776.5 1055.5M794.0 1040.2L792.1 1037.6M778.5 1049.6L779.7 1052.0M788.1 1044.1L789.0 1045.5M802.2 1034.0L801.8 1033.5M804.5 1032.1L799.2 1026.0M805.1 1031.5L806.3 1032.9M744.3 1062.1L744.1 1061.5M784.2 1046.5L783.7 1045.6M749.5 1060.8L749.9 1062.0M782.7 1047.4L783.1 1048.1M806.0 1030.8L807.6 1032.6M778.9 1049.4L779.2 1050.1M767.5 1054.8L767.8 1055.6M757.2 1058.6L757.4 1059.2M749.3 1060.9L749.9 1063.2M759.5 1057.8L759.8 1058.8M805.8 1031.0L806.9 1032.2M792.3 1041.4L793.1 1042.6M682.6 1061.5L682.2 1063.2M643.1 1045.3L642.4 1046.5M660.2 1054.1L659.1 1056.7M636.9 1041.4L636.5 1041.9M661.8 1054.8L661.2 1056.3M717.4 1065.3L717.5 1065.9M691.2 1063.3L690.9 1065.1M656.8 1052.6L656.5 1053.2M695.5 1064.0L695.2 1065.7M707.2 1065.1L706.8 1072.8M719.7 1065.2L719.7 1065.9M675.3 1059.6L673.7 1065.2M690.4 1063.2L689.9 1066.0M707.5 1065.1L707.5 1065.7M647.1 1047.7L646.4 1049.0M699.7 1064.5L699.5 1066.1M658.7 1053.5L658.5 1054.1M720.4 1065.2L720.7 1072.8M690.1 1063.1L690.0 1063.7M705.2 1065.0L705.2 1065.7M694.8 1063.9L694.5 1066.0M670.4 1058.0L670.1 1058.9M642.4 1044.9L641.6 1046.3M683.3 1061.7L684.0 1058.6M664.1 1055.7L663.8 1056.6M680.3 1061.0L680.0 1062.0M641.0 1044.1L637.0 1050.5M722.6 1065.1L722.8 1067.3M660.9 1054.4L657.4 1062.8M635.1 1040.1L635.8 1039.2M661.7 1054.8L661.0 1056.5M658.7 1053.5L658.4 1054.2M660.4 1054.2L659.3 1057.0M657.7 1053.0L657.3 1054.1M642.2 1044.8L641.5 1045.9M638.1 1042.2L636.9 1044.0M679.3 1060.7L679.0 1061.7M685.4 1062.2L684.9 1064.3M692.0 1063.4L691.8 1064.7M635.0 1040.1L633.2 1042.7M659.9 1054.0L659.6 1054.7M602.5 1008.0L596.7 1012.2M591.7 990.3L591.2 990.6M616.0 1024.0L608.9 1031.0M611.2 1018.8L610.7 1019.2M587.9 982.3L586.2 983.0M603.3 1009.0L601.7 1010.2M590.1 987.1L586.2 989.0M616.3 1024.2L614.0 1026.4M595.6 997.3L594.0 998.2M608.2 1015.3L606.6 1016.6M613.9 1021.7L612.9 1022.7M587.1 980.3L586.1 980.7M622.4 1030.1L620.9 1031.8M613.4 1021.2L611.6 1022.9M595.2 996.8L591.8 998.8M615.2 1023.2L614.6 1023.8M596.6 999.0L598.2 998.0M624.9 1032.2L625.4 1031.7M609.6 1017.0L609.0 1017.5M592.5 991.9L590.0 993.2M606.2 1012.8L601.1 1016.8M602.0 1007.2L603.0 1006.5M598.2 1001.6L600.7 999.9M599.3 1003.3L600.3 1002.6M605.2 1011.6L603.9 1012.7M594.7 995.9L593.0 996.9M598.9 1002.7L597.1 1003.9M587.2 980.6L586.4 981.0M621.8 1029.5L621.0 1030.3M611.3 1019.0L610.8 1019.4M579.7 957.1L578.8 957.3M581.4 964.1L578.9 964.8M579.7 957.0L577.6 957.4M582.5 967.7L581.0 968.2M576.6 919.7L575.9 919.7M581.5 964.5L580.2 964.8M576.5 930.8L574.8 930.9M576.5 933.1L572.7 933.3M576.4 927.9L577.7 927.9M576.5 922.2L575.0 922.2M581.2 963.4L577.7 964.3M576.4 929.4L566.7 929.5M577.1 940.9L576.2 941.0M579.0 954.0L577.6 954.3M580.1 958.7L578.7 959.0M576.5 931.6L569.3 931.8M576.9 915.7L574.5 915.5M583.0 969.4L582.0 969.7M577.1 940.8L583.4 940.2M576.6 919.4L574.6 919.3M582.7 968.2L581.8 968.5M577.7 946.1L577.0 946.2M577.8 907.3L576.9 907.2M577.7 946.3L574.8 946.7M580.5 960.6L576.8 961.5M579.3 955.1L576.6 955.7M577.7 946.0L572.6 946.7M576.8 937.9L574.8 938.1M630.3 817.6L629.3 816.3M586.9 874.4L586.1 874.1M628.6 818.9L629.0 819.4M579.6 897.6L578.7 897.4M615.5 830.7L612.7 828.0M646.5 806.9L643.1 800.9M616.5 829.8L613.5 826.8M586.3 875.6L582.3 874.0M619.9 826.5L620.6 827.2M595.0 857.9L593.9 857.2M584.0 882.0L583.2 881.8M609.1 837.8L608.6 837.5M590.1 867.0L588.2 866.1M581.3 890.6L580.2 890.4M610.4 836.3L609.8 835.8M622.1 824.4L621.5 823.7M620.0 826.4L619.1 825.5M629.4 818.3L628.8 817.6M600.8 848.7L599.9 848.1M617.6 828.7L616.3 827.4M588.3 870.9L587.4 870.5M602.5 846.3L598.6 843.5M619.1 827.3L618.3 826.5M582.3 887.0L580.2 886.4M612.3 834.2L611.7 833.6M585.9 876.7L584.5 876.1M608.0 839.2L605.3 837.1M587.9 871.9L586.8 871.5M614.3 832.0L615.6 833.3M648.3 805.9L647.1 803.7M627.1 820.1L626.5 819.4M606.4 841.1L605.5 840.3M615.0 831.3L614.5 830.8M625.0 821.8L624.5 821.3M599.9 850.1L603.2 852.3M597.0 854.5L595.5 853.6M636.6 813.0L635.6 811.7M624.9 822.0L623.9 820.8M628.0 819.4L626.7 817.9M630.3 817.6L629.0 815.8M625.1 821.8L624.4 820.9M648.7 805.6L652.2 812.1M646.5 806.8L645.4 804.7M583.3 883.9L581.5 883.3M631.2 816.9L630.7 816.2M580.7 892.9L579.4 892.5M646.9 806.6L645.3 803.8M612.8 833.6L610.4 831.3M595.2 857.6L596.7 858.5M592.1 863.1L591.4 862.7M608.6 838.4L607.0 837.1M616.6 829.7L614.1 827.2M605.5 842.3L604.9 841.8M628.3 819.2L627.6 818.3M581.4 890.2L580.3 889.9M589.2 869.1L587.8 868.5M693.5 790.5L693.6 791.5M694.0 790.4L694.4 793.3M694.8 790.3L695.3 793.6M704.3 789.3L704.5 792.2M702.3 789.4L702.3 788.8M690.5 791.0L690.4 790.2M683.0 792.6L682.9 791.9M706.0 789.2L705.9 788.0M682.6 792.6L682.5 791.9M705.9 789.2L705.8 788.3M698.2 789.9L697.5 784.6M687.4 791.6L686.8 788.6M699.2 789.8L699.1 789.1M698.5 789.8L699.4 797.2M692.2 790.7L691.6 786.5M697.5 790.0L697.6 790.9M704.9 789.2L704.8 788.6M689.3 791.2L689.1 790.0" fill="none" stroke="#f07a50" stroke-width="0.7" opacity="0.42"/><path d="M715.22 808.7 A118.4 118.4 0 0 1 782.09 829.82M786.1 832.73 A118.4 118.4 0 0 1 824.38 882.75M826.24 887.66 A118.4 118.4 0 0 1 827.58 962.51M825.68 968.08 A118.4 118.4 0 0 1 800.41 1008.68M796.55 1012.56 A118.4 118.4 0 0 1 729.64 1044.54M724.71 1045.07 A118.4 118.4 0 0 1 645.34 1023.13M641.22 1020.02 A118.4 118.4 0 0 1 604.74 971.26M602.58 965.45 A118.4 118.4 0 0 1 597.53 909.4M598.41 904.31 A118.4 118.4 0 0 1 667.39 818.52M673.33 816.13 A118.4 118.4 0 0 1 710.26 808.78" fill="none" stroke="#fbb070" stroke-width="1.0" stroke-dasharray="0.8 1.8" opacity="0.4"/><path d="M726.3 809.3L726.5 807.4M719.9 808.8L720.0 807.5M730.1 809.7L730.6 805.4M779.9 828.4L782.2 824.9M736.6 810.8L736.8 809.7M769.9 822.4L770.3 821.6M749.3 813.9L749.7 812.9M738.0 811.0L738.2 809.9M768.3 821.6L769.3 819.7M720.7 808.9L721.2 799.5M740.0 811.5L740.2 810.7M718.4 808.8L718.5 806.4M746.8 813.2L748.5 807.4M748.1 813.5L749.0 810.4M736.1 810.7L736.3 809.6M721.3 808.9L721.4 805.9M781.5 829.4L782.7 827.7M720.1 808.8L720.2 807.5M762.0 818.6L760.5 822.1M749.0 813.8L750.1 810.2M718.7 808.8L718.9 804.1M722.1 808.9L722.6 801.5M771.6 823.3L772.3 822.1M725.2 809.2L725.4 806.2M769.1 822.0L769.9 820.6M733.5 810.2L734.2 805.8M732.1 810.0L732.7 806.2M731.4 809.9L731.7 808.2M722.3 808.9L722.4 806.7M775.1 825.3L778.3 819.9M767.1 821.0L768.4 818.5M775.4 825.5L774.3 827.4M750.1 814.2L751.6 809.6M735.8 810.6L735.9 809.6M777.1 826.6L778.5 824.4M788.3 834.4L792.0 829.8M793.0 838.3L793.6 837.6M789.6 835.5L791.8 832.7M801.8 847.0L800.6 848.1M791.6 837.1L793.1 835.4M818.2 869.9L819.2 869.3M794.2 839.4L797.9 835.3M805.4 851.1L807.1 849.6M804.4 849.9L806.9 847.8M795.9 841.0L796.9 839.9M806.3 852.2L807.0 851.6M822.3 878.0L826.2 876.2M798.3 843.3L800.6 841.0M812.4 860.4L817.4 857.0M803.5 848.8L804.1 848.3M820.6 874.3L821.7 873.7M822.1 877.6L823.7 876.8M821.3 875.8L822.2 875.4M791.7 837.2L792.3 836.5M803.8 849.2L806.0 847.2M816.6 867.0L821.3 864.3M789.1 835.1L788.7 835.6M823.9 881.7L824.5 881.4M821.3 875.7L822.1 875.3M815.2 864.7L815.9 864.3M806.2 852.1L808.2 850.4M788.3 834.4L788.8 833.8M813.9 862.6L815.9 861.3M803.5 848.9L805.4 847.3M808.4 854.8L809.4 854.1M818.8 871.0L820.0 870.4M829.7 899.2L839.4 896.9M831.6 945.0L830.9 944.9M831.3 947.2L833.7 947.6M831.0 948.9L832.3 949.1M831.3 907.3L828.7 907.8M832.6 917.5L833.5 917.4M831.0 905.2L831.7 905.1M832.5 937.7L836.4 938.1M831.9 910.7L840.9 909.5M831.2 947.8L833.3 948.2M832.7 919.2L836.8 918.9M832.5 916.0L833.7 915.9M828.6 895.3L826.8 895.8M829.5 898.7L831.6 898.2M833.0 928.8L839.3 928.9M832.9 923.0L840.3 922.7M832.6 917.6L833.7 917.5M831.4 946.4L835.6 947.1M829.2 956.8L831.1 957.3M830.7 950.4L832.1 950.7M832.6 916.8L833.2 916.8M832.9 923.2L839.8 923.0M828.6 895.0L827.8 895.2M827.8 961.9L828.8 962.2M832.1 941.6L834.9 941.9M833.0 926.6L829.6 926.6M828.0 893.1L828.8 892.9M829.6 955.1L832.8 955.9M827.6 891.7L829.5 891.1M830.3 952.3L827.6 951.7M831.8 944.0L832.5 944.1M831.9 910.9L833.3 910.7M831.7 944.5L841.6 945.9M828.0 892.9L828.7 892.7M831.3 947.1L831.9 947.2M826.6 888.6L828.7 887.9M828.0 961.2L828.8 961.4M808.9 998.6L809.7 999.2M825.3 969.1L832.8 972.0M812.7 993.4L815.2 995.1M812.3 994.0L814.5 995.5M807.7 1000.2L808.5 1000.8M814.7 990.4L815.3 990.8M812.9 993.1L812.0 992.6M803.4 1005.5L804.2 1006.2M822.5 975.7L821.6 975.3M817.7 985.4L819.2 986.3M810.9 995.9L808.2 994.0M818.1 984.6L819.2 985.2M813.2 992.6L815.2 993.9M804.7 1003.9L806.6 1005.5M824.6 970.9L830.0 973.0M817.6 985.5L819.6 986.6M809.7 997.6L810.3 998.0M808.4 999.4L809.8 1000.5M819.0 982.9L816.1 981.3M807.5 1000.5L808.1 1001.1M816.5 987.4L815.9 987.0M812.0 994.4L811.0 993.6M814.7 990.4L818.5 992.9M762.2 1035.5L762.5 1036.1M759.8 1036.5L761.9 1041.6M788.9 1019.2L789.6 1020.0M763.3 1035.0L761.3 1030.7M733.4 1044.0L733.6 1045.4M767.2 1033.2L765.7 1030.3M757.0 1037.7L755.8 1034.6M763.4 1035.0L762.8 1033.5M776.7 1027.9L777.5 1029.2M785.2 1022.2L786.8 1024.4M759.7 1036.6L760.2 1037.9M754.5 1038.6L757.9 1048.0M752.1 1039.4L751.4 1037.3M764.5 1034.5L762.8 1030.8M773.0 1030.1L774.1 1032.0M783.0 1023.7L783.7 1024.7M740.8 1042.6L741.2 1044.3M768.0 1032.8L768.4 1033.6M754.9 1038.4L755.1 1039.1M780.6 1025.4L781.3 1026.5M746.5 1041.1L746.9 1042.6M771.7 1030.8L772.1 1031.5M746.7 1041.1L748.2 1046.3M750.4 1039.9L751.7 1044.1M782.0 1024.4L783.4 1026.3M781.4 1024.9L782.2 1026.1M792.4 1016.3L793.7 1017.7M778.0 1027.1L779.0 1028.6M778.8 1026.6L779.1 1027.1M741.3 1042.5L742.8 1049.3M755.9 1038.1L756.9 1040.8M786.0 1021.5L786.9 1022.8M741.1 1042.5L742.3 1047.4M755.3 1038.3L755.8 1039.7M737.7 1043.2L738.0 1044.4M764.3 1034.6L765.4 1036.8M762.0 1035.6L763.1 1037.9M715.5 1045.5L715.5 1047.1M672.1 1037.6L671.7 1038.5M707.7 1045.3L707.6 1046.4M653.9 1028.8L653.0 1030.3M652.1 1027.6L651.3 1028.8M671.7 1037.5L671.1 1038.9M707.3 1045.3L707.1 1047.3M724.0 1045.1L724.2 1047.2M722.8 1045.2L722.9 1046.5M668.2 1036.0L667.8 1036.8M720.3 1045.4L720.7 1055.1M702.4 1044.9L702.1 1047.4M655.5 1029.7L651.6 1036.5M718.9 1045.4L719.1 1051.4M665.3 1034.8L664.5 1036.6M648.2 1025.1L646.3 1027.9M648.2 1025.1L646.5 1027.6M689.1 1042.7L688.0 1047.8M686.5 1042.1L686.2 1043.3M714.2 1045.5L714.2 1044.5M717.6 1045.5L717.5 1042.9M715.1 1045.5L715.1 1043.9M651.0 1027.0L650.7 1027.5M689.4 1042.8L689.0 1044.5M685.7 1041.9L685.2 1043.6M709.1 1045.4L708.8 1051.0M681.0 1040.6L680.8 1041.3M684.5 1041.6L685.1 1039.7M652.6 1027.9L651.6 1029.5M707.2 1045.3L707.0 1047.7M678.1 1039.7L677.9 1040.4M694.0 1043.7L693.2 1048.3M660.8 1032.6L658.5 1037.1M647.2 1024.4L645.6 1026.6M649.1 1025.7L647.9 1027.5M692.0 1043.3L691.5 1045.6M679.0 1040.0L678.1 1042.7M723.0 1045.2L723.1 1046.0M653.2 1028.3L652.4 1029.7M668.1 1036.0L667.1 1038.2M707.5 1045.3L707.4 1047.0M605.4 972.8L608.4 971.5M631.0 1010.9L630.4 1011.5M610.2 982.9L608.5 983.8M615.7 992.2L613.1 993.9M606.9 976.3L605.3 977.0M630.1 1010.0L627.0 1013.0M628.2 1008.1L625.6 1010.5M624.7 1004.1L623.8 1004.9M612.5 987.0L603.9 992.1M605.8 973.9L603.2 975.0M607.9 978.4L604.1 980.2M605.0 972.0L602.8 972.9M620.6 999.1L620.1 999.5M607.1 976.6L599.6 980.1M615.0 991.1L613.6 992.0M628.0 1007.8L624.6 1010.9M639.2 1018.4L636.1 1022.1M610.6 983.6L611.3 983.3M627.0 1006.8L626.4 1007.3M624.6 1004.0L621.7 1006.5M639.6 1018.7L637.0 1022.0M626.2 1005.8L624.2 1007.6M631.8 1011.7L633.0 1010.5M637.8 1017.2L635.7 1019.6M631.9 1011.9L638.0 1005.6M632.8 1012.7L631.7 1013.9M630.0 1009.9L628.1 1011.8M631.4 1011.4L630.2 1012.6M627.1 1006.9L624.6 1009.1M613.8 989.3L620.7 985.0M597.1 941.8L594.1 942.2M602.3 964.7L601.6 965.0M596.2 930.4L598.8 930.3M597.4 943.9L595.4 944.1M596.2 927.9L594.3 928.0M598.7 951.5L602.5 950.7M598.6 950.9L595.2 951.6M599.2 953.7L597.6 954.0M596.2 926.0L600.0 926.1M596.8 915.5L591.9 915.0M597.4 910.3L593.3 909.7M596.3 931.6L595.3 931.6M598.1 948.4L605.3 947.1M597.8 946.6L597.1 946.8M598.6 950.6L590.3 952.2M596.4 934.0L595.4 934.1M601.9 963.4L601.2 963.7M596.6 917.6L598.0 917.7M596.7 938.0L594.2 938.2M597.1 912.3L596.0 912.1M597.2 942.7L598.8 942.5M596.3 932.0L595.0 932.0M596.7 938.1L591.0 938.6M596.2 928.5L595.3 928.5M597.2 912.0L594.8 911.7M596.4 920.8L601.3 921.0M596.9 940.1L595.7 940.2M596.9 914.6L597.8 914.7M598.5 903.8L592.9 902.7M602.1 890.1L601.1 889.7M620.5 855.3L619.2 854.3M608.8 874.0L608.2 873.8M645.4 831.0L645.0 830.4M611.0 869.9L609.1 868.8M598.8 902.5L598.0 902.3M625.7 848.9L623.7 847.0M661.7 821.2L661.4 820.5M650.9 827.3L650.5 826.7M599.0 901.4L597.9 901.1M612.5 867.2L610.4 865.9M621.3 854.2L621.9 854.7M601.8 891.0L600.4 890.5M626.6 847.9L624.9 846.4M599.1 900.8L596.3 900.2M606.8 878.2L604.6 877.2M644.1 832.0L641.5 828.6M612.1 867.8L611.2 867.2M601.4 892.5L599.4 892.0M602.2 890.0L601.5 889.7M600.5 895.6L597.2 894.7M649.9 827.9L645.9 821.6M635.0 839.4L636.0 840.5M615.8 861.9L614.5 861.0M640.8 834.5L640.4 834.0M652.4 826.4L651.0 824.2M614.9 863.2L614.2 862.7M630.9 843.4L627.4 839.8M624.0 850.9L619.0 846.8M653.8 825.5L653.3 824.8M617.2 859.8L614.5 858.0M658.1 823.1L656.6 820.3M616.3 861.1L615.5 860.6M608.9 873.8L606.9 872.8M636.0 838.5L636.4 839.0M664.3 819.9L663.3 818.0M636.7 838.0L631.2 831.8M617.8 858.9L617.2 858.5M663.3 820.4L662.7 819.3M644.0 832.0L643.2 830.9M652.7 826.2L648.6 819.6M624.7 850.0L627.2 852.2M643.2 832.7L644.6 834.6M664.5 819.8L664.1 819.0M622.3 853.0L621.3 852.1M646.3 830.4L644.1 827.3M666.7 818.8L665.7 816.6M645.2 831.1L644.1 829.6M654.4 825.2L654.0 824.5M648.5 828.9L651.0 832.5M648.8 828.7L645.1 823.1M632.9 841.4L631.3 839.6M651.4 827.0L650.5 825.6M662.4 820.8L660.5 817.0M608.4 874.7L607.0 874.0M691.2 811.0L691.1 810.2M708.4 808.9L708.4 807.5M704.4 809.1L704.4 809.9M704.5 809.1L704.1 803.7M706.3 809.0L706.2 807.5M701.0 809.5L700.5 805.6M694.0 810.5L693.6 808.6M687.4 811.9L687.0 810.4M688.1 811.7L687.5 809.3M707.2 808.9L707.1 806.5M681.3 813.5L681.1 812.8M703.4 809.2L703.2 807.5M704.5 809.1L704.1 803.9M685.9 812.2L685.4 810.1M675.3 815.4L674.7 813.8M677.4 814.7L677.2 814.0M677.0 814.8L676.3 812.9M708.7 808.8L708.7 808.0" fill="none" stroke="#fbb070" stroke-width="0.7" opacity="0.42"/><path d="M715.12 827.7 A99.4 99.4 0 0 1 771.26 845.43M774.63 847.87 A99.4 99.4 0 0 1 806.76 889.86M808.32 893.99 A99.4 99.4 0 0 1 809.45 956.82M807.86 961.5 A99.4 99.4 0 0 1 786.64 995.59M783.4 998.84 A99.4 99.4 0 0 1 727.23 1025.69M723.09 1026.14 A99.4 99.4 0 0 1 656.46 1007.72M652.99 1005.11 A99.4 99.4 0 0 1 622.37 964.17M620.56 959.3 A99.4 99.4 0 0 1 616.32 912.24M617.06 907.96 A99.4 99.4 0 0 1 674.96 835.94M679.95 833.93 A99.4 99.4 0 0 1 710.96 827.77" fill="none" stroke="#a8dca0" stroke-width="1.0" stroke-dasharray="0.8 1.8" opacity="0.4"/><path d="M756.3 836.9L756.8 835.9M757.4 837.4L759.5 832.9M766.8 842.5L768.0 840.5M746.1 832.8L746.7 831.1M765.0 841.4L765.5 840.5M724.9 828.2L725.1 826.3M767.0 842.6L767.4 841.9M765.5 841.7L768.7 836.4M743.9 832.1L744.4 830.6M753.3 835.5L755.0 831.5M736.2 830.1L736.5 828.5M717.2 827.7L717.2 826.9M751.2 834.7L753.3 829.4M738.7 830.7L739.0 829.4M741.4 831.4L741.5 830.8M733.3 829.5L732.9 831.5M729.2 828.8L728.2 835.2M769.1 844.0L767.2 846.8M726.9 828.5L727.2 825.9M718.1 827.8L718.1 826.7M724.7 828.2L725.5 820.6M753.0 835.4L755.5 829.4M758.9 838.1L762.3 831.5M762.9 840.2L763.5 839.3M730.1 828.9L730.5 826.2M718.1 827.8L718.1 826.7M764.8 841.3L768.9 834.3M731.5 829.1L732.0 826.3M762.6 840.1L763.9 837.7M756.4 836.9L757.1 835.3M749.1 833.9L749.6 832.6M758.9 838.1L759.6 836.6M750.3 834.4L751.5 831.3M734.8 829.8L736.1 823.7M720.4 827.9L720.8 820.7M793.7 866.8L795.0 865.8M787.7 859.7L790.7 856.9M788.9 861.1L790.6 859.6M789.5 861.8L790.2 861.2M803.7 883.1L804.5 882.7M799.9 876.1L801.6 875.1M780.5 852.7L782.4 850.5M780.6 852.8L781.5 851.7M798.6 873.9L799.6 873.3M794.8 868.4L799.4 865.0M788.0 860.1L787.5 860.5M796.3 870.5L796.9 870.1M795.9 869.9L794.8 870.7M794.1 867.5L794.7 867.1M804.8 885.4L807.7 884.0M801.6 879.1L803.0 878.3M776.0 848.9L780.4 843.3M776.9 849.6L778.1 848.1M805.2 886.1L808.9 884.5M794.0 867.3L796.0 865.7M779.4 851.7L781.6 849.1M795.9 869.9L796.6 869.4M805.0 885.8L806.2 885.3M804.3 884.2L805.5 883.7M795.7 869.7L796.8 869.0M801.5 878.8L802.9 878.0M801.2 878.2L801.9 877.8M782.8 854.8L783.7 853.9M780.5 852.7L783.0 849.9M796.5 870.8L799.3 868.8M790.9 863.4L794.5 860.4M813.6 918.2L819.7 917.7M812.8 942.4L817.3 943.1M810.1 954.5L815.4 956.0M813.9 922.8L812.5 922.9M810.8 902.1L811.6 901.9M809.8 898.5L812.0 897.8M811.0 951.3L813.4 951.9M813.4 937.9L815.1 938.1M812.8 942.2L813.6 942.3M811.0 951.2L809.1 950.7M809.5 897.5L810.1 897.3M811.5 949.2L813.4 949.7M810.1 899.6L811.6 899.2M809.0 896.1L813.6 894.6M813.4 916.4L814.8 916.3M814.0 929.9L818.6 930.1M814.0 929.1L817.4 929.2M813.8 932.9L814.8 933.0M812.3 909.0L815.0 908.5M811.4 904.6L813.3 904.1M813.4 937.6L816.2 937.9M813.9 923.4L816.5 923.3M811.9 947.5L813.1 947.7M812.6 910.6L814.4 910.3M812.2 945.7L814.1 946.1M811.3 950.2L813.4 950.7M814.0 929.7L814.7 929.8M814.0 928.9L817.9 929.0M813.8 921.6L815.4 921.6M809.9 898.8L810.8 898.5M809.4 897.1L811.0 896.6M813.9 931.3L823.4 931.8M809.9 898.9L811.2 898.6M814.0 930.2L819.4 930.3M813.5 917.2L816.3 916.9M809.7 898.3L812.0 897.6M813.5 916.9L818.4 916.4M803.4 971.7L804.1 972.1M796.9 982.8L797.9 983.4M787.6 994.6L788.1 995.1M801.7 975.0L802.4 975.3M796.8 982.9L800.6 985.4M801.0 976.2L804.9 978.4M790.0 991.9L790.5 992.3M793.5 987.5L794.9 988.6M804.4 969.6L806.2 970.5M787.3 994.9L788.7 996.1M803.7 971.2L808.7 973.7M798.2 980.9L802.2 983.5M797.1 982.6L798.5 983.6M790.3 991.6L792.3 993.3M798.1 981.1L800.0 982.4M807.2 963.3L809.0 964.0M787.6 994.6L788.9 995.8M802.5 973.4L801.3 972.8M800.1 977.7L801.7 978.7M790.0 991.9L791.6 993.2M801.3 975.8L802.0 976.2M803.4 971.9L804.4 972.4M800.5 977.1L801.9 977.9M738.6 1023.6L739.0 1025.5M762.6 1014.2L765.3 1019.2M748.6 1020.5L751.2 1027.4M754.9 1018.0L755.5 1019.4M749.8 1020.0L750.4 1021.5M749.0 1020.4L750.7 1025.0M762.3 1014.3L762.6 1014.9M764.6 1013.0L767.7 1018.3M740.6 1023.0L741.6 1026.5M746.2 1021.3L747.0 1023.7M775.5 1005.7L777.1 1007.7M753.8 1018.4L754.9 1020.9M783.0 999.2L783.8 1000.0M730.0 1025.3L730.3 1027.0M755.1 1017.9L756.2 1020.3M768.9 1010.3L769.4 1011.0M747.0 1021.1L747.3 1021.9M780.9 1001.1L780.2 1000.3M778.3 1003.4L780.4 1005.8M739.3 1023.4L739.6 1024.2M750.1 1019.9L750.6 1021.2M738.7 1023.5L737.4 1018.1M751.7 1019.3L752.8 1022.1M773.6 1007.1L775.0 1009.0M773.2 1007.4L773.5 1007.9M768.3 1010.8L769.2 1012.2M729.1 1025.4L730.4 1034.1M742.9 1022.4L743.5 1024.4M750.3 1019.9L750.6 1020.6M777.1 1004.4L776.2 1003.3M734.1 1024.6L734.2 1025.2M758.5 1016.3L758.8 1016.9M751.7 1019.3L754.0 1024.9M739.3 1023.4L738.8 1021.6M768.2 1010.8L769.9 1013.4M753.3 1018.6L753.6 1019.4M735.0 1024.4L735.1 1025.1M681.4 1020.8L679.5 1026.1M657.7 1008.6L661.1 1003.8M722.6 1026.2L722.7 1028.1M657.7 1008.6L657.2 1009.3M667.4 1014.6L664.0 1020.7M698.4 1025.2L698.8 1022.7M670.9 1016.4L670.2 1017.8M721.2 1026.3L721.5 1031.2M696.6 1024.9L696.4 1025.7M668.4 1015.1L668.0 1015.8M673.7 1017.7L673.3 1018.4M661.0 1010.8L657.3 1016.5M690.0 1023.4L689.2 1026.8M721.0 1026.3L721.3 1030.6M692.3 1024.0L691.9 1025.5M685.9 1022.3L685.2 1024.3M694.6 1024.5L694.4 1025.3M684.2 1021.7L683.7 1023.2M681.5 1020.8L681.2 1021.6M715.9 1026.5L716.0 1027.8M661.5 1011.1L660.2 1013.1M715.9 1026.5L715.8 1024.3M664.1 1012.7L662.4 1015.7M662.4 1011.7L661.8 1012.7M722.3 1026.2L722.6 1029.5M696.3 1024.8L695.2 1030.5M679.1 1019.9L676.9 1025.7M699.2 1025.3L698.8 1028.1M714.0 1026.5L714.0 1028.2M687.6 1022.8L686.8 1025.7M697.9 1025.1L697.7 1026.4M721.9 1026.2L722.1 1028.4M720.3 1026.3L720.4 1027.8M703.5 1025.9L703.1 1029.1M709.6 1026.4L709.5 1027.8M670.2 1016.1L669.6 1017.2M710.4 1026.4L710.2 1032.6M702.2 1025.7L702.1 1026.3M676.6 1018.9L678.1 1015.1M695.7 1024.7L695.4 1026.5M701.5 1025.6L701.3 1026.8M645.1 998.1L644.6 998.6M652.6 1004.8L651.9 1005.6M641.4 994.3L640.2 995.4M647.8 1000.7L645.9 1002.7M622.7 964.9L621.8 965.2M636.1 988.1L635.1 988.9M628.3 976.5L627.6 976.9M640.8 993.6L640.3 994.1M624.0 968.0L626.4 966.9M628.8 977.3L627.1 978.3M648.2 1001.1L647.8 1001.6M639.2 991.9L634.3 996.1M652.3 1004.6L650.4 1006.9M634.5 986.0L633.9 986.4M622.8 965.3L618.3 967.2M639.3 991.9L638.2 992.8M623.9 967.8L623.2 968.2M629.8 978.9L629.2 979.3M637.6 990.0L636.6 990.8M628.2 976.3L627.0 977.0M634.5 985.9L633.6 986.5M627.3 974.7L626.5 975.1M629.9 979.0L629.0 979.6M623.1 965.9L620.6 967.0M651.3 1003.8L650.6 1004.6M639.9 992.6L634.3 997.5M631.8 982.1L633.5 981.0M645.4 998.4L644.1 999.7M648.1 1001.0L646.8 1002.4M634.8 986.4L634.3 986.8M615.4 920.1L614.6 920.1M615.2 924.8L614.6 924.8M616.0 914.3L614.8 914.1M615.5 919.1L614.6 919.0M619.6 956.2L614.8 957.6M615.5 919.2L614.7 919.2M616.3 941.6L612.9 942.0M616.2 913.3L614.7 913.0M615.5 919.6L613.7 919.5M618.8 953.7L615.8 954.5M615.6 936.3L614.7 936.4M615.8 938.3L607.1 939.3M616.0 939.6L616.9 939.5M615.3 922.9L610.9 922.8M618.3 951.9L617.2 952.1M617.1 946.5L615.9 946.7M616.1 940.5L615.3 940.6M615.4 933.3L614.8 933.3M615.2 926.0L611.7 926.0M619.4 955.9L618.8 956.1M615.3 930.8L613.3 930.8M615.7 917.4L614.4 917.3M616.1 913.7L617.5 913.9M619.5 956.0L617.4 956.7M616.7 944.1L616.0 944.2M615.9 939.1L614.8 939.2M615.4 921.1L612.9 920.9M615.9 938.5L614.6 938.7M627.8 878.7L625.7 877.5M640.5 860.9L637.5 858.2M653.1 849.0L652.2 847.9M617.3 906.6L616.1 906.3M626.1 881.9L624.0 880.9M661.7 842.9L661.2 842.1M644.7 856.4L642.2 853.9M648.6 852.8L646.8 850.8M661.6 843.0L661.1 842.3M643.1 858.0L639.1 854.1M617.9 904.0L615.6 903.5M662.5 842.5L662.0 841.7M633.4 869.7L630.8 867.9M669.9 838.3L668.6 835.7M618.2 902.8L616.2 902.3M653.0 849.1L650.8 846.2M627.4 879.4L625.8 878.5M666.4 840.2L665.1 837.9M674.4 836.2L674.1 835.6M663.0 842.2L662.2 840.9M674.5 836.2L674.0 835.0M638.8 862.8L632.6 857.5M642.5 858.6L640.6 856.9M632.1 871.7L636.6 874.8M633.4 869.7L632.6 869.2M639.8 861.6L636.7 858.9M629.5 875.8L626.0 873.7M665.3 840.8L664.8 840.0M647.0 854.3L645.8 853.1M631.6 872.4L629.4 870.9M635.0 867.6L627.0 861.6M622.7 889.2L621.5 888.7M647.9 853.4L648.7 854.4M646.4 854.8L644.4 852.7M629.5 875.7L624.2 872.5M654.6 847.9L651.8 844.2M629.6 875.6L628.1 874.8M617.4 906.2L614.2 905.5M661.1 843.3L660.7 842.8M651.1 850.6L649.4 848.5M623.1 888.4L622.3 888.0M653.4 848.8L653.0 848.2M659.9 844.1L657.6 840.6M618.6 901.2L618.0 901.0M668.0 839.3L667.5 838.3M638.0 863.7L636.6 862.5M618.7 900.8L609.1 898.2M625.9 882.2L623.4 880.9M619.4 898.5L618.2 898.2M644.9 856.3L643.1 854.5M650.7 851.0L648.4 848.2M618.0 903.7L620.9 904.4M672.2 837.2L671.7 836.1M661.8 842.9L661.2 842.0M625.0 884.1L623.6 883.4M627.2 879.8L626.4 879.4M707.4 828.0L707.3 826.1M686.4 831.8L685.6 828.9M684.4 832.4L684.9 834.1M706.6 828.0L706.3 824.8M705.4 828.1L705.2 826.0M701.5 828.6L701.4 827.9M689.6 830.9L689.0 828.6M692.3 830.2L692.0 829.2M697.7 829.1L697.4 827.3M692.9 830.1L692.8 829.5M705.5 828.1L705.2 825.2M681.0 833.6L680.0 830.8M707.8 827.9L707.7 827.0M680.9 833.6L680.5 832.6M688.1 831.3L687.8 830.0M693.5 830.0L692.6 825.7M710.5 827.8L710.4 826.6M690.4 830.7L690.2 830.0" fill="none" stroke="#a8dca0" stroke-width="0.7" opacity="0.42"/><path d="M715.02 847.1 A80 80 0 0 1 760.2 861.37M762.91 863.34 A80 80 0 0 1 788.77 897.13M790.03 900.45 A80 80 0 0 1 790.94 951.02M789.66 954.79 A80 80 0 0 1 772.58 982.22M769.97 984.84 A80 80 0 0 1 724.77 1006.45M721.43 1006.81 A80 80 0 0 1 667.8 991.99M665.02 989.88 A80 80 0 0 1 640.37 956.94M638.91 953.01 A80 80 0 0 1 635.5 915.14M636.1 911.7 A80 80 0 0 1 682.7 853.74M686.71 852.12 A80 80 0 0 1 711.67 847.15" fill="none" stroke="#66c2a5" stroke-width="1.0" stroke-dasharray="0.8 1.8" opacity="0.44"/><path d="M722.1 847.4L722.2 846.0M719.5 847.3L719.6 846.0M744.5 852.9L744.7 852.2M758.1 860.0L759.2 858.3M735.6 849.9L736.0 848.6M744.6 852.9L745.5 850.7M749.1 854.9L749.6 854.0M731.8 849.0L732.0 847.9M754.7 857.9L755.8 855.9M736.8 850.3L737.4 848.4M737.4 850.4L738.4 847.4M749.2 855.0L749.6 854.3M726.8 848.0L727.3 845.1M722.2 847.5L722.4 845.1M746.0 853.5L747.1 850.9M750.1 855.4L750.3 854.8M740.2 851.3L741.1 848.5M727.7 848.2L727.9 847.1M739.4 851.0L740.3 848.4M753.1 857.0L752.5 858.0M749.2 855.0L751.1 851.2M737.3 850.4L738.6 846.0M754.8 857.9L755.3 857.1M741.7 851.8L742.8 848.7M751.5 856.1L751.8 855.4M744.2 852.8L745.0 850.8M757.1 859.3L761.5 852.1M756.6 859.0L757.6 857.4M720.4 847.3L720.5 846.2M750.2 855.5L752.1 851.7M744.9 853.0L745.7 850.9M734.0 849.5L734.1 848.8M720.5 847.3L720.7 844.8M716.6 847.1L716.7 844.0M749.1 854.9L749.4 854.3M764.9 864.9L765.4 864.3M774.5 874.1L776.7 872.2M786.3 891.6L789.6 890.0M768.7 868.2L769.2 867.6M786.0 891.1L790.2 889.0M772.5 871.9L773.2 871.3M788.3 895.9L788.8 895.7M770.4 869.8L771.1 869.2M776.4 876.3L776.9 875.9M763.2 863.6L764.0 862.5M779.2 879.9L776.7 881.7M766.5 866.2L768.4 863.9M782.2 884.3L783.2 883.7M782.0 884.0L782.9 883.5M771.0 870.3L768.7 872.6M788.2 895.8L789.4 895.3M774.3 873.8L777.2 871.3M781.8 883.7L782.9 882.9M766.0 865.8L766.6 865.1M778.3 878.7L779.1 878.1M788.4 896.3L794.7 893.7M775.0 874.6L779.6 870.6M783.0 885.6L788.5 882.2M772.3 871.7L769.0 874.8M767.6 867.1L766.2 868.6M787.0 893.1L794.6 889.6M768.8 868.3L769.8 867.3M784.1 887.4L785.6 886.5M777.3 877.5L778.2 876.8M777.4 877.6L774.5 879.9M775.4 875.1L772.2 877.9M794.5 931.3L797.6 931.4M793.7 915.3L794.4 915.2M794.3 919.7L796.8 919.5M794.2 918.7L795.6 918.6M794.5 923.9L795.3 923.9M794.3 934.0L797.1 934.2M791.2 904.0L793.8 903.2M794.5 922.9L795.9 922.9M794.6 926.7L796.8 926.7M794.5 930.1L795.5 930.2M794.1 918.0L793.2 918.1M794.2 934.7L793.5 934.7M792.4 945.8L794.5 946.3M792.9 943.5L794.7 943.9M794.4 920.9L796.1 920.7M792.7 944.5L793.7 944.7M794.6 925.5L793.8 925.5M794.1 918.4L791.7 918.6M793.8 916.1L796.2 915.8M794.3 920.3L799.4 919.9M791.1 903.7L793.1 903.1M793.6 914.4L795.1 914.1M792.1 947.1L790.8 946.8M791.5 949.1L797.5 950.8M793.7 938.8L801.0 939.9M790.5 901.7L794.2 900.5M794.6 929.7L795.3 929.7M794.6 927.2L802.5 927.2M794.5 922.6L797.3 922.5M792.4 945.7L794.4 946.2M794.6 927.9L795.4 927.9M792.0 947.3L797.7 948.7M794.6 928.0L795.8 928.0M793.1 911.6L794.4 911.3M792.5 945.3L793.3 945.5M794.6 929.0L795.5 929.0M792.0 947.3L792.7 947.5M773.7 981.0L775.6 982.7M774.2 980.5L773.2 979.7M775.5 978.9L779.9 982.6M772.8 982.0L773.9 983.0M788.7 957.2L789.9 957.7M787.1 961.0L788.5 961.6M789.4 955.5L790.5 955.9M778.4 975.4L779.1 975.9M786.3 962.5L790.0 964.3M779.3 974.1L784.6 977.9M777.8 976.1L781.9 979.3M789.0 956.4L790.5 957.0M785.4 964.3L784.8 964.0M775.4 979.1L776.3 979.9M776.5 977.7L778.6 979.4M784.1 966.7L785.4 967.4M783.9 967.1L785.0 967.7M786.5 962.1L788.1 962.8M777.1 977.1L782.9 981.7M784.7 965.7L785.3 966.0M786.2 962.8L787.4 963.4M784.3 966.4L784.9 966.8M780.4 972.6L782.0 973.7M745.3 1001.0L746.5 1004.0M729.6 1005.7L730.2 1009.3M739.9 1003.0L740.3 1004.2M746.1 1000.6L747.1 1003.0M728.7 1005.8L729.2 1008.4M732.4 1005.1L732.8 1006.8M751.6 998.0L753.0 1000.6M750.0 998.9L751.6 1002.1M768.5 986.2L773.3 991.5M730.6 1005.5L730.8 1006.4M759.2 993.5L761.0 996.2M763.8 990.2L766.1 993.2M766.7 987.8L767.3 988.5M743.6 1001.7L742.0 997.7M767.8 986.8L768.4 987.5M762.5 991.2L763.0 991.9M758.8 993.8L759.7 995.2M748.7 999.5L749.0 1000.2M733.4 1004.9L733.7 1006.1M735.8 1004.3L736.3 1006.2M760.1 992.9L760.7 993.8M746.3 1000.5L746.7 1001.4M751.7 998.0L753.2 1001.0M769.1 985.7L769.6 986.2M752.9 997.3L753.8 999.0M769.4 985.3L770.8 986.8M733.5 1004.8L734.2 1007.9M753.4 997.1L750.8 992.4M769.0 985.8L770.0 986.9M737.0 1003.9L737.7 1006.1M765.0 989.2L767.9 992.7M758.5 994.0L762.1 999.5M765.3 989.0L766.2 990.0M750.4 998.7L751.9 1001.7M726.2 1006.3L727.3 1013.5M729.4 1005.7L730.1 1009.8M725.1 1006.4L725.2 1007.4M691.3 1003.6L690.4 1006.6M673.9 996.0L673.5 996.5M716.4 1007.1L716.4 1008.2M708.2 1006.8L707.9 1010.2M669.8 993.4L669.1 994.4M677.3 997.8L675.7 1000.8M694.1 1004.4L693.9 1005.1M675.2 996.7L674.3 998.3M669.1 992.9L668.0 994.5M690.4 1003.3L689.7 1005.4M694.7 1004.6L694.5 1005.3M672.4 995.1L671.9 996.0M697.2 1005.2L697.0 1006.0M700.5 1005.8L700.1 1008.1M699.0 1005.6L698.6 1007.7M710.9 1007.0L710.9 1007.8M694.8 1004.6L694.4 1006.2M712.3 1007.1L712.3 1008.7M671.5 994.5L670.5 996.2M674.7 996.4L674.4 997.0M709.1 1006.9L709.0 1009.4M682.7 1000.5L683.1 999.5M687.6 1002.4L687.0 1004.2M690.6 1003.4L690.0 1005.5M679.8 999.1L678.6 1001.6M684.3 1001.1L683.5 1003.1M717.1 1007.1L717.1 1008.6M674.0 996.0L673.5 996.7M719.5 1007.0L719.6 1009.2M679.4 998.9L677.9 1001.9M693.8 1004.3L693.6 1005.2M710.3 1007.0L710.2 1008.3M698.8 1005.5L698.6 1006.9M693.2 1004.2L693.5 1003.1M672.3 995.0L674.2 992.0M698.1 1005.4L697.2 1009.7M719.3 1007.0L719.3 1007.9M681.2 999.8L682.3 997.4M694.8 1004.6L694.5 1005.7M708.3 1006.9L708.1 1008.7M688.9 1002.9L688.1 1005.2M647.2 970.2L646.6 970.6M651.9 976.8L649.8 978.5M652.4 977.4L651.8 977.8M659.2 984.8L658.7 985.3M650.6 975.1L649.8 975.7M659.4 985.0L658.3 986.2M662.8 988.0L662.0 988.9M648.9 972.7L648.1 973.3M648.4 972.0L646.3 973.4M648.2 971.7L646.8 972.7M648.3 971.8L646.8 972.8M643.4 963.5L638.7 965.9M645.3 967.0L643.3 968.1M646.8 969.5L644.9 970.7M645.1 966.8L641.4 968.9M659.7 985.3L658.7 986.5M658.4 984.0L656.0 986.5M661.0 986.5L660.3 987.2M663.1 988.3L659.7 992.3M655.9 981.5L659.6 978.0M656.9 982.5L656.1 983.3M645.9 968.1L646.9 967.5M649.0 972.9L646.9 974.3M652.0 976.9L648.2 979.8M656.9 982.5L657.9 981.5M655.5 981.1L654.8 981.7M644.2 965.1L643.6 965.4M654.9 980.3L653.9 981.1M641.2 959.0L638.7 960.1M649.8 974.0L647.0 976.0M635.8 940.9L634.8 941.0M637.5 948.6L634.2 949.5M634.6 926.6L633.2 926.5M634.7 930.0L631.1 930.1M637.5 948.5L628.9 950.9M636.6 945.0L634.5 945.5M636.6 944.9L635.4 945.2M634.7 930.4L632.6 930.5M635.4 915.8L632.7 915.4M636.1 942.3L635.3 942.5M637.1 946.8L636.0 947.1M635.1 935.6L628.5 936.3M636.8 945.6L633.5 946.4M634.6 925.1L635.3 925.1M637.4 948.1L634.9 948.8M635.6 940.0L633.5 940.4M635.1 936.1L632.0 936.5M637.8 949.6L635.9 950.2M634.8 920.9L631.4 920.6M634.6 924.8L633.8 924.8M637.3 947.7L636.2 948.1M634.7 923.6L633.7 923.6M636.4 944.1L635.4 944.4M635.8 940.8L643.3 939.5M635.1 936.1L633.7 936.2M634.7 923.6L632.7 923.5M635.5 915.4L633.1 915.1M634.7 924.1L633.9 924.1M667.1 862.7L666.6 862.1M641.4 894.9L640.7 894.6M641.9 893.6L640.0 892.7M638.1 903.8L637.3 903.5M649.4 880.8L646.4 878.6M638.5 902.5L633.8 901.0M649.9 880.0L649.4 879.6M645.5 886.8L640.0 883.5M662.6 866.3L668.1 872.8M644.6 888.3L643.7 887.8M657.2 871.4L655.7 870.0M642.4 892.7L641.8 892.4M644.4 888.7L642.8 887.9M648.2 882.5L647.0 881.6M653.0 876.0L652.4 875.5M651.0 878.6L649.8 877.6M665.7 863.8L665.1 863.0M670.3 860.5L669.6 859.5M642.0 893.5L641.3 893.2M644.1 889.3L646.1 890.3M665.7 863.8L664.4 862.2M641.3 895.1L640.3 894.6M658.1 870.4L658.6 870.9M643.7 890.0L645.6 891.0M672.4 859.2L670.7 856.5M639.0 901.0L637.9 900.6M645.9 886.1L647.0 886.8M657.9 870.6L657.4 870.1M652.9 876.2L650.5 874.2M658.2 870.4L655.0 867.2M638.7 901.8L636.2 900.9M637.6 905.3L635.6 904.8M639.6 899.2L638.8 898.8M647.6 883.4L646.8 882.8M642.2 893.0L639.5 891.7M657.0 871.5L656.5 871.0M637.1 907.3L635.8 907.0M659.0 869.6L658.0 868.6M657.6 870.9L657.2 870.5M636.7 908.8L632.7 907.9M651.9 877.5L651.4 877.1M637.9 904.3L630.4 902.0M681.3 854.4L679.6 850.7M642.2 893.2L641.0 892.6M639.8 898.7L638.6 898.2M666.4 863.3L665.5 862.1M665.0 864.4L662.7 861.6M673.0 858.8L671.4 856.2M653.1 875.9L651.8 874.9M645.7 886.4L643.6 885.2M667.8 862.2L667.1 861.1M680.2 854.9L679.8 854.1M638.8 901.6L637.6 901.2M646.3 885.5L643.8 883.9M681.5 854.3L679.2 849.5M655.9 872.8L654.9 871.9M703.6 847.9L703.8 849.2M706.1 847.6L706.0 846.6M695.7 849.4L694.6 844.7M709.8 847.2L709.7 846.3M699.3 848.6L698.7 846.0M693.7 849.9L693.1 847.7M690.6 850.8L691.1 852.4M705.6 847.6L705.4 846.2M689.2 851.3L688.6 849.7M704.4 847.8L704.2 846.3M700.6 848.3L700.3 846.5M698.1 848.8L696.4 840.7M689.3 851.2L688.5 849.1M693.4 850.0L692.6 847.1M693.8 849.9L693.1 847.4M690.3 850.9L689.0 846.9M699.6 848.5L699.1 845.8M695.6 849.4L695.4 848.6" fill="none" stroke="#66c2a5" stroke-width="0.7" opacity="0.47"/><path d="M714.92 866.9 A60.2 60.2 0 0 1 748.91 877.64M750.96 879.12 A60.2 60.2 0 0 1 770.42 904.55M771.36 907.04 A60.2 60.2 0 0 1 772.05 945.1M771.08 947.94 A60.2 60.2 0 0 1 758.23 968.58M756.27 970.55 A60.2 60.2 0 0 1 722.25 986.81M719.74 987.08 A60.2 60.2 0 0 1 679.39 975.93M677.29 974.34 A60.2 60.2 0 0 1 658.74 949.55M657.65 946.6 A60.2 60.2 0 0 1 655.08 918.1M655.53 915.51 A60.2 60.2 0 0 1 690.6 871.89M693.62 870.68 A60.2 60.2 0 0 1 712.39 866.94" fill="none" stroke="#3288bd" stroke-width="1.5" stroke-dasharray="1.5 0.4" opacity="0.6"/><path d="M740.6 872.8L740.0 874.1M715.4 866.9L715.5 862.1M738.6 871.9L740.9 866.8M731.6 869.4L733.8 862.2M723.1 867.5L723.7 863.3M735.0 870.4L735.5 868.9M746.1 875.8L746.8 874.6M734.5 870.3L733.6 873.0M718.5 867.0L718.6 865.9M733.3 869.9L733.9 868.0M728.9 868.6L729.3 866.7M746.7 876.2L747.5 874.9M748.6 877.4L746.7 880.3M723.2 867.5L723.1 868.7M720.5 867.2L720.7 865.0M738.3 871.8L738.7 870.9M745.3 875.3L746.1 874.1M720.3 867.2L720.6 864.7M722.6 867.4L722.7 866.6M730.1 868.9L729.7 870.6M745.6 875.5L745.1 876.4M745.3 875.3L746.2 873.9M728.1 868.4L728.9 864.9M722.4 867.4L722.9 863.8M719.3 867.1L719.5 864.3M724.8 867.8L725.0 866.8M717.0 866.9L717.0 865.9M724.9 867.8L725.3 865.5M731.6 869.4L731.9 868.4M715.6 866.9L715.6 869.7M731.0 869.2L731.3 868.1M739.7 872.4L740.3 870.9M743.0 874.0L742.5 874.9M741.3 873.1L741.9 871.8M727.2 868.2L728.2 863.6M766.2 896.0L767.3 895.3M765.3 894.6L766.3 894.0M769.4 902.3L770.3 901.9M768.3 899.9L770.3 898.9M759.7 887.2L762.8 884.5M760.7 888.4L761.4 887.9M768.4 900.1L769.6 899.4M768.4 900.1L767.2 900.8M760.6 888.3L761.2 887.8M763.1 891.4L765.1 890.0M764.5 893.4L765.1 893.0M763.4 891.8L764.9 890.7M763.2 891.6L764.4 890.7M769.2 901.7L771.2 900.8M763.3 891.7L764.4 891.0M764.1 892.9L765.4 892.0M755.5 883.0L756.5 881.9M755.8 883.2L758.6 880.2M769.3 902.0L770.4 901.5M764.2 892.9L762.1 894.4M757.5 884.9L758.3 884.2M763.6 892.2L766.9 889.8M767.9 899.1L768.5 898.8M754.3 881.8L750.9 885.7M762.8 891.0L765.2 889.2M765.4 894.8L766.0 894.4M766.6 896.8L767.4 896.3M767.8 898.9L763.6 901.1M769.8 903.2L772.7 901.9M760.9 888.6L761.7 887.9M767.8 898.9L769.5 898.0M774.5 921.3L775.8 921.2M774.4 934.0L777.0 934.3M772.7 943.0L775.4 943.7M774.1 917.8L774.7 917.7M772.9 912.0L773.8 911.8M774.0 937.1L774.8 937.3M774.1 936.0L775.2 936.2M774.3 919.3L776.3 919.0M774.3 919.2L773.7 919.2M774.7 924.1L775.4 924.0M773.3 940.5L774.1 940.7M772.3 944.4L772.9 944.6M772.7 911.3L774.8 910.7M772.5 910.5L777.6 909.0M773.9 917.0L771.9 917.3M773.3 940.4L775.5 940.9M773.4 939.9L778.8 941.1M774.8 928.9L771.1 928.8M772.6 911.1L782.3 908.5M773.3 913.7L774.1 913.5M771.8 908.4L772.8 908.1M772.2 909.7L772.8 909.6M773.1 912.9L774.9 912.4M773.5 939.7L777.6 940.6M774.1 936.4L775.8 936.7M773.9 937.5L776.3 937.9M773.0 912.5L780.9 910.5M774.1 936.4L775.5 936.6M774.1 917.8L772.5 918.1M772.3 910.1L773.2 909.8M772.5 910.5L773.2 910.2M772.8 942.5L776.3 943.5M774.8 926.3L776.2 926.3M773.5 914.5L774.5 914.3M773.9 916.8L775.4 916.5M774.0 917.2L775.8 916.9M774.1 917.9L775.8 917.6M766.3 958.0L760.1 954.3M764.3 961.1L765.1 961.7M763.9 961.7L765.3 962.7M759.2 967.5L758.0 966.4M766.6 957.5L770.2 959.6M764.8 960.3L765.8 960.9M765.6 959.0L768.7 960.9M768.5 954.0L767.1 953.3M762.0 964.2L764.2 965.9M762.7 963.3L763.9 964.2M767.7 955.5L769.6 956.5M766.4 957.8L767.7 958.5M768.3 954.4L769.7 955.1M766.2 958.1L768.2 959.3M770.0 950.7L768.8 950.2M770.9 948.4L773.3 949.3M770.8 948.7L772.7 949.5M767.8 955.2L774.3 958.6M763.5 962.2L768.7 965.9M764.9 960.2L764.3 959.8M769.6 951.6L772.2 952.7M765.4 959.4L770.1 962.5M770.0 950.8L770.8 951.1M734.5 983.9L735.0 985.3M740.0 981.7L740.8 983.6M753.8 972.8L758.4 978.1M750.3 975.5L750.0 975.0M754.0 972.6L754.4 973.1M747.8 977.3L748.3 978.1M726.6 986.1L727.1 988.5M745.7 978.7L746.0 979.3M755.5 971.3L756.3 972.3M748.4 976.9L747.6 975.8M745.8 978.6L745.1 977.4M747.7 977.4L748.6 978.8M741.5 981.0L739.9 977.9M740.4 981.5L740.7 982.1M745.9 978.5L744.9 976.8M729.8 985.3L730.3 987.0M727.8 985.8L728.5 988.8M723.9 986.6L724.2 988.6M725.5 986.3L725.4 985.6M748.2 977.0L748.9 978.1M735.5 983.6L735.9 984.7M734.7 983.8L737.5 991.8M737.3 982.8L738.0 984.6M725.9 986.2L726.2 987.8M752.7 973.7L753.3 974.5M734.4 983.9L734.9 985.3M740.1 981.6L740.5 982.4M734.2 984.0L732.1 978.0M738.6 982.3L740.4 986.4M725.9 986.2L726.9 991.6M754.2 972.5L757.0 975.6M751.5 974.7L752.9 976.5M748.3 977.0L749.0 978.1M754.8 971.9L753.8 970.8M753.3 973.2L753.7 973.7M731.8 984.8L731.4 983.5M736.1 983.3L736.4 984.3M701.5 985.9L701.1 987.8M700.6 985.6L700.3 986.9M708.1 987.0L707.7 991.0M708.2 987.0L708.1 988.3M683.4 978.6L684.2 977.3M714.5 987.3L714.5 988.5M687.8 981.0L688.1 980.2M718.0 987.2L718.0 987.8M690.3 982.2L690.0 982.9M700.4 985.6L700.2 986.5M696.2 984.4L696.6 983.3M714.7 987.3L714.7 991.1M708.4 987.0L708.3 988.1M684.8 979.4L683.1 982.3M714.2 987.3L714.2 989.2M703.8 986.3L703.7 987.1M682.5 978.0L682.0 978.7M715.6 987.3L715.6 989.6M707.6 986.9L707.8 985.4M711.1 987.2L710.8 992.2M684.9 979.5L683.9 981.3M714.2 987.3L714.2 984.1M686.0 980.1L683.7 984.4M691.8 982.8L688.6 990.6M718.1 987.2L718.2 987.9M695.8 984.3L692.6 993.8M703.9 986.3L705.4 978.4M708.3 987.0L708.8 982.5M718.2 987.2L718.3 988.3M707.5 986.9L707.0 990.6M705.2 986.6L705.1 987.4M708.4 987.0L708.6 985.6M682.5 978.0L681.9 979.0M697.0 984.7L696.5 986.4M683.5 978.7L682.7 980.0M700.7 985.7L700.5 986.5M683.6 978.7L680.7 983.5M703.9 986.3L703.8 987.0M692.8 983.2L691.8 985.8M684.1 979.0L683.4 980.2M709.1 987.0L709.3 984.8M665.9 962.5L663.5 964.3M659.8 952.0L658.6 952.6M670.2 967.7L662.8 974.4M662.3 956.9L660.9 957.7M674.6 972.1L673.8 973.0M666.1 962.8L665.0 963.6M660.2 953.0L659.6 953.2M674.9 972.3L672.3 975.2M665.3 961.6L663.9 962.6M661.7 955.9L661.2 956.2M660.9 954.4L660.0 954.9M672.8 970.5L675.1 968.1M673.4 971.0L672.0 972.6M675.1 972.5L674.7 973.0M669.3 966.7L668.7 967.3M659.5 951.4L656.6 952.7M670.2 967.8L669.5 968.4M659.1 950.4L658.0 950.8M671.4 969.0L667.3 973.0M664.9 961.1L662.4 962.8M674.6 972.1L673.7 973.1M670.5 968.1L669.2 969.3M668.3 965.5L667.5 966.2M670.0 967.6L671.2 966.5M659.8 951.9L661.8 951.0M668.7 966.1L668.2 966.6M668.2 965.5L667.6 966.0M662.9 958.0L661.7 958.8M660.7 953.9L659.6 954.5M666.0 962.6L665.4 963.1M655.0 935.7L653.7 935.9M654.9 935.0L653.3 935.3M654.7 933.0L656.1 932.8M654.6 932.4L656.2 932.2M654.4 925.5L650.0 925.4M654.8 920.4L652.0 920.1M654.5 923.5L653.2 923.4M654.9 935.0L657.1 934.7M656.4 942.5L652.1 943.6M654.9 919.0L652.6 918.7M656.6 943.3L655.8 943.6M656.7 943.6L652.7 944.7M654.6 922.6L652.5 922.4M657.1 944.9L656.0 945.2M654.9 934.8L658.4 934.4M657.0 944.7L652.8 946.0M654.6 922.8L653.8 922.8M654.5 929.6L652.5 929.7M654.9 919.0L652.0 918.6M656.6 943.1L654.3 943.7M654.6 922.2L651.4 921.9M656.0 940.8L654.6 941.2M657.2 945.3L654.6 946.1M654.4 925.4L657.8 925.5M654.4 925.7L646.0 925.5M655.5 938.4L654.5 938.6M655.1 936.0L654.0 936.1M655.9 940.3L657.4 939.9M666.9 890.3L661.3 886.0M680.1 877.8L681.6 879.9M670.0 886.6L668.1 884.9M662.3 897.2L659.5 895.6M656.1 913.0L657.7 913.4M665.3 892.6L664.7 892.2M671.4 885.2L669.8 883.6M657.0 909.7L656.4 909.6M679.2 878.4L680.3 879.9M672.5 884.1L672.0 883.6M661.5 898.6L662.2 899.0M667.7 889.4L666.9 888.7M660.7 900.3L659.5 899.7M658.9 904.2L657.9 903.7M663.3 895.5L661.9 894.7M659.2 903.6L654.0 901.5M664.3 894.1L663.4 893.5M689.4 872.4L687.7 868.9M658.1 906.4L657.3 906.2M667.2 890.0L665.6 888.7M681.9 876.6L683.1 878.5M656.8 910.1L655.7 909.8M666.0 891.6L667.0 892.3M656.4 911.6L654.9 911.2M663.4 895.4L662.7 894.9M671.0 885.6L668.4 883.1M657.0 909.6L654.4 908.8M684.4 875.0L679.4 866.3M665.7 892.1L663.8 890.7M672.7 883.9L671.8 882.9M680.0 877.8L679.5 877.1M659.5 902.8L658.4 902.3M666.0 891.6L667.5 892.7M669.5 887.2L671.0 888.5M687.2 873.5L685.4 870.0M675.2 881.6L673.4 879.6M688.5 872.8L688.2 872.1M663.3 895.6L659.5 893.2M687.5 873.3L687.0 872.4M673.0 883.5L671.5 882.0M685.3 874.5L683.6 871.5M676.7 880.3L674.2 877.2M655.7 914.7L654.2 914.4M661.1 899.5L658.1 898.0M682.2 876.4L684.4 879.9M660.0 901.7L666.4 904.7M656.0 913.5L657.0 913.7M680.0 877.8L677.7 874.5M655.7 914.8L653.4 914.3M680.6 877.4L679.9 876.3M686.7 873.8L685.8 871.9M666.1 891.4L665.2 890.8M655.8 914.3L650.3 913.1M680.9 877.2L680.0 876.0M656.6 910.9L658.1 911.3M660.1 901.5L662.7 902.7M710.7 867.0L710.6 865.5M697.2 869.5L697.0 868.9M699.4 868.9L699.0 867.3M708.9 867.2L708.7 865.1M709.2 867.1L709.1 865.2M694.1 870.5L693.8 869.5M703.0 868.0L702.5 865.8M698.2 869.2L697.9 868.3M696.2 869.8L694.9 865.6M705.5 867.6L704.0 858.2M698.4 869.1L698.2 868.2M710.9 867.0L710.7 864.2M702.6 868.1L701.8 864.4M696.9 869.6L696.0 866.5M695.6 870.0L695.1 868.7M711.3 867.0L710.8 858.7M708.0 867.3L707.6 864.1M705.5 867.6L705.0 864.2" fill="none" stroke="#3288bd" stroke-width="0.7" opacity="0.36"/><path d="M714.81 886.8 A40.3 40.3 0 0 1 737.57 893.99M738.94 894.98 A40.3 40.3 0 0 1 751.97 912M752.6 913.67 A40.3 40.3 0 0 1 753.06 939.15M752.41 941.05 A40.3 40.3 0 0 1 743.81 954.87M742.49 956.19 A40.3 40.3 0 0 1 719.72 967.07M718.04 967.25 A40.3 40.3 0 0 1 691.03 959.79M689.62 958.73 A40.3 40.3 0 0 1 677.21 942.13M676.47 940.15 A40.3 40.3 0 0 1 674.75 921.07M675.05 919.34 A40.3 40.3 0 0 1 698.53 890.14M700.55 889.33 A40.3 40.3 0 0 1 713.12 886.83" fill="none" stroke="#5e4fa2" stroke-width="1.5" stroke-dasharray="1.5 0.4" opacity="0.7"/><path d="M728.3 889.2L728.8 887.8M717.1 886.9L717.3 883.5M725.7 888.4L726.0 887.3M734.7 892.2L735.6 890.6M716.2 886.8L716.1 889.8M736.0 892.9L737.1 891.2M733.8 891.7L735.4 888.7M734.8 892.2L733.6 894.2M736.5 893.3L734.8 896.0M723.1 887.7L723.4 886.2M727.7 889.0L729.5 883.6M737.3 893.8L738.0 892.8M733.4 891.5L732.9 892.5M720.9 887.3L721.2 885.7M725.0 888.2L725.2 887.5M728.0 889.1L728.6 887.6M737.0 893.6L738.8 890.9M736.8 893.5L741.5 886.3M722.9 887.7L723.1 886.6M727.9 889.0L728.1 888.3M719.8 887.1L720.0 886.1M735.6 892.7L736.2 891.7M715.1 886.8L715.1 888.0M730.3 890.0L729.0 892.9M730.8 890.2L731.5 888.4M719.8 887.1L720.0 885.6M725.0 888.2L725.5 886.2M722.1 887.5L722.3 886.4M726.6 888.6L726.4 889.5M736.8 893.5L736.4 894.2M736.4 893.2L739.2 888.8M723.8 887.9L724.2 886.2M727.4 888.9L729.0 884.0M723.1 887.7L723.7 885.2M733.1 891.3L732.3 893.0M740.3 896.1L741.5 894.7M740.3 896.1L741.6 894.6M749.2 906.4L748.4 906.9M742.0 897.6L742.5 897.0M751.0 909.7L751.6 909.4M746.8 902.8L747.5 902.3M744.8 900.4L743.3 901.7M741.9 897.5L742.4 897.0M743.0 898.5L742.3 899.3M749.5 906.9L748.6 907.4M746.0 901.9L748.9 899.6M747.9 904.3L749.0 903.5M748.8 905.8L749.4 905.5M745.3 901.0L745.9 900.5M744.0 899.6L746.1 897.7M748.2 904.8L749.0 904.2M751.1 910.0L754.4 908.5M750.5 908.9L753.4 907.4M751.3 910.5L758.6 907.2M750.3 908.3L751.7 907.6M742.3 897.9L743.3 896.8M747.5 903.8L755.3 898.3M742.1 897.6L742.9 896.8M743.8 899.3L744.3 898.8M741.3 896.9L741.7 896.5M743.3 898.8L744.3 897.7M750.3 908.3L751.1 907.9M742.1 897.6L742.7 896.9M751.8 911.5L752.4 911.2M745.4 901.1L749.1 898.0M744.6 900.2L743.9 900.8M753.5 916.4L754.7 916.1M754.9 927.4L757.6 927.4M754.2 919.6L757.8 918.9M753.9 936.0L754.6 936.1M754.8 923.9L753.9 924.0M754.9 928.7L757.7 928.8M754.6 932.2L755.9 932.3M754.7 930.8L755.4 930.8M753.2 938.6L751.7 938.1M754.7 922.7L756.3 922.5M754.9 927.1L761.4 927.1M754.3 934.3L755.2 934.5M754.0 935.4L756.6 935.9M754.3 920.1L755.3 920.0M754.4 933.2L751.7 932.7M754.9 927.9L753.5 927.8M754.6 922.2L750.2 922.7M753.9 936.1L752.8 935.8M754.6 931.8L758.6 932.3M754.6 931.6L759.1 932.1M754.5 921.5L756.7 921.2M754.5 932.7L756.0 932.9M754.2 919.4L753.1 919.7M753.5 916.7L754.2 916.6M753.7 936.9L757.7 937.9M752.7 914.1L756.1 913.0M754.4 933.2L757.2 933.7M754.2 934.8L753.5 934.7M753.3 915.7L755.0 915.2M754.9 925.9L761.1 925.7M753.6 937.2L755.6 937.7M754.2 934.8L753.4 934.7M753.8 917.7L754.5 917.5M754.4 920.7L753.6 920.8M754.6 922.4L752.4 922.6M753.7 917.2L754.4 917.0M752.9 914.5L753.5 914.3M749.1 948.0L746.3 946.3M750.2 945.9L747.2 944.3M750.3 945.7L751.4 946.3M750.4 945.6L751.6 946.2M751.6 943.1L758.1 945.9M752.2 941.5L753.3 941.9M747.7 950.1L753.5 954.1M747.4 950.6L744.4 948.5M745.2 953.3L751.9 959.0M747.7 950.1L750.4 952.0M752.1 941.9L753.1 942.3M745.5 953.0L746.0 953.4M750.3 945.7L748.5 944.7M751.0 944.4L752.9 945.4M744.9 953.6L745.6 954.3M752.4 941.2L757.3 943.0M752.2 941.5L753.0 941.8M746.7 951.5L745.5 950.5M750.0 946.3L751.5 947.1M749.1 947.9L753.7 950.7M746.7 951.5L748.1 952.6M747.3 950.7L745.9 949.6M751.5 943.3L754.0 944.4M736.4 961.0L737.1 962.1M741.3 957.3L742.9 959.0M725.1 966.0L725.3 966.7M721.0 966.9L721.5 970.0M722.2 966.7L722.6 968.5M724.6 966.1L725.0 967.6M738.8 959.3L740.4 961.4M732.0 963.4L730.1 959.4M730.8 964.0L732.0 967.0M736.6 960.8L737.2 961.7M740.5 958.0L742.0 959.8M734.5 962.1L735.1 963.1M728.4 965.0L731.1 972.3M740.0 958.4L743.9 963.1M735.2 961.7L735.7 962.5M738.1 959.9L741.2 964.3M736.8 960.7L738.4 963.2M725.9 965.8L725.2 963.3M725.1 966.0L724.9 965.3M724.8 966.1L725.5 968.8M730.7 964.0L731.2 965.1M730.1 964.3L729.8 963.7M725.6 965.9L727.9 973.9M721.2 966.9L721.3 967.7M729.8 964.4L730.8 967.1M731.1 963.9L729.6 960.6M724.5 966.2L724.7 966.8M730.1 964.3L730.3 964.9M733.8 962.5L734.2 963.1M741.5 957.1L743.0 958.7M724.1 966.3L724.8 969.2M739.0 959.2L739.7 960.1M741.1 957.5L742.0 958.6M736.0 961.2L737.4 963.4M732.6 963.2L732.9 963.7M725.5 965.9L726.1 967.9M740.8 957.7L742.5 959.8M714.3 967.4L714.2 968.8M710.1 967.1L709.7 970.8M707.8 966.8L708.1 965.3M709.0 967.0L709.2 965.7M694.6 962.1L693.9 963.3M714.6 967.4L714.6 969.4M711.6 967.3L712.0 962.4M715.1 967.4L715.1 973.2M699.4 964.4L697.7 968.7M716.7 967.3L716.8 968.6M716.3 967.4L716.3 966.6M697.3 963.5L697.8 962.5M712.1 967.3L712.0 968.8M713.0 967.4L712.9 968.8M716.8 967.3L716.9 969.0M696.5 963.1L694.7 966.7M702.9 965.7L704.0 962.1M705.3 966.3L705.1 967.1M712.5 967.3L712.5 968.1M700.8 965.0L700.3 966.5M691.2 959.9L690.6 960.7M697.8 963.7L697.5 964.3M716.2 967.4L716.1 966.3M716.7 967.3L716.8 968.8M694.3 961.9L693.0 964.2M712.4 967.3L712.4 968.7M712.5 967.3L712.4 969.2M717.4 967.3L717.5 968.3M697.7 963.7L696.8 965.8M697.9 963.8L696.9 966.1M704.2 966.0L706.0 959.5M717.5 967.3L717.4 966.5M704.8 966.2L704.6 966.8M713.2 967.4L713.3 965.1M696.3 963.0L695.6 964.3M697.7 963.7L697.1 964.8M694.3 961.9L693.2 963.8M711.8 967.3L711.7 968.8M701.0 965.0L700.5 966.4M710.7 967.2L710.6 968.3M696.7 963.2L695.5 965.6M687.6 957.0L686.6 958.1M681.9 950.7L680.2 951.9M682.1 951.0L683.1 950.3M681.9 950.6L678.6 953.0M678.3 944.6L679.4 944.1M679.3 946.5L678.2 947.0M683.9 953.2L683.1 953.8M688.4 957.7L687.0 959.4M677.9 943.8L676.9 944.3M680.5 948.5L675.7 951.5M683.9 953.3L682.7 954.3M682.8 951.8L681.9 952.5M678.3 944.6L680.9 943.4M683.9 953.2L680.0 956.6M685.2 954.7L683.8 956.0M681.3 949.8L681.9 949.5M683.0 952.1L682.1 952.8M686.5 955.9L684.7 957.7M685.4 954.8L685.9 954.4M682.5 951.5L681.2 952.5M679.0 946.0L677.9 946.6M680.5 948.6L678.5 949.9M678.2 944.3L677.4 944.7M681.5 950.0L680.7 950.6M683.2 952.4L682.5 952.9M688.7 958.0L687.2 959.8M682.9 951.9L684.3 950.8M689.0 958.2L688.2 959.2M682.2 951.1L680.2 952.5M677.6 943.0L676.8 943.3M674.3 928.6L673.6 928.6M674.7 921.3L671.4 920.8M674.5 931.5L672.3 931.7M675.4 936.3L674.3 936.6M675.2 935.7L674.2 936.0M675.9 938.4L675.1 938.6M674.6 921.9L672.7 921.7M674.3 926.3L672.0 926.3M674.3 927.6L673.6 927.6M674.6 932.2L671.3 932.6M674.4 929.1L672.2 929.3M675.3 935.9L671.6 936.7M674.3 927.1L672.2 927.1M675.6 937.1L679.2 936.2M674.7 933.0L670.8 933.6M674.7 921.6L673.4 921.4M674.5 930.9L672.0 931.1M674.5 930.8L672.0 931.0M674.5 930.9L671.1 931.2M674.5 923.2L672.8 923.1M674.4 924.1L684.4 924.9M676.0 938.6L676.6 938.4M674.3 929.1L675.9 929.0M674.3 928.3L673.2 928.4M674.3 925.6L673.4 925.6M674.3 928.6L673.4 928.7M674.5 930.6L671.3 930.9M674.5 923.3L671.0 922.9M681.8 903.7L682.4 904.2M682.3 903.0L680.8 901.9M688.1 896.8L687.5 896.1M686.2 898.5L680.8 893.0M695.0 891.9L692.8 887.8M683.2 901.8L681.0 900.0M678.3 909.6L677.4 909.2M678.3 909.5L677.7 909.2M694.7 892.0L692.6 888.3M692.2 893.6L691.4 892.5M690.7 894.7L689.9 893.5M684.2 900.6L683.3 899.8M679.8 906.8L679.0 906.3M675.2 918.5L673.8 918.2M686.9 897.8L685.7 896.5M688.2 896.6L687.8 896.1M688.9 896.1L688.1 895.1M688.3 896.6L687.9 896.0M677.4 911.5L678.8 912.1M688.4 896.5L687.1 895.0M688.1 896.7L686.8 895.2M688.9 896.0L688.2 895.2M675.8 916.2L670.8 914.9M688.8 896.1L689.7 897.2M684.0 900.9L678.9 896.5M681.9 903.5L680.8 902.7M676.2 914.9L675.0 914.6M676.2 914.9L677.3 915.3M683.9 901.0L682.2 899.5M677.9 910.5L674.1 908.8M681.3 904.4L683.7 906.1M678.3 909.7L681.7 911.3M692.9 893.1L691.3 890.5M694.9 892.0L695.2 892.6M698.1 890.3L697.3 888.6M681.1 904.8L676.4 901.7M676.1 915.2L676.7 915.4M693.3 892.9L692.3 891.1M675.2 918.8L673.9 918.6M685.7 899.1L685.1 898.5M687.6 897.2L684.5 893.8M681.0 904.9L679.6 904.0M687.4 897.3L689.1 899.1M683.8 901.1L681.8 899.5M682.4 902.9L678.4 900.0M686.6 898.1L684.0 895.4M695.3 891.7L694.2 889.7M685.2 899.5L684.5 898.8M677.5 911.4L674.8 910.3M687.0 897.8L685.9 896.6M691.5 894.1L688.0 889.0M685.1 899.7L683.5 898.2M689.9 895.3L696.0 903.2M680.1 906.3L677.9 905.0M683.4 901.6L682.0 900.4M677.1 912.3L675.6 911.7M701.9 888.9L701.4 887.4M707.0 887.5L706.9 886.8M708.5 887.3L708.6 888.0M710.5 887.0L710.3 885.4M704.4 888.1L702.4 880.3M705.5 887.8L705.2 886.5M704.9 888.0L703.9 883.7M702.5 888.7L703.2 891.0M710.0 887.1L709.9 886.2M703.1 888.5L701.4 883.0M709.6 887.1L709.5 885.8M710.3 887.0L710.2 886.1M703.1 888.5L703.8 891.1M710.6 887.0L710.5 886.3M705.6 887.8L705.4 887.1M703.1 888.5L702.6 886.7M704.8 888.0L704.6 887.4M703.2 888.4L700.4 878.9" fill="none" stroke="#5e4fa2" stroke-width="0.7" opacity="0.42"/></g>
<text x="715.3" y="758.9" font-size="8.6" fill="#9e0142" opacity="0.85" text-anchor="middle" font-weight="bold" font-family='"Liberation Serif", serif'>91-112-0h</text>
<text x="715.3" y="779.8" font-size="8.6" fill="#d5506a" opacity="0.85" text-anchor="middle" font-weight="bold" font-family='"Liberation Serif", serif'>91-112-24h</text>
<text x="715.3" y="799.3" font-size="8.6" fill="#e8703c" opacity="0.85" text-anchor="middle" font-weight="bold" font-family='"Liberation Serif", serif'>91-112-72h</text>
<text x="715.3" y="818.3" font-size="8.6" fill="#f5a860" opacity="0.85" text-anchor="middle" font-weight="bold" font-family='"Liberation Serif", serif'>91-112-120h</text>
<text x="715.3" y="837.3" font-size="8.6" fill="#a6d8a0" opacity="0.85" text-anchor="middle" font-weight="bold" font-family='"Liberation Serif", serif'>T12-19-0h</text>
<text x="715.3" y="859.6" font-size="8.6" fill="#5fbf9f" opacity="0.85" text-anchor="middle" font-weight="bold" font-family='"Liberation Serif", serif'>T12-19-24h</text>
<text x="715.3" y="880.3" font-size="8.6" fill="#3b8cc0" opacity="0.85" text-anchor="middle" font-weight="bold" font-family='"Liberation Serif", serif'>T12-19-72h</text>
<text x="715.3" y="904.2" font-size="8.6" fill="#4a3f90" opacity="0.85" text-anchor="middle" font-weight="bold" font-family='"Liberation Serif", serif'>T12-19-120h</text>
<text transform="translate(791.7 716.2) rotate(17.52)" font-size="30" text-anchor="middle" stroke="#000" stroke-width="0.45" font-family='"Liberation Sans", sans-serif' y="10.7">A01</text>
<text transform="translate(900.6 797.3) rotate(52.58)" font-size="30" text-anchor="middle" stroke="#000" stroke-width="0.45" font-family='"Liberation Sans", sans-serif' y="10.7">A02</text>
<text transform="translate(937.05 924.4) rotate(88.97)" font-size="30" text-anchor="middle" stroke="#000" stroke-width="0.45" font-family='"Liberation Sans", sans-serif' y="10.7">A03</text>
<text transform="translate(907.3 1030.3) rotate(-58.1)" font-size="30" text-anchor="middle" stroke="#000" stroke-width="0.45" font-family='"Liberation Sans", sans-serif' y="10.7">A04</text>
<text transform="translate(817.8 1120.8) rotate(-25.55)" font-size="30" text-anchor="middle" stroke="#000" stroke-width="0.45" font-family='"Liberation Sans", sans-serif' y="10.7">A05</text>
<text transform="translate(661.6 1138.8) rotate(15.45)" font-size="30" text-anchor="middle" stroke="#000" stroke-width="0.45" font-family='"Liberation Sans", sans-serif' y="10.7">A06</text>
<text transform="translate(542.4 1064.7) rotate(53.2)" font-size="30" text-anchor="middle" stroke="#000" stroke-width="0.45" font-family='"Liberation Sans", sans-serif' y="10.7">A07</text>
<text transform="translate(499.4 953.55) rotate(84.85)" font-size="30" text-anchor="middle" stroke="#000" stroke-width="0.45" font-family='"Liberation Sans", sans-serif' y="10.7">A08</text>
<text transform="translate(551 773.7) rotate(-51.2)" font-size="30" text-anchor="middle" stroke="#000" stroke-width="0.45" font-family='"Liberation Sans", sans-serif' y="10.7">A09</text>
<text transform="translate(683.3 707.3) rotate(-11.25)" font-size="30" text-anchor="middle" stroke="#000" stroke-width="0.45" font-family='"Liberation Sans", sans-serif' y="10.7">A10</text>
<text x="137" y="1208.8" font-size="27.3" fill="#000" text-anchor="start" font-weight="normal" font-family='"Liberation Sans", sans-serif' textLength="219.5" lengthAdjust="spacingAndGlyphs" stroke="#000" stroke-width="0.55">12-85 vs. 91-112</text>
<text x="629.9" y="1209.3" font-size="27.3" fill="#000" text-anchor="start" font-weight="normal" font-family='"Liberation Sans", sans-serif' textLength="237.4" lengthAdjust="spacingAndGlyphs" stroke="#000" stroke-width="0.55">T12-19 vs. 91-112</text></svg>
</body></html>
